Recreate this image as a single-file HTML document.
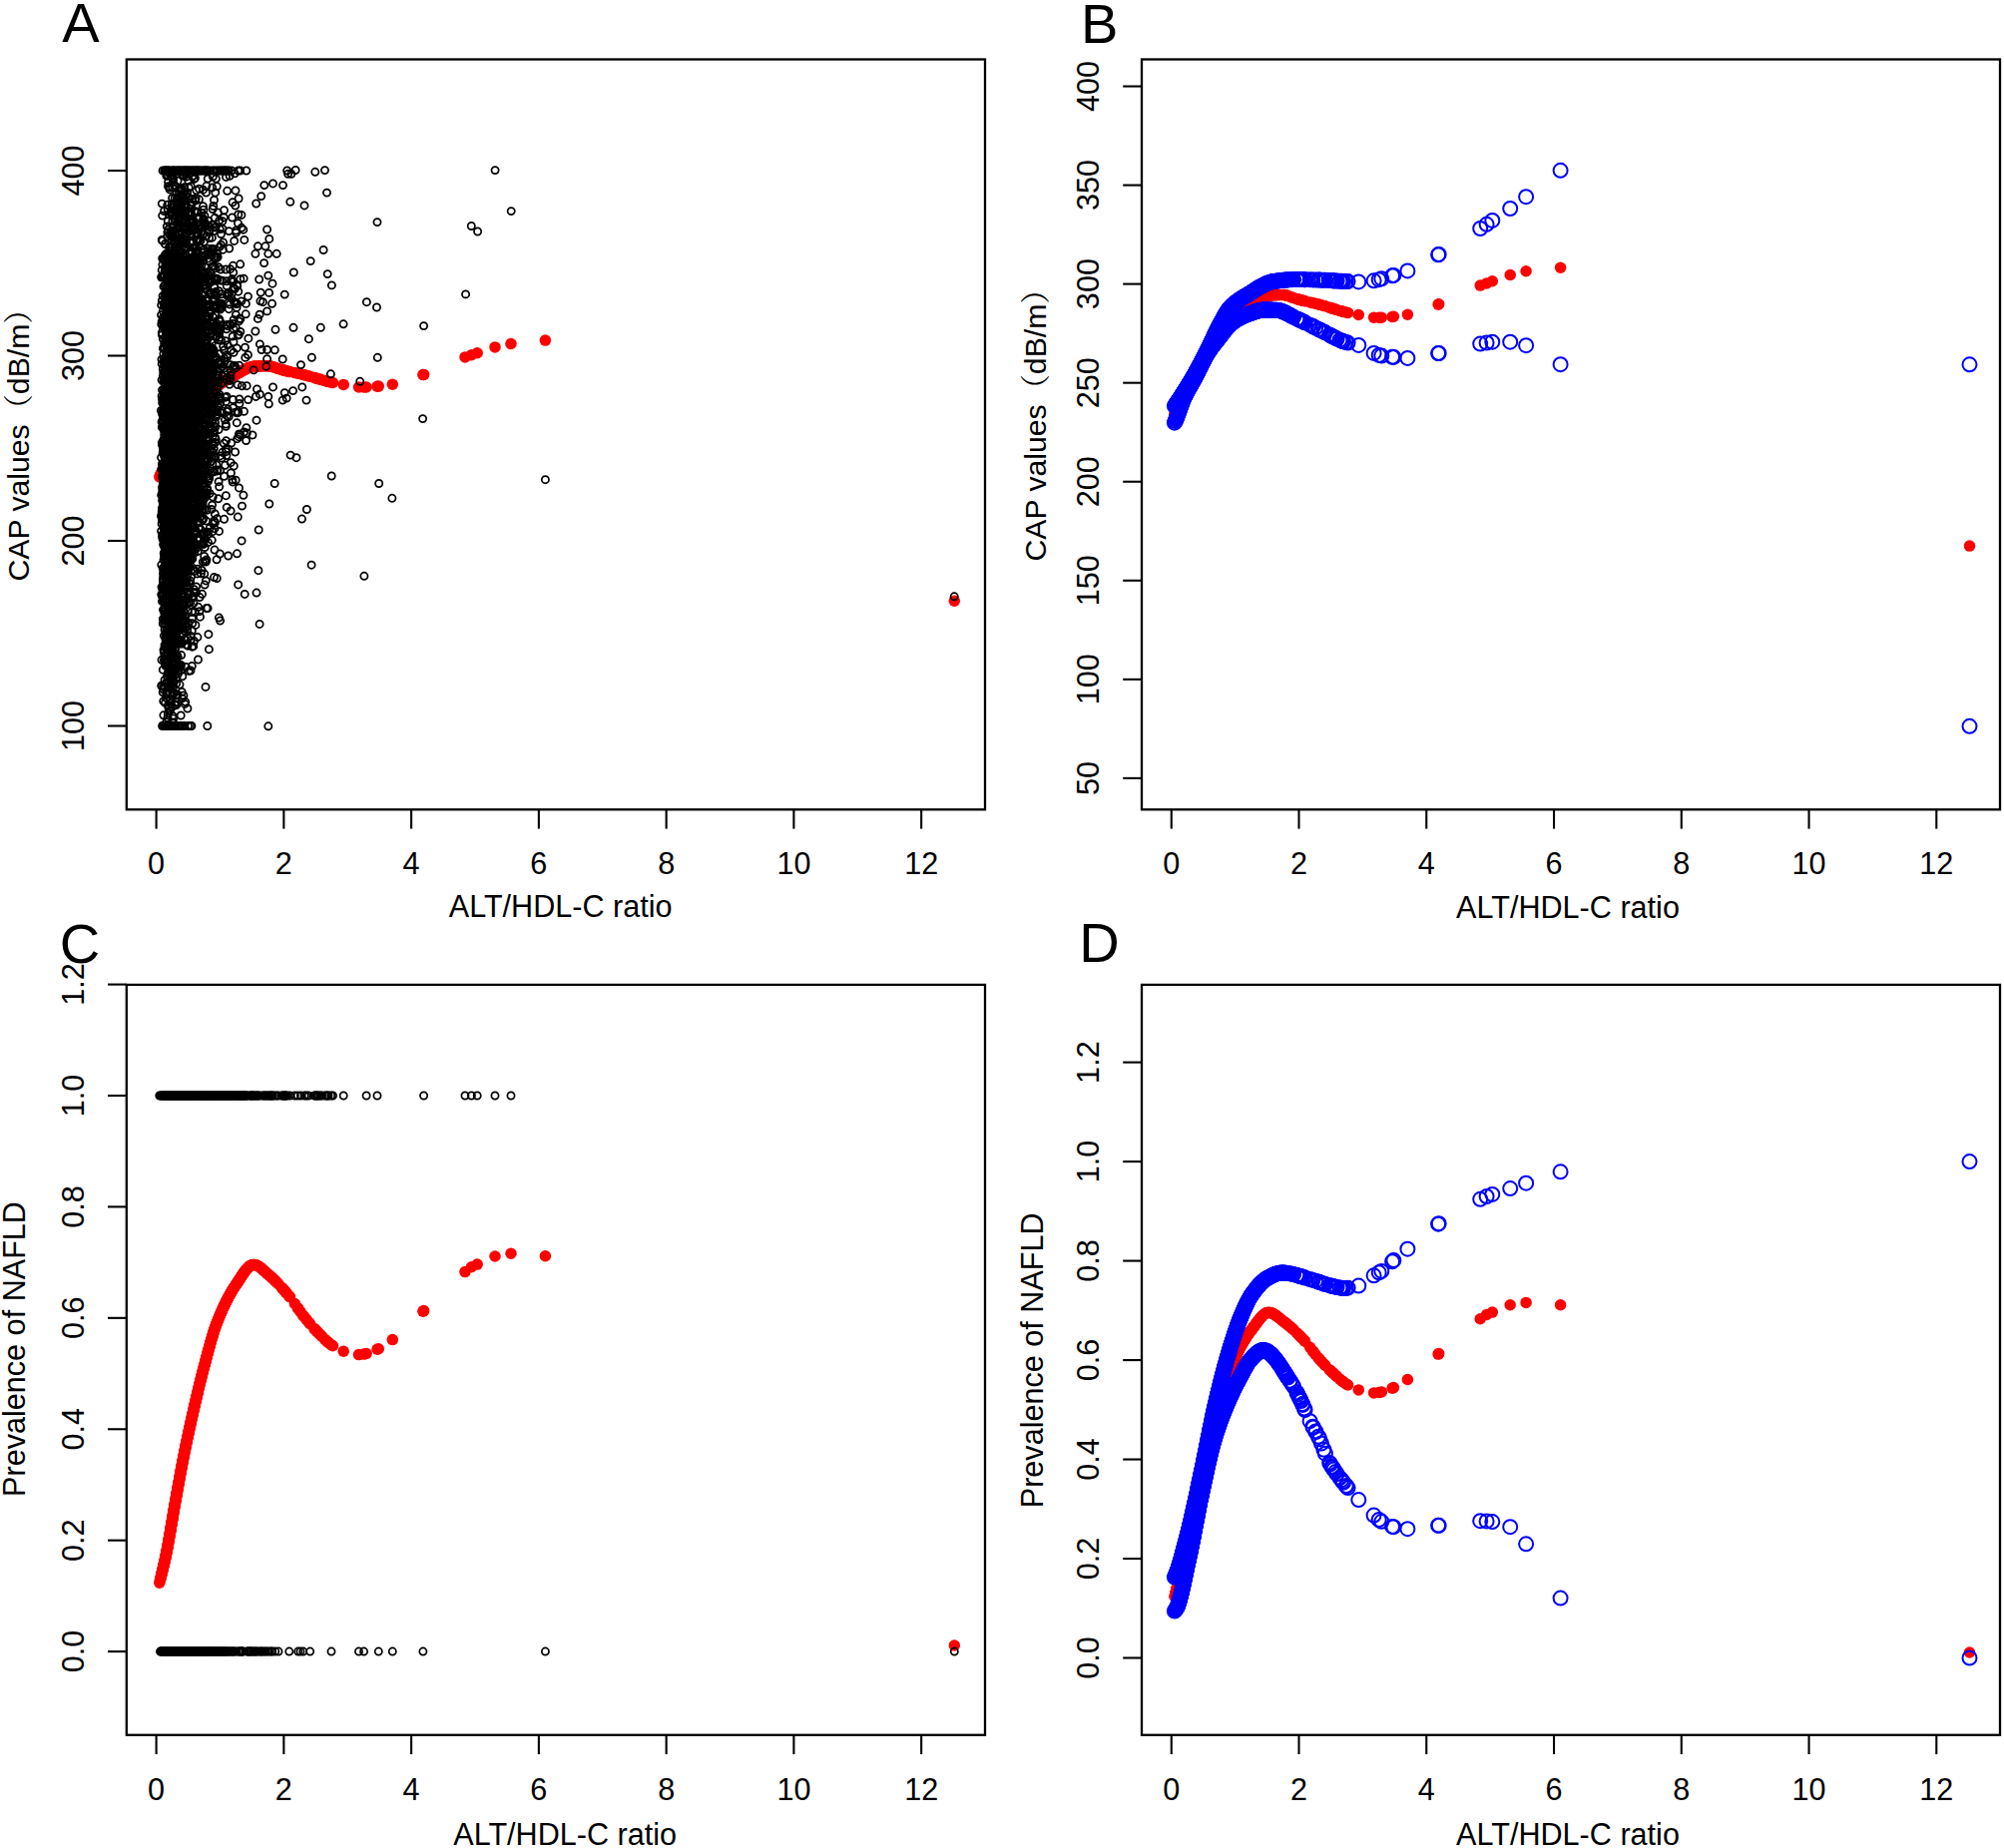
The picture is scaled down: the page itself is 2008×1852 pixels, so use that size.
<!DOCTYPE html>
<html><head><meta charset="utf-8"><title>Figure</title>
<style>
html,body{margin:0;padding:0;background:#fff;}
svg{display:block;}
.t{font-family:"Liberation Sans", Arial, sans-serif;font-size:30.6px;fill:#000;}
.cj{font-family:"Noto Serif CJK SC",serif;}
.L{font-family:"Liberation Sans", Arial, sans-serif;font-size:56px;fill:#000;}
</style></head><body>
<svg xmlns="http://www.w3.org/2000/svg" width="2008" height="1852" viewBox="0 0 2008 1852">
<defs>
<marker id="mb" markerUnits="userSpaceOnUse" markerWidth="12" markerHeight="12" refX="6" refY="6" overflow="visible"><circle cx="6" cy="6" r="3.6" fill="none" stroke="#000" stroke-width="1.75"/></marker>
<marker id="mr" markerUnits="userSpaceOnUse" markerWidth="12" markerHeight="12" refX="6" refY="6" overflow="visible"><circle cx="6" cy="6" r="5.75" fill="#f00"/></marker>
<marker id="mbl" markerUnits="userSpaceOnUse" markerWidth="16" markerHeight="16" refX="8" refY="8" overflow="visible"><circle cx="8" cy="8" r="7.0" fill="none" stroke="#00f" stroke-width="2.0"/></marker>
</defs>
<rect width="2008" height="1852" fill="#fff"/>
<polyline points="159.8,478.0 160.5,476.6 160.8,476.0 161.1,475.4 161.6,474.5 161.8,473.9 162.2,473.2 162.5,472.7 162.8,472.2 163.1,471.6 163.4,471.1 163.6,470.5 164.0,469.9 164.3,469.4 164.5,468.9 164.9,468.3 165.2,467.7 165.5,467.2 165.8,466.6 166.1,466.1 166.4,465.6 166.7,465.0 167.0,464.5 167.3,464.0 167.6,463.4 167.9,462.9 168.2,462.4 168.5,461.9 168.8,461.3 169.1,460.8 169.4,460.2 169.8,459.7 170.1,459.2 170.4,458.7 170.7,458.1 171.0,457.6 171.3,457.1 171.6,456.6 171.9,456.0 172.3,455.5 172.6,455.0 172.9,454.5 173.2,454.0 173.5,453.5 173.9,453.0 174.2,452.4 174.5,451.9 174.9,451.4 175.2,450.9 175.5,450.3 175.8,449.8 176.1,449.3 176.5,448.8 176.8,448.3 177.1,447.8 177.4,447.2 177.7,446.7 178.1,446.2 178.4,445.7 178.7,445.2 179.0,444.7 179.3,444.1 179.6,443.6 179.9,443.1 180.2,442.5 180.5,442.0 180.9,441.5 181.1,440.9 181.4,440.4 181.8,439.9 182.0,439.3 182.3,438.8 182.6,438.3 182.9,437.7 183.2,437.2 183.5,436.6 183.8,436.1 184.1,435.6 184.4,435.0 184.7,434.5 185.0,433.9 185.3,433.4 185.5,432.9 185.8,432.3 186.1,431.8 186.4,431.3 186.7,430.7 187.0,430.2 187.3,429.6 187.6,429.1 187.9,428.5 188.2,428.0 188.5,427.5 188.8,426.9 189.1,426.4 189.4,425.8 189.7,425.3 190.0,424.7 190.3,424.2 190.6,423.6 190.9,423.1 191.2,422.6 191.5,422.0 191.8,421.5 192.2,421.0 192.5,420.4 192.8,419.9 193.1,419.4 193.5,418.8 193.8,418.3 194.1,417.8 194.5,417.3 194.8,416.8 195.1,416.3 195.5,415.7 195.8,415.2 196.1,414.7 196.5,414.1 196.8,413.6 197.2,413.1 197.5,412.6 197.8,412.0 198.2,411.5 198.5,410.9 198.9,410.4 199.2,409.9 199.5,409.4 199.9,408.8 200.2,408.3 200.5,407.8 200.9,407.3 201.2,406.7 201.6,406.2 201.9,405.7 202.3,405.1 202.7,404.6 203.0,404.1 203.4,403.5 203.7,403.0 204.1,402.5 204.5,401.9 204.9,401.4 205.2,400.9 205.6,400.4 205.9,399.8 206.3,399.4 206.7,398.9 207.1,398.3 207.5,397.8 207.8,397.3 208.2,396.8 208.6,396.3 209.1,395.7 209.5,395.2 209.9,394.7 210.3,394.2 210.7,393.7 211.2,393.2 211.6,392.7 212.0,392.2 212.4,391.8 212.9,391.2 213.5,390.7 213.9,390.3 214.4,389.8 215.0,389.3 215.4,388.8 215.9,388.4 216.4,388.0 216.8,387.6 217.4,387.2 217.9,386.7 218.5,386.3 219.2,385.7 219.7,385.4 220.3,384.9 220.8,384.5 221.5,384.1 222.1,383.6 222.6,383.3 223.2,382.9 223.7,382.5 224.2,382.2 224.7,381.9 225.3,381.5 225.9,381.1 226.4,380.8 226.9,380.5 227.5,380.2 228.1,379.8 228.7,379.5 229.4,379.1 230.0,378.7 230.6,378.4 231.2,378.0 231.9,377.7 232.5,377.4 233.1,377.0 233.7,376.7 234.4,376.3 235.2,375.9 235.7,375.6 236.3,375.3 236.8,375.0 237.3,374.7 238.0,374.4 238.7,374.0 239.3,373.6 239.9,373.3 240.4,373.0 241.3,372.5 242.3,371.9 242.8,371.6 243.5,371.3 244.1,371.0 244.8,370.6 245.5,370.2 246.1,369.9 246.8,369.6 247.3,369.3 248.0,369.0 249.4,368.5 250.1,368.2 251.1,367.9 251.9,367.7 252.5,367.5 253.2,367.4 254.0,367.2 255.4,367.1 256.3,367.0 257.1,367.0 258.2,366.9 259.3,366.9 260.2,366.9 261.5,366.8 262.5,366.8 263.9,366.8 264.5,366.7 266.0,366.7 267.2,366.7 268.8,366.7 269.6,366.8 270.6,366.9 271.8,367.2 272.5,367.4 273.3,367.6 275.3,368.3 277.4,369.0 278.9,369.6 282.2,370.6 283.2,370.8 284.5,371.1 285.1,371.3 285.9,371.5 286.5,371.6 287.9,371.9 289.8,372.4 290.5,372.5 295.4,373.6 298.3,374.2 301.0,374.8 303.8,375.5 305.1,375.8 306.9,376.2 309.2,376.9 310.7,377.3 315.0,378.5 315.9,378.8 317.4,379.2 318.1,379.4 319.3,379.8 321.1,380.3 322.5,380.7 325.4,381.5 327.1,382.0 328.3,382.3 329.0,382.5 331.7,383.1 333.5,383.5 344.2,385.4 359.5,388.0 364.6,388.0 367.1,388.0 378.0,387.2 379.3,387.1 393.3,385.3 423.9,375.6 424.6,375.4 466.0,357.9 472.4,355.8 478.2,353.8 496.0,347.9 512.0,344.5 546.4,341.1 956.3,602.3" fill="none" stroke="none" marker-start="url(#mr)" marker-mid="url(#mr)" marker-end="url(#mr)"/>
<polyline points="175.6,539.6 161.7,496.2 178.7,487.4 215.7,307.5 183.7,571.0 191.2,438.3 172.6,499.2 195.0,265.3 175.3,403.3 176.3,474.8 180.8,341.0 189.3,486.2 194.5,259.8 197.1,352.6 173.4,237.9 197.3,302.3 190.1,345.2 163.4,417.5 164.2,554.4 182.6,352.5 172.3,424.1 181.4,356.3 172.3,433.1 198.3,509.8 163.7,545.3 168.3,353.4 172.3,286.7 166.9,464.4 174.1,380.9 184.4,276.4 166.3,525.8 181.8,470.2 190.8,557.8 208.2,299.3 226.3,402.4 193.3,483.7 172.6,618.0 211.7,452.0 196.4,319.6 212.9,464.9 175.2,479.4 164.3,359.6 166.6,570.2 181.4,425.7 190.3,364.3 173.9,519.1 188.1,524.7 169.1,403.6 171.7,442.6 192.5,457.9 180.5,408.1 181.1,406.4 194.5,535.4 191.1,506.2 172.2,380.9 187.2,305.3 167.0,279.1 175.5,526.4 190.7,308.3 166.2,346.0 207.9,434.5 230.8,376.3 191.0,337.9 209.9,230.3 195.2,549.4 179.3,363.5 194.6,446.6 183.1,454.1 167.9,302.1 172.2,339.0 170.6,544.7 194.0,462.6 181.3,405.2 184.2,589.2 176.7,333.8 167.8,439.1 227.6,412.4 195.3,228.0 177.0,426.5 195.8,470.6 172.2,235.6 175.0,486.8 166.3,489.3 178.4,585.9 188.1,309.4 175.6,400.0 173.7,377.7 166.8,411.8 170.8,445.6 192.8,518.3 172.9,517.8 205.5,382.0 171.0,416.5 185.0,247.6 172.1,515.4 174.6,484.8 183.8,544.5 165.1,275.9 182.2,568.2 194.9,343.8 185.6,269.2 179.5,445.9 179.3,349.0 177.3,668.3 178.2,473.4 167.6,615.7 181.9,410.9 194.3,429.1 180.1,516.1 183.7,324.3 183.5,390.3 172.4,488.6 172.7,487.4 163.5,594.5 176.4,450.7 215.8,192.9 172.8,509.5 171.4,382.9 188.9,491.3 185.2,340.0 183.0,380.7 184.3,456.0 178.8,629.3 176.6,487.4 173.8,295.6 210.3,457.1 182.7,359.5 170.4,483.6 173.8,638.6 203.6,382.1 167.6,394.0 196.2,494.5 176.2,471.2 227.1,397.4 185.0,496.1 179.3,391.1 198.6,452.5 182.2,693.4 174.9,445.9 179.3,496.5 171.5,523.3 196.8,384.7 166.6,484.3 179.2,369.3 164.6,307.4 188.4,413.6 162.5,602.7 168.1,511.4 187.5,327.5 174.5,458.5 172.1,519.8 169.9,439.6 175.7,373.2 165.8,400.5 186.9,357.2 185.5,521.7 188.5,460.1 177.7,457.6 199.6,431.8 175.3,663.8 192.3,455.8 177.7,579.4 186.0,273.8 175.5,255.2 162.9,241.3 194.1,338.7 176.1,483.6 239.4,321.9 164.3,451.6 196.8,360.8 168.5,530.1 176.8,494.8 171.7,377.1 194.4,230.8 178.7,431.9 213.3,177.0 193.0,171.0 178.9,572.4 200.8,432.0 181.0,535.5 177.1,444.5 195.1,488.7 177.6,436.4 190.4,321.0 178.9,323.8 173.2,399.8 190.2,415.6 169.1,414.6 194.3,364.6 215.6,428.2 168.6,372.5 183.5,575.2 181.3,340.0 196.7,233.2 168.9,408.2 174.1,586.8 188.0,277.5 201.3,465.5 191.9,727.5 182.3,453.0 177.3,360.8 238.1,385.6 183.1,289.7 181.2,359.1 181.1,414.6 175.9,649.7 182.6,553.2 173.8,408.4 180.7,352.7 203.6,543.5 202.2,497.0 188.2,375.9 174.5,642.2 170.7,646.4 193.8,454.2 174.6,400.2 178.7,482.1 168.7,685.3 173.0,425.8 174.6,577.2 182.3,355.2 173.1,439.7 179.7,398.8 183.1,356.6 174.9,335.8 182.8,289.1 192.5,384.0 211.3,279.5 178.8,498.6 179.6,325.8 180.1,398.2 205.0,538.9 193.0,437.1 169.3,487.7 176.6,490.2 174.1,418.6 178.9,309.4 165.6,463.9 180.3,414.3 165.6,592.7 173.6,416.3 223.4,299.0 202.8,337.5 172.0,375.1 168.8,487.3 168.7,537.5 164.9,438.8 167.6,578.2 172.4,566.5 171.5,322.7 184.4,531.1 186.7,227.0 170.1,588.4 220.8,380.1 182.3,559.6 181.1,408.7 202.9,544.8 202.8,423.7 171.9,445.8 181.3,478.9 176.3,370.9 169.3,259.2 210.1,494.5 219.0,329.2 168.4,418.8 186.0,431.7 168.6,182.5 181.1,671.6 176.1,504.6 170.7,631.2 198.0,463.4 178.6,454.0 185.2,171.0 196.6,389.5 182.5,227.1 204.2,282.8 177.6,477.7 195.8,374.6 200.9,241.2 192.7,408.9 170.4,404.9 227.3,371.9 172.4,596.9 203.9,519.4 174.1,390.6 178.2,367.2 173.4,531.3 195.9,464.6 174.4,442.1 184.2,445.3 167.3,350.6 174.6,416.5 183.2,409.8 173.1,587.1 164.0,546.6 188.4,392.4 167.2,607.3 225.6,398.3 174.9,502.7 217.6,519.7 193.8,356.0 182.0,504.6 171.8,525.0 175.5,504.5 186.0,422.3 166.5,171.0 180.6,666.7 168.7,431.1 175.6,456.0 162.2,322.1 183.6,470.6 176.7,706.5 190.6,280.2 178.3,551.6 175.1,436.0 175.5,583.0 190.2,552.3 173.2,485.1 192.0,333.1 196.7,334.7 174.6,496.7 185.1,373.1 180.4,471.4 244.5,412.3 176.6,360.0 205.4,498.9 195.8,444.6 164.4,405.3 183.1,419.7 189.6,519.5 206.8,236.4 169.6,481.8 186.8,344.9 168.9,407.1 171.9,292.7 170.1,675.6 192.9,199.5 207.8,454.1 178.0,568.6 198.0,415.7 172.3,176.4 169.7,373.4 170.7,568.7 208.5,482.3 169.6,280.1 164.7,588.1 177.7,450.6 196.9,463.4 168.5,186.7 175.4,463.2 169.4,282.7 198.6,506.5 184.3,520.7 188.4,317.5 181.3,360.4 171.2,624.7 184.1,358.5 174.3,358.2 169.4,499.5 169.4,405.7 180.6,400.2 170.3,485.1 188.5,496.3 163.4,506.0 185.7,461.1 179.4,580.0 199.9,435.4 171.7,598.6 166.8,422.2 170.2,440.1 189.4,547.0 178.8,334.9 181.1,213.1 176.8,281.8 173.5,584.2 181.4,287.6 166.6,406.2 172.8,436.7 190.7,497.6 206.1,431.5 183.4,274.8 175.3,369.6 199.3,477.3 174.8,506.0 167.9,477.5 180.0,364.9 204.4,221.2 196.9,549.6 174.0,431.1 184.5,474.1 173.2,515.4 202.5,386.2 185.5,369.0 176.2,590.0 167.9,547.1 179.7,296.8 176.6,395.3 188.8,487.1 177.5,473.5 178.5,379.4 173.6,486.6 175.1,555.4 182.4,430.8 169.1,329.3 176.4,546.4 185.7,312.3 165.6,527.6 177.6,430.0 167.8,435.6 187.5,359.8 210.4,356.2 183.6,576.9 171.4,581.9 176.4,315.5 173.5,418.2 186.2,384.1 173.2,393.4 178.0,259.2 161.8,566.1 173.3,308.8 169.6,522.6 175.5,349.3 215.3,280.6 165.5,585.7 168.2,385.7 186.1,461.9 169.3,463.4 177.4,426.1 176.8,548.6 175.5,538.7 173.0,357.2 201.1,336.2 200.8,494.4 167.1,593.7 184.6,171.7 204.1,307.8 178.1,390.6 167.8,546.1 172.8,496.0 193.9,403.7 168.0,538.2 191.3,251.6 185.1,415.6 173.5,386.9 181.2,545.9 183.2,532.3 188.9,518.9 196.3,400.0 166.3,460.5 190.9,463.1 189.6,395.6 196.8,405.7 174.1,265.2 191.8,452.8 179.0,543.9 168.6,432.1 218.8,267.6 170.2,492.6 169.7,425.4 182.6,470.7 174.0,385.7 185.5,402.2 173.7,521.2 181.8,456.2 199.3,325.9 183.5,308.8 200.5,328.0 199.4,334.7 170.3,467.9 189.7,471.3 194.6,327.3 175.9,561.3 197.4,437.2 191.1,637.4 188.0,473.0 165.9,509.3 179.0,564.8 179.9,366.3 173.8,512.5 181.9,471.6 174.7,459.4 202.0,512.6 190.7,272.5 177.5,485.6 182.8,575.9 195.0,483.3 186.4,466.7 177.6,464.8 178.4,495.6 163.8,414.7 168.9,257.4 195.2,445.4 211.2,474.0 170.7,251.3 186.4,368.7 169.9,509.5 183.8,447.6 177.4,407.2 176.9,417.3 173.4,525.7 176.0,517.2 194.8,373.3 172.0,395.9 175.9,664.6 172.3,420.3 195.2,289.4 180.3,502.2 172.1,403.9 175.0,592.0 173.9,338.1 168.7,554.3 188.4,569.4 164.8,465.7 204.3,171.0 185.8,498.3 170.0,570.6 201.9,379.2 195.6,405.0 170.4,246.5 179.7,571.2 177.6,607.3 171.1,465.4 190.1,388.4 193.3,390.8 174.7,310.1 163.1,596.2 180.5,522.0 171.5,445.0 166.5,337.3 176.6,377.6 162.6,477.2 172.4,543.7 219.5,332.5 161.8,325.0 201.4,171.0 170.0,450.1 180.0,250.2 168.1,564.6 185.2,490.7 176.5,505.5 170.4,481.8 166.5,527.5 173.0,490.6 198.4,436.4 167.7,480.3 189.0,357.2 183.4,439.6 164.3,430.5 213.3,266.9 180.1,395.4 235.9,413.2 214.6,432.5 176.7,423.4 168.3,519.2 169.0,303.4 204.7,256.1 180.6,302.4 172.1,606.9 186.6,478.7 195.8,413.3 182.9,338.5 179.3,463.9 163.4,504.6 170.5,312.2 191.7,330.0 175.6,577.7 203.9,399.4 197.3,492.1 208.5,535.4 167.6,635.4 179.3,604.0 178.1,384.3 192.0,473.3 183.1,400.0 185.7,548.1 180.2,460.4 169.8,601.5 171.3,614.6 175.7,381.5 169.9,413.9 190.3,533.7 182.8,441.5 204.5,356.8 173.5,227.3 163.7,528.7 174.2,361.9 186.2,195.5 192.2,423.0 212.2,267.6 181.2,717.0 230.6,269.7 190.5,431.4 173.5,343.8 197.7,313.9 177.5,296.3 174.1,297.3 187.8,433.6 178.8,513.2 189.5,481.4 171.9,434.1 204.0,385.3 181.8,483.7 177.6,424.9 173.8,333.0 169.9,394.2 170.7,175.8 236.0,190.9 165.6,557.7 185.2,493.3 172.4,575.6 170.3,559.5 174.6,540.5 186.2,546.5 186.0,460.3 182.9,341.4 166.9,469.7 164.9,470.0 236.3,328.3 170.7,377.9 166.8,379.6 208.6,325.0 165.4,542.7 192.4,406.4 189.5,500.7 188.3,316.2 202.7,339.6 165.9,546.4 170.4,281.6 173.2,560.2 184.6,300.2 179.2,407.5 181.2,527.2 169.3,554.7 163.5,464.2 184.9,433.0 174.3,509.3 196.7,367.7 205.1,586.1 180.4,431.1 187.9,430.2 167.1,638.6 196.6,395.9 177.8,570.9 172.7,708.4 189.3,498.7 168.5,455.8 193.7,329.7 183.1,484.5 233.5,266.3 166.4,270.1 182.8,308.6 175.9,391.3 172.9,492.4 227.6,358.1 182.0,403.8 171.4,457.7 169.3,605.2 177.1,355.0 171.7,391.2 168.5,575.5 182.1,419.3 183.1,349.8 185.5,442.6 183.2,343.0 169.6,346.2 181.2,595.2 181.1,464.0 174.5,376.3 179.5,328.1 191.9,273.0 173.0,644.5 177.5,437.8 196.8,350.5 209.7,293.7 181.7,242.0 175.4,534.8 168.4,472.0 173.7,548.1 191.3,339.1 183.7,578.3 187.5,298.2 182.1,325.8 173.2,376.0 173.3,673.0 167.9,506.1 184.6,346.7 174.1,588.8 170.0,457.2 183.2,442.1 180.1,331.0 190.0,398.9 183.6,479.7 210.0,429.9 181.0,445.5 197.4,349.1 172.2,450.5 178.8,315.0 163.3,620.3 182.3,296.3 168.6,449.5 186.3,304.4 164.0,421.2 172.7,335.0 187.6,263.5 181.7,492.5 165.9,421.6 174.2,449.6 181.0,611.6 180.6,449.7 161.6,458.5 168.8,518.5 185.5,452.4 175.5,603.1 194.7,274.3 198.8,380.7 189.9,220.0 186.3,528.4 164.0,561.1 170.9,617.2 173.1,405.4 199.8,509.3 186.0,468.1 197.3,402.4 193.7,222.6 194.7,360.2 166.7,575.3 180.3,321.3 172.2,580.6 176.2,421.2 169.2,570.3 166.8,523.5 193.4,284.0 179.8,493.2 193.1,503.0 176.2,493.9 171.5,466.0 168.8,269.9 175.5,562.9 171.9,569.4 235.3,366.4 206.9,609.5 205.3,472.1 172.8,304.8 167.2,431.2 169.1,510.8 195.7,533.9 178.1,497.6 184.5,292.6 212.3,323.7 169.0,495.0 181.9,513.6 168.6,354.1 171.1,634.9 171.3,481.1 181.7,468.4 176.3,556.3 190.8,543.5 191.8,393.5 168.9,617.3 166.3,534.7 169.7,505.1 174.7,423.6 172.1,586.1 174.1,311.5 194.4,467.5 191.9,462.2 174.8,473.7 171.9,508.6 173.2,543.0 183.4,305.3 179.6,410.9 165.8,446.0 177.5,322.7 164.1,513.4 182.3,363.7 189.2,431.6 167.6,533.5 184.9,349.5 169.1,601.2 173.6,361.8 208.1,533.2 194.7,280.6 181.4,502.0 176.7,438.1 183.2,476.0 168.1,565.9 174.1,558.6 174.8,430.4 167.7,375.5 192.3,632.1 190.9,443.6 172.3,379.2 166.8,423.6 169.4,547.6 173.1,320.7 169.7,571.5 167.2,364.0 174.4,258.0 172.3,663.5 186.0,407.8 164.5,401.6 168.2,522.1 168.7,471.4 171.2,592.2 172.3,422.2 193.0,377.2 184.9,511.0 172.6,540.0 171.1,489.7 215.5,438.1 219.1,430.5 183.5,448.8 185.2,583.0 183.3,727.5 175.1,368.9 240.9,279.6 172.4,595.0 191.2,511.6 174.3,404.3 184.0,331.8 175.9,365.7 184.9,295.8 194.9,443.8 171.1,391.8 176.9,392.2 184.0,485.8 177.4,304.5 236.0,368.7 167.9,329.3 236.2,481.2 174.7,323.6 186.4,554.9 215.8,394.3 174.4,727.5 165.6,550.0 177.5,356.4 177.8,488.1 188.0,418.9 182.9,617.9 214.2,266.6 214.0,372.1 169.8,441.1 198.6,392.1 165.5,401.9 187.7,281.4 163.6,601.3 191.4,466.6 183.9,296.1 199.9,375.2 165.5,484.9 168.9,370.7 178.1,425.4 173.5,370.8 173.7,613.9 170.2,537.7 177.2,364.5 168.1,462.9 205.4,399.3 182.0,221.5 167.7,472.8 190.6,411.5 182.5,499.9 178.8,507.4 181.4,446.5 170.5,599.0 170.7,671.1 164.0,287.2 165.9,449.7 169.6,314.0 183.2,424.7 201.6,421.8 179.4,364.1 178.2,358.8 187.8,571.3 178.7,304.7 182.5,545.6 185.9,415.8 170.7,171.0 183.5,429.3 190.2,253.9 167.9,476.6 170.3,370.3 167.7,432.5 208.8,392.0 213.0,532.7 183.5,539.7 213.8,401.1 165.2,610.9 195.9,531.4 234.3,367.2 203.0,506.2 168.2,536.3 187.9,560.6 178.0,421.9 193.6,478.3 172.6,421.6 178.2,458.9 177.9,233.6 183.0,486.3 171.3,654.4 198.8,425.3 191.7,437.8 185.5,420.8 172.7,615.4 179.3,313.1 178.8,441.5 190.0,442.8 174.2,612.8 185.2,385.8 178.1,445.3 183.5,289.0 171.0,483.9 163.5,574.4 187.9,423.9 181.6,538.8 170.4,392.3 204.7,557.4 168.1,452.3 193.3,463.1 182.0,441.8 180.5,494.7 191.2,527.4 193.1,444.6 176.9,501.9 169.3,421.3 167.5,468.0 172.7,685.2 209.1,444.9 204.8,285.3 179.7,404.7 186.6,372.2 192.3,388.0 207.7,489.6 168.5,584.6 195.8,349.2 188.2,322.3 172.5,375.9 170.1,391.5 205.7,394.7 177.4,408.0 180.2,436.7 176.2,541.5 202.9,507.0 177.8,375.8 170.3,475.1 170.3,702.6 170.1,424.3 169.1,687.9 222.9,229.1 224.8,359.3 192.8,364.5 178.5,510.4 168.0,560.9 169.0,461.0 184.1,435.6 177.7,521.7 173.2,420.5 176.0,362.8 217.5,372.3 187.2,550.8 172.0,673.1 181.9,437.2 195.3,509.2 186.3,388.9 190.7,259.0 167.7,259.1 165.7,406.2 165.3,316.8 163.9,258.7 184.8,407.6 172.1,344.6 184.9,440.9 182.4,491.1 175.3,518.2 166.5,436.1 199.4,504.1 214.0,350.3 172.0,472.8 184.9,305.4 168.5,570.6 177.7,319.4 164.3,479.9 179.4,287.9 166.4,380.6 198.0,441.0 186.9,363.3 166.2,496.2 189.4,400.3 165.6,394.2 180.3,451.6 188.0,393.8 175.9,543.5 169.5,375.3 173.5,566.1 179.0,368.1 181.8,384.3 216.7,358.7 206.5,495.2 171.8,459.3 171.7,418.4 176.3,515.9 193.8,280.4 163.4,485.1 175.1,327.3 204.3,535.9 168.3,400.7 170.7,473.9 173.9,333.7 184.3,465.1 176.8,385.0 164.9,561.8 182.4,536.4 182.2,350.8 168.1,634.4 182.5,351.6 188.6,476.2 165.4,531.3 166.3,406.7 170.4,365.0 174.7,346.7 205.6,351.7 175.1,437.8 190.0,514.8 175.6,495.9 213.2,359.2 218.2,370.1 174.4,399.3 173.7,282.7 182.9,463.7 167.4,472.2 173.8,472.6 167.3,226.9 172.7,651.3 218.5,383.3 184.4,424.3 178.0,181.2 182.5,305.6 168.6,348.3 178.3,377.3 183.1,470.1 194.8,425.6 164.1,408.8 181.2,481.5 195.2,362.5 170.6,256.0 240.2,319.3 172.2,406.6 208.9,635.7 199.9,313.7 204.9,314.6 181.9,450.0 192.3,480.2 170.4,359.0 169.3,515.3 164.7,344.2 181.2,544.0 169.8,526.9 191.0,427.1 180.0,583.8 167.3,428.5 193.7,372.0 176.9,568.6 186.3,329.9 182.8,488.2 181.0,370.0 180.2,405.6 193.5,476.8 168.6,483.9 165.8,609.6 169.9,502.2 190.6,510.1 180.8,253.5 240.8,319.9 173.6,342.9 181.1,468.3 209.5,378.8 179.7,343.8 168.4,488.2 190.7,456.9 212.4,410.1 161.6,532.2 189.0,408.1 182.9,436.2 171.7,516.8 184.7,395.2 183.2,334.7 167.1,518.2 187.0,348.1 172.6,409.4 182.9,364.7 175.9,304.1 178.0,523.1 190.0,442.2 179.7,490.7 183.9,520.0 169.5,215.1 191.5,327.9 175.6,614.4 173.6,382.2 175.3,486.1 161.7,305.7 180.6,418.4 174.1,445.7 163.0,412.1 188.9,386.6 175.9,441.8 189.2,373.1 175.8,427.4 185.7,439.8 189.1,478.5 163.4,349.2 174.7,563.6 167.4,517.2 209.3,369.5 191.5,476.6 169.3,421.9 169.3,386.4 182.0,595.9 173.6,379.3 173.2,506.2 163.9,454.0 177.1,439.0 207.1,341.6 176.1,349.0 184.5,240.4 218.9,408.3 189.9,477.4 201.1,480.2 193.0,358.0 218.2,257.6 165.8,391.0 165.8,398.0 239.8,400.0 181.7,423.6 175.1,505.5 166.8,695.2 161.6,315.7 239.9,404.5 171.2,660.4 180.0,426.5 164.7,622.2 186.4,216.7 185.4,406.9 174.0,554.2 193.7,342.7 169.2,509.7 186.5,367.7 193.9,424.7 180.9,551.7 188.1,356.7 173.4,568.5 172.0,285.3 187.6,420.6 171.9,535.7 166.8,618.6 203.7,256.2 167.3,273.6 204.3,253.0 196.2,409.3 174.2,450.4 179.6,436.2 185.5,455.4 183.9,275.8 171.6,411.1 176.6,621.7 191.5,205.8 184.4,333.8 189.6,542.0 181.6,464.7 171.7,522.6 181.5,422.1 229.9,385.3 172.2,401.8 174.2,490.2 169.4,511.6 188.6,337.5 167.6,437.6 199.5,189.2 185.7,512.3 170.7,421.8 165.6,507.3 185.5,283.0 168.9,413.9 170.4,521.4 173.5,460.7 174.3,319.5 184.3,556.4 231.5,281.3 163.9,354.6 170.4,456.4 189.4,283.6 172.1,242.1 174.9,363.7 182.7,408.9 229.4,231.6 215.9,268.8 173.0,525.1 180.0,448.9 175.7,470.5 166.2,585.5 165.8,331.5 175.2,418.1 196.3,416.5 202.0,277.7 164.1,486.9 176.7,433.0 173.1,397.9 181.0,472.9 168.6,438.8 200.5,345.7 176.7,427.9 196.5,285.7 188.0,506.7 172.2,578.5 207.6,439.5 210.0,282.3 189.4,347.9 175.1,372.9 192.9,230.9 211.2,273.5 210.8,350.6 199.7,500.4 166.6,580.8 192.2,430.2 175.7,457.9 179.4,603.1 191.6,268.2 191.5,548.5 171.1,498.6 197.2,366.3 177.0,600.5 183.0,328.8 169.6,327.0 178.5,542.0 188.3,477.5 172.4,624.5 180.9,278.8 184.9,421.2 181.9,505.6 184.1,523.9 231.2,365.7 176.4,266.4 206.3,563.1 182.8,615.0 172.3,354.7 228.4,410.3 174.9,185.4 196.3,440.1 168.8,473.6 167.5,502.9 198.5,335.7 182.4,601.3 173.6,346.7 248.6,400.6 174.0,481.1 200.0,523.7 171.3,314.0 178.5,474.8 196.6,240.2 163.0,493.5 180.4,454.0 170.2,557.8 169.6,442.8 181.6,435.7 175.2,471.9 172.2,506.3 181.9,596.9 177.1,571.4 179.7,531.9 211.2,358.1 176.4,481.7 186.6,518.5 176.4,356.5 192.0,366.5 182.6,508.1 171.7,494.4 167.1,355.9 168.2,387.7 168.5,516.9 188.9,401.1 179.4,307.1 181.4,520.4 197.0,331.9 210.7,380.4 170.4,535.7 194.1,313.4 196.7,329.0 167.6,569.2 190.4,213.3 168.1,550.6 183.4,461.8 166.1,343.8 171.7,364.1 170.8,437.2 186.7,279.4 172.5,383.2 192.5,276.1 175.6,171.0 174.1,406.1 175.4,705.7 181.3,476.0 176.7,543.6 179.1,417.0 192.8,560.1 171.7,552.1 171.1,455.6 168.9,448.3 187.9,710.0 172.3,321.2 167.5,423.6 182.8,428.1 199.8,394.7 166.5,538.5 177.5,432.5 168.1,313.8 218.9,376.6 180.1,457.5 173.6,516.8 186.2,282.7 185.8,369.6 176.4,473.3 165.3,664.8 167.0,522.4 197.9,638.6 174.2,290.2 202.4,406.3 170.1,508.9 200.2,457.4 208.6,171.0 181.2,293.1 204.8,575.1 172.5,562.8 167.4,617.3 171.7,407.8 182.8,171.0 173.0,254.4 175.6,422.2 206.1,468.6 165.4,404.7 169.4,312.4 167.3,588.9 169.3,634.3 215.3,218.3 192.3,395.9 196.6,248.6 167.7,495.0 169.4,371.6 185.7,254.3 187.2,313.3 174.9,478.3 172.7,327.3 166.6,501.1 173.1,368.6 178.1,270.7 170.5,332.1 191.6,567.6 191.0,329.8 231.6,351.0 172.3,478.4 171.3,705.2 179.9,313.3 183.4,327.7 178.0,371.3 171.6,621.0 163.0,594.0 195.8,336.9 164.7,371.5 174.5,454.7 190.3,382.8 196.7,487.8 177.0,462.1 180.9,524.4 220.4,398.0 198.6,474.0 177.1,320.0 174.7,346.0 189.6,518.4 192.2,220.3 170.5,553.3 178.1,376.3 189.7,305.0 181.7,282.7 180.1,314.2 168.0,289.5 240.7,264.8 182.8,677.8 200.8,503.3 178.8,477.3 197.2,275.7 187.2,503.6 165.9,288.3 167.0,591.2 174.6,539.0 171.1,480.0 216.2,416.1 193.8,314.7 178.1,447.6 217.2,324.2 172.7,605.0 166.8,727.5 175.8,465.1 176.6,375.1 178.3,467.9 185.3,541.2 179.4,379.2 186.8,208.3 195.3,438.7 179.5,509.1 188.1,522.7 191.1,204.5 169.8,357.7 166.9,288.9 210.7,305.1 180.1,531.3 176.9,318.8 171.3,331.5 187.0,371.6 181.6,312.7 180.7,490.5 170.6,435.4 168.0,486.4 221.5,341.2 168.7,500.9 180.6,382.5 192.8,550.8 164.7,440.8 187.4,467.9 179.6,439.9 178.0,412.0 181.9,447.8 162.0,661.3 241.8,301.9 173.9,497.5 191.7,454.7 191.0,520.6 188.7,313.9 180.7,529.3 193.9,369.9 228.5,293.7 197.4,240.8 216.2,292.5 178.0,356.9 171.1,562.4 186.5,280.9 192.1,292.5 192.7,332.0 238.3,336.0 193.2,418.0 177.9,484.8 246.4,304.4 191.2,282.6 192.3,323.1 176.3,398.5 170.6,326.1 182.3,395.1 179.6,300.6 172.9,310.2 185.1,325.8 172.4,581.3 175.2,332.8 165.2,420.0 173.4,552.5 228.2,345.8 183.8,579.6 207.0,324.5 186.6,234.5 192.9,481.8 174.6,321.6 175.6,374.3 191.1,351.8 165.2,577.0 184.2,409.8 225.9,341.6 192.1,301.5 175.3,348.1 162.2,270.7 170.5,403.8 210.3,312.7 188.4,398.6 184.0,365.5 233.2,483.1 192.5,337.1 170.0,286.5 182.0,334.9 218.1,375.8 187.5,384.2 208.4,276.1 170.1,477.8 173.6,622.5 164.3,400.6 177.9,495.2 164.5,211.5 174.9,427.9 215.6,423.8 181.8,493.4 181.2,395.4 178.9,486.1 215.4,523.7 187.2,430.1 190.3,513.4 178.6,276.3 171.3,552.9 174.9,499.7 169.0,576.6 212.4,238.2 177.4,656.7 183.9,261.4 170.0,579.9 179.3,171.6 174.3,659.4 181.1,575.4 162.7,403.8 179.1,483.6 169.4,426.6 173.6,530.1 174.5,409.4 198.9,257.2 173.6,407.6 206.2,289.5 192.9,202.5 169.8,488.2 187.8,389.6 180.5,485.4 172.1,614.9 181.2,643.7 167.4,504.0 181.7,288.3 172.6,441.5 207.1,349.7 175.4,340.9 172.4,428.9 175.7,215.4 192.7,460.1 224.6,477.3 188.9,603.2 189.6,375.0 189.4,452.2 182.0,211.4 173.0,460.1 169.9,333.0 219.5,319.6 181.1,240.4 169.1,568.2 176.8,249.6 182.1,421.5 173.2,434.6 178.4,457.4 179.8,466.7 200.7,461.1 165.0,681.4 186.3,366.5 172.3,416.1 171.9,528.3 211.7,430.1 206.4,171.0 176.2,380.9 184.3,465.9 186.8,233.8 191.8,511.1 173.6,440.0 176.2,449.2 182.8,342.2 179.8,358.9 171.0,503.9 180.3,437.4 196.7,413.7 171.9,468.3 175.0,427.2 180.9,502.8 170.1,504.4 193.9,418.3 183.7,537.2 163.3,377.1 172.1,444.7 167.6,525.0 188.2,490.9 191.2,476.1 168.2,441.0 172.5,410.8 177.7,446.4 172.7,519.1 201.9,265.7 204.2,323.8 189.0,411.3 208.0,318.7 197.8,387.5 177.6,452.0 174.9,414.1 177.4,171.0 200.7,314.4 203.1,309.0 193.3,466.9 177.7,357.6 182.5,175.3 185.3,376.7 214.6,305.7 191.8,285.4 185.8,352.9 174.6,250.5 187.2,398.3 190.6,369.1 169.0,492.6 171.0,390.3 195.8,411.5 182.3,271.2 171.4,424.3 171.4,509.5 190.5,421.3 175.8,466.4 186.5,489.4 180.3,456.1 208.7,480.0 181.0,321.1 188.9,350.2 165.7,554.2 164.9,367.2 175.9,563.8 195.0,403.6 182.4,418.7 170.6,514.7 187.5,500.0 183.3,199.3 165.8,453.0 188.6,446.6 187.7,319.0 187.2,378.1 207.5,308.3 192.1,558.1 181.5,543.0 186.6,171.0 163.7,428.5 182.1,455.6 178.3,406.4 215.7,315.7 191.6,553.9 188.1,393.0 205.0,427.1 181.3,350.5 173.2,518.6 172.8,689.8 207.2,317.1 189.3,468.0 178.6,357.3 178.9,447.0 202.8,347.8 225.5,420.8 196.8,479.5 184.8,276.8 170.4,453.0 174.0,569.9 177.7,459.8 185.5,365.3 168.4,545.3 220.3,338.4 173.8,340.7 206.5,193.1 179.4,493.9 170.3,352.1 173.9,605.8 178.0,469.6 177.6,412.7 195.5,379.7 174.1,430.1 247.3,434.0 193.7,490.7 169.5,472.5 162.5,390.8 208.4,363.3 186.2,354.5 185.1,315.9 172.2,294.9 164.8,619.9 164.3,480.8 246.6,441.6 203.9,494.0 176.3,310.4 234.0,342.8 164.7,435.7 191.1,410.9 199.9,286.9 170.1,461.8 173.5,458.2 171.1,325.7 182.0,373.1 221.1,270.0 199.4,384.0 189.7,342.8 194.1,483.2 164.2,526.0 226.3,425.1 170.5,711.9 168.2,379.8 178.1,318.8 179.7,448.0 189.7,306.2 162.8,428.7 213.5,317.8 170.7,345.6 220.6,322.3 207.7,370.5 198.8,396.8 216.8,394.1 167.2,416.7 198.9,306.6 166.9,598.7 235.6,453.0 171.1,352.8 166.9,515.4 198.1,435.4 184.5,499.2 181.6,376.3 185.3,330.5 198.9,266.7 223.8,369.6 173.9,396.8 174.6,362.4 184.2,271.3 172.1,656.0 168.3,383.8 175.5,621.7 168.9,346.6 177.2,375.9 178.1,370.0 213.5,382.3 205.0,493.9 201.4,386.0 229.2,294.2 175.6,436.5 206.9,421.0 174.3,555.1 188.4,298.6 180.7,478.5 166.4,504.3 174.5,517.1 183.2,451.2 182.7,286.1 172.4,338.3 170.8,270.0 185.9,263.3 167.0,520.8 184.0,262.0 193.6,175.9 168.2,576.9 163.7,577.9 185.7,373.4 190.1,460.3 171.9,531.4 176.2,382.9 162.4,509.2 179.6,669.2 174.6,355.4 181.1,322.7 177.7,404.5 164.7,449.8 243.9,496.3 164.3,602.3 178.9,471.7 173.2,316.6 178.8,354.0 233.1,202.8 171.9,617.2 191.6,335.1 179.1,550.7 168.2,598.8 165.8,408.1 171.6,545.6 188.6,461.3 177.2,508.5 198.3,552.4 175.4,566.9 182.6,409.6 180.3,465.0 164.6,497.3 175.2,706.6 171.7,236.0 172.3,526.9 237.7,439.7 166.4,547.9 182.6,384.1 176.5,588.1 175.7,326.0 208.5,543.6 163.5,495.3 169.0,450.7 239.1,199.0 179.4,584.5 172.0,393.9 169.1,496.2 177.4,391.8 187.3,410.3 169.8,397.2 183.9,395.4 171.2,489.1 206.3,449.0 175.9,604.7 198.9,464.1 178.1,508.8 222.9,453.3 189.4,346.3 185.1,384.6 170.3,375.0 177.8,306.7 174.3,683.5 175.0,379.5 246.9,428.6 178.7,436.6 168.7,567.2 200.8,366.7 176.6,302.1 191.0,315.1 177.8,435.5 217.1,326.6 189.0,229.4 210.5,293.8 175.8,411.0 166.9,416.1 168.2,408.3 174.2,401.8 175.4,480.0 182.8,501.1 166.8,513.0 184.1,388.1 167.2,488.4 171.5,452.9 209.4,650.7 211.6,340.7 216.3,440.3 212.2,376.6 200.1,502.1 183.5,210.1 200.8,229.0 167.0,493.6 181.4,515.0 176.6,313.3 182.4,462.8 204.0,545.4 172.1,284.5 217.6,327.6 172.3,298.9 183.2,405.6 221.3,171.0 175.9,241.5 170.5,486.6 173.6,455.8 169.8,521.5 182.4,412.4 171.9,421.7 178.7,347.3 184.6,417.5 170.6,585.7 192.5,514.4 175.6,274.1 173.9,302.1 224.3,444.3 207.4,441.6 179.4,445.1 192.7,424.5 176.3,608.2 176.1,330.3 184.2,411.1 182.6,699.9 203.0,282.4 172.9,668.4 175.7,262.9 175.8,375.9 165.4,598.2 176.1,301.4 193.6,398.8 167.0,362.9 174.1,456.3 162.2,513.1 179.9,530.1 182.2,329.6 173.6,607.5 167.3,527.0 172.9,285.4 182.2,616.2 177.1,550.1 176.9,355.6 211.3,402.2 181.7,189.9 215.1,227.9 183.4,360.2 182.9,624.4 177.8,462.5 176.2,575.8 176.6,527.7 171.2,312.0 162.1,380.9 176.7,462.9 175.5,456.8 204.1,395.5 181.9,502.5 196.9,455.5 195.3,613.3 180.5,354.5 172.8,323.0 195.1,387.8 174.1,375.3 177.5,387.5 235.8,206.1 188.7,405.0 187.5,570.2 165.9,540.5 209.7,311.6 168.8,343.6 186.0,336.1 162.0,588.3 203.0,503.9 168.1,623.2 176.2,469.1 197.7,574.9 165.0,416.8 185.0,445.7 169.4,638.5 183.0,347.9 191.4,578.2 169.0,411.7 188.3,349.6 185.5,459.0 176.7,407.1 179.8,311.1 198.3,407.5 180.2,372.2 170.2,342.7 182.5,400.7 184.4,476.7 175.9,513.8 202.8,468.6 163.9,490.4 177.6,409.7 168.4,437.5 165.2,428.5 194.7,409.6 198.6,257.9 181.0,297.3 176.4,491.2 183.5,382.5 173.5,464.3 198.7,439.1 187.1,455.1 175.5,496.6 164.3,576.9 183.9,696.9 174.5,406.8 171.4,299.8 194.1,527.5 189.6,373.6 163.7,470.9 172.4,516.8 167.5,454.1 177.0,441.0 206.0,688.4 178.2,444.0 177.5,699.8 199.2,358.2 201.2,389.8 175.7,474.7 180.0,546.8 187.2,478.0 170.1,476.1 188.9,227.9 180.0,482.8 173.2,474.8 192.6,394.3 201.6,367.8 171.4,505.4 180.3,218.1 171.0,599.9 178.5,623.2 182.6,520.4 200.0,405.8 173.5,369.9 174.6,467.3 190.1,406.0 180.1,364.0 169.9,430.2 206.3,367.1 197.2,436.4 169.7,553.3 209.5,419.9 173.8,572.5 191.8,324.4 207.6,378.8 171.3,539.8 166.4,292.8 174.2,666.2 208.0,249.2 179.5,601.2 187.5,587.3 169.3,437.8 174.1,695.0 178.1,609.3 175.8,489.7 218.2,415.2 187.8,388.7 209.8,383.5 204.3,303.6 179.7,353.3 237.3,348.9 190.2,538.6 178.9,447.7 187.6,171.0 173.5,179.7 180.6,338.7 187.2,321.0 202.1,213.4 176.9,472.0 165.9,439.5 180.2,189.1 166.6,661.1 168.3,390.2 171.1,621.5 189.3,502.9 168.6,440.6 163.7,469.5 178.0,411.1 177.5,562.3 173.5,473.5 183.5,584.7 216.1,357.4 173.0,574.5 208.2,353.2 169.6,298.9 168.4,641.6 185.2,374.7 165.1,727.5 183.9,400.6 179.1,475.1 169.7,586.6 171.3,421.6 167.8,464.8 181.5,206.3 182.7,479.4 185.8,213.2 188.5,275.7 196.6,498.7 173.1,521.7 191.8,445.6 188.0,412.5 183.5,458.9 175.4,565.9 217.3,472.1 174.9,537.9 170.6,602.0 186.4,463.3 243.8,230.2 229.7,249.0 179.6,437.3 194.0,415.1 190.1,372.8 187.0,277.7 191.7,394.6 185.7,484.0 179.5,474.3 235.8,303.0 198.5,661.0 248.9,339.2 182.8,439.0 177.7,414.7 167.3,291.2 179.0,422.7 217.3,579.6 164.0,651.3 184.7,560.7 190.9,397.6 177.3,470.0 177.0,596.0 165.9,471.2 168.4,363.2 214.6,278.8 181.3,450.9 168.1,209.6 176.7,389.3 180.7,361.2 177.0,266.1 180.7,316.2 199.6,353.6 171.9,343.5 174.0,526.9 182.6,498.7 194.4,419.5 211.2,427.9 182.5,427.0 170.6,613.2 196.1,335.6 169.8,363.6 195.2,529.1 165.0,373.7 209.9,385.3 173.9,421.7 166.4,637.5 170.7,566.0 172.6,247.6 166.0,526.8 172.6,469.0 182.4,485.5 208.9,391.2 168.1,664.1 168.7,727.5 177.7,355.1 234.1,320.5 197.8,320.3 173.1,666.7 203.2,448.9 173.9,304.7 166.6,505.5 187.4,465.4 186.4,322.2 179.7,460.2 185.6,565.2 173.3,507.5 173.2,579.8 187.9,367.3 179.0,624.8 205.6,316.7 174.1,615.9 161.7,595.8 198.3,465.7 167.2,314.4 183.6,303.1 175.2,440.0 166.1,417.8 215.8,403.7 175.0,360.3 181.6,305.6 193.2,393.2 201.1,300.6 179.6,375.9 205.8,353.3 168.8,512.6 186.8,477.0 169.5,576.1 188.0,463.4 171.8,449.9 176.9,335.4 194.1,572.4 172.7,171.0 168.2,443.8 196.7,287.6 179.8,312.4 168.3,715.1 176.5,459.7 165.5,704.3 178.8,343.0 177.3,533.6 169.1,482.8 176.5,641.2 170.6,407.9 167.3,514.8 180.2,350.7 198.0,171.0 165.7,367.5 231.1,512.0 173.5,400.9 214.4,258.3 183.4,455.9 173.7,616.8 194.6,369.0 162.6,400.2 173.3,556.7 191.6,559.2 185.2,457.1 175.5,419.3 172.4,567.8 171.3,551.2 182.8,313.9 171.9,513.0 170.8,438.3 176.0,317.0 170.0,592.6 170.5,476.8 197.8,469.9 175.2,568.9 174.2,475.5 177.8,554.0 179.9,392.8 166.0,426.2 172.2,591.5 192.7,624.8 206.8,357.6 173.3,375.3 166.3,438.9 198.8,487.5 168.1,515.4 170.3,469.5 174.7,480.6 174.4,506.9 199.1,171.0 183.5,351.7 174.9,453.4 179.3,410.2 186.2,477.5 169.0,433.5 180.4,315.1 169.9,337.2 192.9,396.5 198.0,280.4 188.3,542.9 182.9,629.8 185.3,510.5 197.9,386.3 172.4,309.3 226.4,496.7 179.0,522.9 193.2,344.0 169.7,297.9 193.1,485.7 203.3,393.2 167.6,275.4 173.9,395.1 173.7,437.7 167.7,667.4 222.6,281.1 245.8,358.4 169.2,417.3 192.7,484.3 172.1,573.0 203.6,442.8 162.3,443.6 189.5,569.0 174.7,268.0 200.5,427.6 176.9,296.9 190.2,541.6 190.0,392.2 178.2,293.1 196.2,469.0 181.2,370.8 168.9,590.2 245.2,595.4 166.2,404.8 173.2,539.3 191.4,354.3 167.1,564.9 172.3,639.8 168.3,262.2 192.0,539.2 170.5,307.7 204.6,380.9 182.9,622.2 176.7,629.8 166.6,452.9 189.7,349.4 177.8,263.0 169.0,460.1 190.8,461.8 169.8,380.2 195.1,258.0 166.0,360.3 208.2,459.2 185.9,469.2 192.3,338.9 165.7,520.8 186.3,355.8 171.3,434.0 208.9,461.0 163.7,446.3 193.2,374.9 164.1,473.1 166.8,344.4 197.5,263.2 174.6,287.7 169.6,454.0 168.8,498.2 173.7,171.0 176.1,368.0 163.0,277.1 168.8,585.3 192.0,524.4 172.3,475.6 174.0,543.5 168.5,574.5 170.3,489.3 182.6,284.5 167.8,348.8 165.2,427.5 175.2,618.8 166.3,351.8 186.1,553.2 165.5,407.2 186.7,452.4 172.3,489.3 189.1,542.5 170.9,507.1 172.1,537.3 176.2,378.3 203.5,389.2 164.1,394.0 188.1,451.2 177.4,476.7 178.5,199.3 170.0,641.2 202.8,295.0 212.3,422.6 163.8,455.2 169.4,564.6 171.5,587.4 173.0,443.0 184.9,617.8 189.0,304.2 162.6,727.5 183.1,606.1 172.1,399.5 179.2,406.3 191.3,417.7 184.9,382.5 179.9,345.8 185.9,332.2 202.9,227.6 186.9,427.1 240.8,332.4 170.1,445.0 201.3,272.4 192.4,171.0 175.0,442.7 187.2,426.6 178.0,407.4 176.8,306.6 184.7,727.5 164.0,275.2 202.0,486.0 178.8,493.0 172.6,269.5 173.3,584.8 187.0,579.7 170.3,423.2 200.8,327.0 172.3,259.8 181.1,449.0 184.9,482.7 183.2,246.0 184.1,481.4 175.5,264.7 197.0,403.1 173.2,402.8 177.6,396.0 175.5,482.1 168.6,506.4 188.7,444.9 174.2,503.2 188.2,395.2 165.9,419.9 166.5,459.2 174.3,452.2 182.8,232.8 185.6,430.6 191.0,496.8 201.4,463.0 194.4,354.6 170.5,452.3 184.6,446.6 171.8,458.6 186.3,411.0 169.1,385.4 206.4,379.4 171.6,550.4 163.9,726.9 185.5,339.0 187.6,282.6 171.2,413.4 175.3,299.7 186.4,433.9 165.1,604.0 180.1,496.6 178.0,242.1 219.1,482.7 170.7,387.6 184.0,398.5 170.8,517.2 162.2,514.9 181.9,592.2 174.5,465.5 168.8,445.8 207.9,450.3 174.3,448.8 168.1,535.2 203.4,329.5 172.4,618.8 174.7,422.9 167.3,386.0 175.3,610.2 180.1,357.9 171.2,341.7 184.4,343.2 170.6,430.2 163.3,318.5 191.9,387.6 167.0,411.1 189.1,367.6 176.0,407.2 169.4,408.7 166.7,446.7 176.1,443.5 175.3,535.6 163.3,591.5 203.4,303.1 166.2,501.9 205.5,405.0 175.5,599.3 176.3,412.2 173.6,544.9 198.3,538.9 199.0,302.0 166.0,667.4 178.6,401.4 200.5,331.2 165.8,567.9 162.7,489.5 166.4,542.5 172.5,469.7 188.0,482.1 180.1,586.6 173.6,178.5 174.8,481.4 177.0,514.2 166.4,334.1 183.2,438.4 217.6,280.2 196.6,460.3 172.8,390.7 173.8,419.8 169.5,411.5 172.2,453.7 199.8,241.8 176.2,506.7 168.3,491.7 187.8,468.9 195.8,366.2 172.7,385.2 178.2,325.2 165.4,401.1 178.8,450.1 185.8,462.4 222.3,411.9 176.7,414.0 178.7,590.6 189.1,440.9 172.9,256.4 191.2,363.7 194.2,521.3 172.7,533.5 188.4,474.8 177.9,338.7 186.7,318.3 190.3,444.6 168.7,382.0 169.1,532.5 166.4,606.2 198.9,285.2 166.2,635.0 213.3,369.5 173.7,601.0 172.8,479.4 169.0,675.0 188.9,442.3 188.7,434.3 167.4,530.6 239.2,437.7 192.3,319.0 166.3,510.5 176.9,401.3 184.4,558.7 182.6,387.3 196.1,358.5 200.3,328.7 230.1,381.6 198.1,272.5 169.3,541.0 220.7,310.1 170.0,490.7 188.6,499.0 195.2,307.5 174.2,281.7 185.1,399.3 194.5,642.4 199.7,325.0 172.3,406.1 169.8,539.4 174.3,579.6 170.8,526.3 182.9,273.6 189.6,440.5 198.6,374.3 171.6,427.8 167.6,346.2 165.0,392.1 176.3,331.1 174.8,561.6 176.5,421.8 177.3,468.2 227.5,416.8 168.6,433.0 173.6,499.2 172.5,467.3 197.8,489.7 207.6,362.2 170.0,320.1 215.5,458.1 237.9,413.8 168.6,521.0 181.5,305.0 183.9,458.2 180.1,608.4 173.3,392.6 180.9,203.9 193.6,385.6 166.6,551.0 196.5,293.7 189.0,331.0 200.8,276.1 201.1,376.9 196.1,263.3 164.3,500.5 184.7,355.6 199.6,306.9 194.8,554.2 175.2,378.7 190.5,412.8 168.8,359.2 171.2,511.0 170.0,388.9 169.0,301.6 183.5,457.5 169.7,550.5 169.1,335.8 174.4,210.5 182.1,577.0 169.2,341.7 208.3,326.1 164.9,487.5 181.0,466.7 182.7,540.9 193.6,512.0 172.7,353.5 166.9,412.5 201.4,331.0 178.3,402.7 170.9,554.2 178.9,265.1 188.8,294.5 176.7,503.5 220.3,229.6 163.7,373.3 193.7,410.4 178.7,213.4 170.4,700.4 180.9,346.4 177.8,529.1 168.5,258.3 180.3,370.8 173.5,565.3 181.0,497.3 183.4,331.1 185.6,227.4 182.0,645.2 169.3,396.6 225.6,466.3 169.0,442.4 181.3,600.9 221.5,245.4 214.4,367.2 182.8,357.6 186.6,384.6 183.4,316.4 170.4,552.3 207.5,463.3 234.0,329.4 177.4,290.1 167.0,253.9 170.1,393.1 163.9,497.3 193.6,357.0 225.0,361.7 163.6,413.9 205.2,272.6 168.1,309.6 190.5,171.0 180.6,301.3 170.8,502.0 218.5,387.0 210.4,414.4 185.9,485.2 179.7,393.7 176.5,394.7 193.7,428.6 175.1,476.1 220.7,330.8 188.2,598.7 175.2,331.2 191.9,421.2 215.7,391.9 176.7,684.9 173.6,236.5 171.2,613.6 184.4,351.0 177.6,489.3 201.2,470.5 174.1,398.7 167.6,347.0 183.7,453.9 180.9,397.9 188.8,373.6 170.9,496.7 180.3,505.2 174.8,204.9 192.0,516.3 237.5,285.5 170.7,414.2 162.7,258.9 175.6,364.6 184.6,385.3 189.7,387.5 242.5,507.1 174.5,466.2 191.6,337.5 164.9,432.0 172.3,463.1 167.1,432.8 197.4,274.3 198.1,377.0 214.5,328.4 182.5,506.6 196.4,310.1 174.0,580.8 164.2,411.9 208.5,477.4 194.1,411.8 180.6,541.3 180.2,397.0 170.8,556.9 168.1,563.6 168.3,266.6 218.7,499.8 181.6,656.6 181.7,507.6 187.2,318.8 206.5,382.8 173.9,230.7 180.0,355.3 196.1,251.6 165.2,403.7 186.2,641.6 231.2,463.7 168.7,565.1 211.6,335.3 169.1,503.9 206.5,533.2 194.8,211.8 186.0,406.4 225.5,171.0 179.6,397.8 200.3,518.9 234.1,353.3 200.4,311.3 177.0,324.7 171.5,397.6 178.2,658.6 203.9,210.2 173.3,413.7 193.4,473.0 176.3,346.6 233.5,367.2 186.3,553.8 244.8,240.4 172.4,448.7 166.8,265.3 204.7,250.4 172.1,281.4 216.1,360.3 178.9,521.1 202.7,316.8 171.7,213.7 176.7,330.4 193.3,242.5 187.9,508.1 192.5,316.6 168.8,588.1 183.4,603.3 175.6,501.9 191.2,370.5 201.3,446.5 177.9,428.5 204.3,433.8 170.9,411.3 189.1,355.7 170.8,365.6 184.1,427.3 172.0,392.1 179.7,471.7 197.9,331.8 167.6,237.0 178.9,423.7 191.6,390.3 180.7,506.3 170.7,459.7 177.7,418.9 189.5,490.8 169.1,551.3 188.4,416.5 205.9,403.7 175.2,359.3 182.4,281.0 189.2,456.0 178.0,645.0 185.8,437.0 172.7,628.3 165.3,565.4 186.2,305.2 162.9,492.3 210.1,430.9 200.5,618.2 191.3,366.8 184.6,213.9 188.1,540.0 200.2,307.9 171.5,497.4 217.1,306.0 186.1,530.9 195.0,338.1 177.5,513.6 172.7,437.6 174.7,375.2 223.6,243.0 185.7,328.2 173.0,717.5 183.7,465.8 175.9,645.1 176.4,571.3 171.3,553.6 171.2,404.4 172.6,453.1 178.8,242.2 173.0,360.6 192.2,223.4 180.6,477.1 219.5,532.4 180.6,391.4 192.6,303.8 189.9,266.2 178.8,424.6 186.9,500.6 199.9,506.8 199.9,267.1 162.3,687.8 177.4,602.0 167.5,382.9 171.8,562.3 171.9,331.9 177.0,331.8 191.3,401.0 181.6,326.9 174.1,414.3 209.6,356.3 190.0,213.9 165.3,295.8 168.8,494.2 182.1,510.5 185.7,446.7 182.5,445.6 184.6,411.6 182.0,345.9 169.0,415.3 171.0,418.7 172.9,349.9 172.4,554.6 183.8,240.7 172.6,380.1 204.2,368.4 176.9,350.1 228.2,296.8 204.8,335.8 169.0,392.2 193.5,439.5 165.2,604.8 211.6,394.7 164.9,171.0 170.0,629.0 167.7,412.4 212.3,281.5 169.8,309.9 181.7,278.3 179.8,561.9 176.0,527.2 175.7,451.9 205.2,224.7 169.2,368.3 169.1,404.5 174.8,494.3 188.2,422.1 197.2,472.5 165.3,388.8 168.6,578.0 167.3,586.5 206.5,365.7 184.0,526.6 165.6,536.2 191.3,186.7 166.3,594.2 205.0,223.6 186.7,510.5 169.2,447.0 206.3,460.4 204.4,311.4 165.8,324.9 228.6,449.9 202.6,520.0 173.4,182.6 192.3,258.3 167.7,401.1 183.4,383.9 170.3,414.6 180.7,505.7 199.6,269.1 189.1,212.9 198.9,427.3 195.5,355.8 193.2,257.8 197.2,450.7 183.5,299.1 165.6,359.5 178.4,440.3 178.7,251.5 194.6,390.0 169.7,618.2 178.1,423.4 185.6,203.9 186.9,418.6 167.1,367.3 166.3,388.9 187.6,576.0 168.1,403.1 173.3,453.7 171.4,257.7 214.6,171.0 170.5,543.1 192.5,525.9 170.1,511.9 180.2,490.9 186.6,494.7 196.2,410.4 170.2,293.3 171.4,563.8 173.0,590.6 163.3,625.0 199.2,291.5 193.2,266.3 165.1,601.1 182.6,401.7 192.7,292.8 207.3,301.6 174.3,394.5 195.1,339.2 231.0,379.4 181.1,200.4 175.8,416.5 173.9,469.3 194.7,590.8 181.4,292.2 189.6,559.5 195.9,288.7 194.5,179.4 176.9,373.5 174.0,547.3 176.3,512.9 187.9,454.2 185.7,557.8 164.5,445.7 191.5,436.7 175.0,552.1 197.4,296.1 181.7,315.4 184.9,490.0 175.4,219.3 180.5,455.1 224.5,210.7 210.8,295.0 179.4,467.7 181.7,204.4 182.2,302.8 179.2,433.8 203.9,393.1 189.8,393.7 208.0,438.9 167.0,490.9 164.9,524.6 170.6,333.9 226.9,329.8 182.3,275.0 182.0,345.0 173.5,336.1 181.1,436.6 180.9,351.7 165.0,518.3 173.1,444.1 189.0,422.1 180.3,365.7 183.1,536.0 172.8,261.2 178.3,481.6 197.5,371.4 166.1,418.8 173.9,459.6 173.1,529.6 169.2,631.4 181.9,451.0 187.3,551.6 187.6,355.6 212.1,252.8 181.1,668.6 170.0,562.5 185.1,381.2 179.5,276.2 192.0,381.6 176.7,379.5 224.6,351.0 184.2,229.7 175.9,557.1 174.7,392.5 175.0,495.9 174.0,337.5 182.3,460.5 169.1,497.6 165.9,386.9 169.5,247.6 164.7,660.6 231.4,373.2 165.7,513.2 166.0,570.3 171.1,538.9 218.3,212.9 184.4,486.9 190.6,284.5 163.5,611.1 201.4,475.2 196.1,482.1 199.3,452.9 184.2,250.2 195.9,626.4 203.0,363.0 167.3,558.5 170.5,488.4 168.9,566.3 220.2,398.8 162.7,487.6 165.8,326.9 176.1,387.0 176.4,410.1 190.1,555.4 165.7,294.5 174.6,391.0 206.2,326.8 182.6,572.0 172.5,316.8 184.4,176.6 190.7,582.1 175.1,412.6 194.3,391.9 170.4,443.5 180.0,360.3 186.6,469.9 187.6,390.7 201.6,495.5 190.2,303.4 187.1,472.9 171.1,518.2 186.5,459.5 183.3,444.0 171.6,274.8 174.6,278.0 170.0,584.4 202.0,435.2 172.5,312.9 174.8,337.8 182.1,532.5 186.7,317.0 165.5,561.3 174.0,476.8 180.3,171.0 182.3,240.2 200.8,321.3 201.4,574.8 209.7,411.3 181.0,428.9 168.8,264.6 207.3,381.1 208.3,403.0 169.5,503.4 169.3,562.5 172.4,414.4 174.5,408.5 186.3,668.4 178.1,581.3 187.3,528.6 164.2,327.5 183.6,309.5 181.1,349.7 192.7,390.3 169.0,669.4 171.4,476.6 169.3,283.7 167.8,263.7 232.0,171.0 197.8,336.7 174.0,324.5 190.1,536.0 178.3,408.9 174.0,559.5 168.5,315.2 170.8,554.8 180.5,442.6 178.9,512.1 172.6,471.8 201.3,365.7 201.2,482.8 172.3,392.9 180.3,533.2 182.3,492.1 172.7,302.2 187.5,173.1 172.6,697.8 173.8,532.1 196.2,442.0 175.0,284.1 186.9,374.9 186.8,353.9 173.3,557.8 173.9,322.4 175.7,727.5 173.5,635.8 213.1,209.5 207.2,398.8 178.1,171.0 178.5,297.8 176.4,288.9 164.3,467.3 223.7,347.2 189.3,360.4 208.1,609.6 175.8,350.5 187.9,440.1 191.7,270.7 185.3,268.4 191.2,493.0 185.9,343.4 163.4,466.4 172.3,432.1 174.1,348.5 220.8,370.2 197.8,284.8 183.9,521.4 171.8,622.7 227.4,325.4 176.5,457.6 167.1,459.3 187.8,452.6 187.0,600.9 179.8,464.4 173.6,720.1 192.8,465.8 199.5,522.8 203.5,206.7 222.4,367.6 233.4,400.5 169.0,334.9 189.7,507.0 183.0,446.0 199.7,411.0 171.3,647.3 171.0,426.8 173.3,303.4 178.3,450.9 205.2,562.6 172.2,542.4 178.3,668.7 237.7,286.7 173.7,553.2 200.5,376.6 186.4,381.4 213.6,414.2 170.3,430.8 172.3,477.5 165.8,414.1 179.0,414.0 188.2,538.7 172.8,570.8 216.7,258.9 185.5,248.7 229.3,309.7 197.2,291.3 182.5,405.2 194.3,374.3 180.5,453.4 196.1,198.7 180.1,560.2 185.8,419.9 175.3,489.3 237.1,308.2 177.6,208.3 180.3,456.8 172.4,727.5 171.0,348.5 170.2,348.4 179.6,617.4 188.8,448.8 181.8,428.3 163.9,691.0 179.4,341.6 191.4,392.6 191.0,544.8 182.5,504.0 190.7,494.9 221.9,364.7 162.7,536.0 212.4,249.3 176.5,376.5 175.6,676.2 193.0,223.5 170.6,402.4 187.1,409.0 171.6,635.3 169.0,709.7 212.3,541.3 182.6,262.2 171.4,461.4 182.3,534.9 168.2,427.3 171.1,396.5 190.0,548.0 216.1,328.3 176.4,670.3 214.1,249.6 173.3,495.6 176.3,336.1 180.2,334.0 184.7,430.6 188.0,647.2 173.7,693.7 172.6,693.3 186.6,449.1 169.3,438.7 175.7,395.9 226.4,450.2 166.6,540.3 169.8,599.7 165.0,646.4 216.9,279.1 180.9,315.6 166.2,582.4 168.1,455.1 203.6,370.7 203.5,234.6 187.8,493.9 179.9,402.2 205.5,286.3 186.9,628.1 184.8,509.6 166.4,427.7 164.0,508.2 170.3,173.5 188.5,320.6 167.3,399.9 184.5,320.8 172.6,348.5 167.4,484.2 191.6,474.7 178.4,596.2 191.3,432.5 202.6,321.1 220.6,305.2 180.8,326.1 164.9,493.1 201.3,370.3 184.1,517.5 214.0,364.5 206.5,325.6 207.8,340.1 187.8,411.0 178.8,484.7 187.3,223.6 170.6,406.5 179.9,383.8 163.2,569.4 162.1,396.9 177.4,310.9 215.1,300.1 179.0,171.0 167.8,449.8 179.9,522.6 199.9,369.9 210.3,434.5 170.1,407.4 174.3,495.2 176.5,358.7 208.5,416.0 176.9,678.9 178.5,452.1 192.6,385.0 179.5,285.5 174.8,492.3 175.6,518.8 177.5,289.0 174.3,496.2 184.9,368.7 216.7,337.6 192.6,423.5 164.3,305.5 166.2,475.6 172.4,485.8 182.0,188.4 169.2,321.1 171.8,549.2 174.7,512.7 171.3,650.1 174.1,330.3 172.5,333.4 178.5,396.0 169.9,399.7 164.7,349.6 184.0,463.7 165.4,490.4 199.5,342.9 173.7,394.0 170.0,497.2 200.1,217.4 164.0,498.8 199.3,278.5 165.6,432.4 173.9,476.2 179.3,562.9 175.8,453.8 184.4,346.1 174.5,580.3 174.8,242.1 192.5,454.0 188.0,548.7 173.7,410.2 170.0,499.4 180.1,435.9 187.3,484.0 178.2,625.8 212.1,364.2 182.0,486.6 172.0,362.8 190.2,353.3 220.8,404.3 179.5,273.8 169.6,464.0 192.8,541.9 178.8,385.3 192.7,468.9 170.2,400.6 176.8,278.6 190.6,343.7 188.8,412.5 193.9,297.7 164.6,505.3 181.1,474.5 187.5,338.5 169.7,187.9 176.8,451.3 166.0,645.9 212.6,348.9 180.2,279.0 175.9,445.3 184.0,243.8 198.5,217.9 183.1,482.3 167.7,572.5 201.5,362.7 175.9,342.2 194.2,355.5 176.1,570.4 189.1,515.5 172.8,593.5 164.8,614.7 166.5,583.7 171.2,611.1 200.5,447.7 175.7,377.0 182.3,353.5 199.2,428.9 185.4,360.1 172.0,461.2 181.9,420.5 190.6,487.9 175.3,422.7 228.7,557.0 170.9,609.0 172.9,373.0 167.3,585.7 203.3,250.7 166.7,479.3 173.0,558.4 178.1,433.7 168.4,379.0 174.3,171.0 187.3,586.2 198.0,324.6 204.3,363.7 196.0,377.7 185.0,449.9 186.3,428.0 168.8,409.2 214.7,287.4 169.4,597.9 169.5,484.2 171.1,572.1 169.1,539.2 179.8,519.9 197.3,299.2 226.5,177.4 183.3,269.3 176.0,418.3 166.7,559.1 244.2,279.1 172.8,358.6 176.7,325.7 186.4,444.1 173.5,656.1 177.8,657.6 170.3,360.2 215.9,279.2 171.3,467.5 182.6,397.3 166.0,303.4 176.4,435.2 192.8,301.2 163.7,382.6 181.7,574.9 162.4,427.9 169.7,626.9 167.6,660.3 172.0,454.6 176.8,477.6 197.9,361.0 173.9,259.5 172.6,431.0 203.7,219.2 182.1,495.4 176.8,574.3 172.8,463.8 173.3,451.3 197.1,358.6 186.6,646.1 221.1,413.6 167.9,521.4 176.6,413.4 180.5,381.4 168.2,470.3 206.9,561.0 212.5,363.3 174.5,505.2 175.4,375.5 173.3,592.6 170.7,268.2 199.0,292.7 203.7,479.1 196.5,363.7 198.9,443.7 218.1,279.6 184.4,349.0 180.6,347.9 236.6,233.2 168.6,508.0 172.7,275.9 192.0,598.7 165.1,450.7 236.4,231.1 176.9,484.1 192.4,648.2 187.6,368.0 191.4,542.4 172.5,263.6 201.6,233.7 179.8,428.0 171.4,405.9 169.8,343.4 185.9,443.5 165.2,534.4 172.9,221.4 170.8,509.1 165.2,502.7 175.5,432.4 171.9,570.9 183.4,442.7 189.2,483.7 189.1,283.0 189.8,376.7 168.3,582.2 169.2,476.8 193.1,340.4 182.6,502.5 229.2,417.5 176.2,430.3 173.6,443.4 168.7,526.6 206.4,385.3 204.5,534.6 194.1,225.9 181.4,335.6 167.1,436.8 191.8,416.7 182.9,433.1 192.8,511.1 170.7,533.9 175.8,508.1 182.1,295.8 164.8,499.8 231.4,474.0 163.6,479.1 181.8,197.3 187.6,363.4 174.3,413.2 178.4,462.1 184.4,368.4 174.6,574.3 184.0,330.5 178.0,401.4 179.2,542.6 204.4,242.3 177.8,292.3 170.5,595.6 181.5,458.4 176.9,354.4 193.8,647.7 168.2,424.6 209.7,441.6 199.0,311.3 194.9,431.7 177.7,547.0 182.6,517.0 192.1,422.1 170.4,394.7 177.6,602.6 246.8,171.0 220.5,281.0 171.0,343.9 176.9,576.7 173.4,676.7 178.2,526.9 163.2,453.9 213.4,171.0 219.7,487.8 197.9,287.2 183.3,285.4 188.5,425.2 187.3,286.2 174.6,388.8 175.6,502.8 178.0,562.9 171.0,441.2 197.8,311.6 186.4,583.8 184.1,613.4 205.4,363.4 181.4,727.5 204.9,216.1 198.0,477.9 183.6,342.2 197.2,211.9 190.5,594.9 205.2,548.5 183.5,171.0 166.6,459.9 226.6,441.8 201.6,400.7 236.8,304.7 206.2,273.6 183.2,414.3 210.6,391.9 208.6,275.5 172.5,216.4 171.4,526.3 174.4,365.4 182.6,223.8 161.8,278.0 199.0,529.1 184.9,391.1 169.4,455.8 177.7,595.4 169.7,512.4 176.3,367.1 187.5,330.4 173.5,588.9 179.0,469.1 167.2,620.6 186.5,492.2 193.3,419.6 173.2,466.9 173.9,567.0 166.3,642.0 173.6,431.9 176.6,459.0 180.8,616.3 189.1,376.6 181.2,271.8 164.3,653.5 179.4,350.9 178.3,256.2 173.8,427.4 194.4,393.8 166.6,507.2 180.9,393.5 215.8,296.0 171.2,448.1 178.3,381.8 178.5,331.7 175.4,616.3 205.2,420.0 191.0,369.5 176.3,307.0 191.1,277.5 170.0,541.6 196.5,474.2 172.0,541.5 177.8,420.1 169.8,415.8 167.6,567.2 173.9,435.8 164.8,477.5 182.0,356.9 211.8,458.1 165.9,292.3 219.3,400.1 171.6,641.9 192.2,446.9 167.1,592.4 246.2,314.8 172.0,260.9 178.4,430.0 216.4,375.6 161.7,687.2 171.0,456.4 167.2,602.1 167.2,390.6 214.2,352.4 220.1,247.4 168.6,333.1 168.8,547.8 233.8,273.1 183.6,322.4 175.8,500.6 186.2,317.8 179.8,218.4 185.5,313.0 171.5,345.1 164.6,532.3 212.4,343.7 179.3,604.8 180.7,361.9 185.3,607.0 162.3,204.1 186.1,487.4 180.1,390.1 209.6,306.4 162.7,216.1 197.6,344.9 166.5,408.0 163.8,453.0 183.6,354.8 198.1,406.6 199.0,442.7 167.8,354.8 209.7,479.4 174.1,384.5 201.4,441.2 172.8,544.2 202.9,510.5 170.0,458.2 200.5,454.8 179.1,294.8 206.7,344.9 169.1,171.0 217.8,254.4 203.4,355.8 189.4,314.3 192.7,410.2 178.2,506.6 178.6,478.1 177.7,240.6 191.4,243.2 170.3,494.1 175.5,289.0 167.7,442.2 186.7,299.0 171.0,460.5 176.7,312.6 204.6,436.4 177.6,456.8 178.8,426.0 172.0,490.8 185.1,582.1 200.1,226.5 178.3,468.9 171.2,634.2 171.7,686.7 173.4,727.5 173.6,494.3 162.9,265.2 199.9,612.7 171.3,636.5 222.0,294.7 168.1,380.4 207.3,385.3 189.3,265.8 209.9,231.5 178.9,303.0 178.7,490.0 180.1,576.7 188.5,544.1 177.3,626.5 198.1,212.6 218.2,407.6 184.6,187.6 173.8,488.0 170.2,284.9 172.4,387.1 166.1,440.1 173.8,645.7 178.7,509.0 167.2,475.8 207.6,291.4 165.7,500.4 166.5,403.1 206.6,389.8 184.6,419.2 166.9,343.0 202.1,451.8 227.1,281.8 192.9,504.8 162.7,589.8 180.8,426.9 173.3,284.6 174.5,482.2 165.3,495.3 211.5,462.5 172.5,402.9 182.3,442.6 194.9,386.0 178.5,622.3 195.1,247.6 178.2,522.4 163.3,369.7 211.8,250.7 169.7,559.2 178.6,228.9 164.5,661.8 169.4,334.4 164.6,457.3 180.4,540.2 198.5,447.2 172.7,648.4 169.6,354.1 201.5,447.3 167.5,257.4 164.6,418.1 178.6,499.2 196.6,532.9 174.8,429.3 175.4,298.1 168.6,543.1 176.0,314.6 183.1,415.2 171.7,425.1 216.4,179.1 191.9,399.0 175.5,629.1 174.0,457.2 177.9,353.7 179.5,291.1 198.0,570.3 173.0,324.8 209.7,330.9 195.4,436.6 212.8,422.1 162.1,524.9 173.3,639.2 187.0,240.5 201.6,307.1 173.5,468.8 205.7,359.8 186.2,196.8 168.2,494.0 180.1,572.6 171.3,659.2 172.4,456.7 178.5,605.0 171.0,442.5 170.5,374.5 167.9,445.6 219.8,395.2 197.1,311.4 175.5,574.3 178.0,529.7 163.1,171.0 193.3,440.7 167.5,543.8 167.3,489.2 176.7,424.7 209.8,424.0 201.3,359.6 164.8,624.3 168.5,596.6 203.0,280.6 163.3,586.6 171.4,359.8 173.5,540.2 189.2,392.1 201.3,279.2 230.1,176.3 193.1,387.3 181.4,330.2 168.0,719.3 197.4,388.5 215.2,367.7 195.9,510.0 166.8,326.3 185.8,463.8 167.6,406.1 175.2,247.9 189.8,530.5 168.7,514.5 186.1,307.8 182.2,396.5 185.3,387.5 173.1,366.3 212.5,378.6 174.6,436.5 184.9,543.2 164.8,494.1 183.2,376.7 161.7,470.5 177.0,396.5 200.5,459.2 214.4,522.0 182.7,598.4 188.3,484.6 196.0,517.5 191.1,323.9 185.7,470.1 169.0,435.3 205.9,364.9 194.4,325.5 168.4,614.6 197.0,533.6 166.7,266.1 170.1,435.9 208.2,225.7 183.6,375.1 203.4,453.2 185.3,277.2 163.3,327.8 207.3,306.5 173.2,461.9 197.3,464.5 175.4,612.0 187.3,380.5 189.1,328.5 185.6,423.5 189.1,479.6 216.6,418.1 179.8,384.7 180.0,215.2 203.2,521.1 177.2,380.5 171.1,449.5 169.3,540.4 168.6,341.3 165.5,255.5 213.3,498.0 179.6,368.3 171.1,362.8 196.3,306.7 207.5,394.5 165.6,371.7 177.5,556.3 170.9,417.3 176.7,625.1 165.2,648.8 170.3,517.1 172.4,599.2 188.6,364.6 184.4,308.8 174.6,438.6 163.4,449.5 226.4,452.7 175.1,407.3 177.1,382.6 180.6,475.7 183.0,512.8 181.3,482.4 174.2,331.2 165.1,470.9 182.9,257.0 170.6,450.5 174.6,559.3 179.2,502.2 209.0,368.4 179.4,367.1 203.5,190.2 195.3,414.8 165.9,390.0 184.8,488.0 190.6,234.1 175.7,325.3 183.6,376.0 176.6,609.6 190.7,381.7 195.2,476.2 180.8,378.3 183.2,319.1 227.2,508.4 169.4,398.4 179.1,323.1 175.7,404.6 189.0,460.6 189.4,543.7 166.5,499.3 189.8,567.7 169.8,310.8 169.3,561.5 198.6,423.8 172.0,570.0 174.4,286.0 186.8,290.2 173.8,590.9 177.4,504.9 193.6,399.9 172.8,520.6 166.7,481.7 195.6,399.5 188.0,449.8 188.0,612.1 182.2,259.5 165.7,620.9 244.4,433.0 189.7,385.0 193.3,376.6 174.0,280.3 164.4,431.5 187.4,407.1 182.2,480.0 173.5,277.9 174.6,504.5 207.9,455.1 175.6,447.9 177.9,405.5 176.4,447.3 166.3,381.6 167.9,369.6 187.7,269.0 162.7,519.6 171.5,237.3 180.5,474.9 164.0,348.8 193.5,457.6 186.3,242.0 167.7,513.2 166.5,304.2 210.8,415.7 178.5,209.5 198.4,234.3 173.0,344.3 185.8,395.8 168.5,338.2 165.4,572.9 169.5,405.0 172.9,407.7 171.3,477.5 177.8,589.1 175.9,322.7 206.8,279.2 190.4,408.1 223.4,250.2 223.2,377.3 163.2,540.6 202.5,535.8 165.8,328.4 232.6,218.0 174.9,546.8 184.3,420.3 168.5,512.0 192.4,456.6 192.0,389.9 173.1,429.3 212.7,187.9 195.5,442.5 178.4,299.9 193.2,447.5 200.8,318.0 189.9,540.9 184.7,340.6 174.4,309.0 186.8,350.3 184.7,444.8 176.9,617.5 170.5,439.4 184.2,392.3 233.4,408.8 196.8,468.4 178.8,518.8 167.4,429.9 168.2,409.7 199.4,289.1 177.4,423.8 180.9,480.9 165.9,436.8 165.8,479.0 179.7,451.1 170.1,672.2 165.2,603.3 168.6,558.7 195.3,372.7 174.1,433.6 232.1,294.7 186.5,296.9 194.3,504.9 166.5,584.6 174.7,551.1 166.3,448.3 199.4,379.6 172.1,446.4 176.0,663.9 176.0,434.4 189.9,171.0 165.2,271.4 171.0,547.1 242.4,386.8 184.1,555.5 192.0,402.4 169.9,384.1 190.7,469.9 204.6,397.2 188.7,462.0 239.5,488.9 169.4,253.6 190.5,361.8 182.7,330.0 187.6,260.5 187.6,373.6 183.8,550.2 177.4,198.4 175.1,295.6 209.6,332.4 167.8,591.5 173.6,482.4 186.5,292.4 174.1,557.1 186.6,461.3 208.2,255.8 172.2,353.0 241.9,215.4 169.0,573.7 166.6,374.8 164.2,450.8 180.8,368.4 171.7,456.2 164.0,518.7 170.3,401.6 166.9,572.4 180.7,461.1 182.9,322.6 174.6,500.5 187.3,287.8 180.6,412.3 178.2,584.2 170.8,523.9 211.7,353.9 179.9,517.9 187.6,496.9 172.0,234.1 174.0,522.0 166.7,683.8 181.8,547.9 178.5,563.1 221.5,234.5 196.3,290.1 166.6,566.9 213.8,206.5 174.2,339.9 183.5,335.7 180.5,383.4 190.3,511.2 220.6,622.1 180.2,527.3 207.1,426.5 175.4,465.7 180.0,508.5 171.4,544.7 215.0,326.6 186.0,413.8 214.8,427.0 174.3,513.3 168.4,620.8 178.7,428.2 197.1,333.6 167.3,539.2 172.5,494.5 185.7,703.3 215.0,551.1 175.8,281.4 184.1,257.2 167.0,341.1 171.5,392.5 171.5,360.7 165.7,619.7 187.6,523.6 183.3,294.0 180.3,294.5 175.0,460.9 167.3,469.2 177.2,487.0 215.0,529.7 173.0,641.4 187.6,409.7 175.2,476.8 175.8,450.3 197.9,234.9 162.0,360.2 166.8,504.8 171.4,594.4 221.2,308.9 187.3,448.0 188.0,362.5 200.6,263.7 203.0,478.3 167.8,536.8 180.0,190.0 181.2,424.7 191.6,259.3 163.8,502.0 165.2,498.1 162.6,501.4 196.7,252.8 183.3,388.5 168.0,653.7 192.8,452.8 210.2,529.2 166.1,480.0 168.4,422.8 183.7,635.2 180.3,486.6 182.4,328.0 181.5,375.2 173.3,392.0 176.4,510.7 167.7,471.6 200.1,541.3 182.8,374.5 177.0,272.9 171.2,292.4 181.3,666.4 176.4,526.2 205.5,540.5 172.9,493.2 165.0,657.1 183.2,431.0 162.4,335.6 193.0,278.2 181.4,382.0 172.8,617.0 230.7,325.1 188.3,363.3 183.6,341.5 184.6,506.8 167.3,388.3 180.6,510.5 170.7,419.9 170.8,457.2 180.0,591.6 173.2,599.8 186.3,394.6 177.0,436.9 173.4,724.0 172.1,669.2 168.1,461.8 181.4,434.7 177.0,358.3 172.3,461.8 168.1,484.3 198.4,443.0 236.4,315.5 176.9,363.9 174.0,489.6 173.7,479.7 180.3,346.3 169.2,378.9 199.2,341.1 168.7,412.5 170.8,305.6 195.0,414.1 198.4,317.7 184.3,343.8 188.1,567.2 185.5,205.5 187.2,376.8 162.5,445.9 183.8,478.9 165.5,171.0 184.8,553.7 165.9,434.1 188.9,432.8 220.3,555.0 167.2,506.6 216.9,465.9 172.7,481.9 170.0,335.0 190.4,560.4 168.2,260.8 168.6,325.9 169.2,555.9 199.0,331.3 200.8,370.8 176.0,493.3 178.4,282.1 165.5,472.8 186.3,414.8 169.4,544.5 190.3,390.9 192.4,475.7 164.2,304.8 189.7,596.2 186.4,348.7 216.9,332.3 162.5,521.2 177.1,420.9 165.4,455.2 172.5,413.0 201.2,353.4 183.9,482.6 179.2,191.5 179.9,507.5 194.9,488.0 172.3,204.2 196.2,171.0 197.0,422.7 192.3,548.4 182.6,297.7 199.9,407.4 180.4,271.9 173.9,349.4 192.9,177.1 187.9,295.8 211.1,377.1 177.8,430.7 187.0,364.7 234.0,289.2 188.3,329.8 192.2,307.6 214.8,401.8 183.8,340.3 192.0,289.5 189.6,445.7 173.1,573.7 171.6,231.7 167.2,361.0 201.0,400.5 193.6,454.9 192.5,619.9 192.3,447.8 166.8,404.0 180.0,298.7 171.2,440.6 170.4,460.8 182.0,585.1 166.0,314.9 195.9,492.9 178.8,473.9 167.5,508.9 172.4,398.8 185.9,289.5 199.1,457.5 178.4,588.2 185.5,518.8 199.5,439.0 184.8,605.5 189.2,188.0 171.1,441.9 179.4,465.0 168.3,175.8 176.7,428.7 180.7,447.3 184.0,501.8 168.1,609.0 209.4,351.8 175.8,637.5 205.9,267.7 175.2,329.6 166.6,557.4 195.7,423.6 166.2,299.2 169.7,510.7 179.1,432.7 180.8,458.1 172.4,620.7 171.7,612.2 166.0,503.1 210.0,452.1 181.0,313.6 228.5,171.0 167.9,232.7 189.4,381.9 171.2,214.1 167.3,439.7 220.5,171.0 193.5,547.3 199.1,473.5 175.0,456.3 203.4,261.4 171.2,493.8 175.3,338.2 180.3,472.6 194.4,399.9 164.8,407.5 188.6,557.3 198.4,516.2 209.2,317.5 169.2,374.3 179.4,399.5 192.8,371.0 170.0,480.3 172.5,372.4 188.3,505.9 175.0,402.6 192.9,416.2 222.0,306.7 182.0,617.4 171.0,451.2 171.5,381.7 178.3,535.2 194.0,398.1 182.8,472.6 189.1,583.4 213.4,473.1 167.0,532.6 172.6,526.3 170.6,509.6 206.6,522.1 169.0,637.5 165.3,285.9 208.2,331.7 167.0,537.3 163.9,688.3 181.4,496.7 182.5,391.8 181.8,484.7 176.5,409.1 185.3,221.8 172.4,553.0 190.6,396.2 165.0,304.0 193.9,514.5 185.5,425.5 175.2,241.2 213.2,307.6 189.2,392.9 165.2,399.9 170.8,344.6 214.3,449.4 198.9,316.9 174.7,560.9 175.8,423.7 191.9,288.4 164.1,323.8 199.5,386.6 184.0,484.0 171.7,375.8 170.5,264.9 183.2,420.5 180.2,459.2 235.3,289.5 162.6,538.3 169.1,546.0 200.9,350.6 178.4,360.5 168.2,532.6 182.6,475.3 194.4,593.6 176.1,336.8 174.2,268.9 183.7,475.5 190.1,457.8 175.7,484.2 202.1,456.7 188.0,399.3 164.5,259.0 166.4,494.6 191.9,542.0 174.2,492.5 168.5,414.6 178.8,469.9 204.9,365.0 177.6,417.6 184.1,581.6 170.9,686.1 169.2,491.3 181.7,258.1 237.3,423.7 183.3,511.7 178.5,362.3 182.2,423.9 171.7,530.4 187.1,484.8 238.5,223.8 176.5,397.2 178.3,610.3 167.7,642.8 172.8,187.9 187.1,264.5 196.7,295.7 178.6,391.8 166.0,529.3 215.7,443.6 188.2,465.0 188.7,383.5 172.9,513.9 214.7,456.9 186.7,474.3 177.5,321.6 170.4,398.9 168.5,381.0 179.4,588.4 181.6,523.0 174.0,474.7 183.0,535.2 176.1,275.0 188.6,508.2 173.7,356.0 196.3,301.6 189.8,370.0 183.8,314.9 167.4,440.4 168.2,475.7 167.0,483.4 188.6,493.4 171.4,384.4 180.1,580.8 185.0,515.5 179.7,641.6 170.2,561.6 175.7,547.9 208.5,327.5 174.5,461.3 171.5,313.3 189.0,362.4 177.4,358.8 182.1,413.3 184.6,478.0 169.5,559.9 172.0,455.5 200.6,415.8 175.0,258.8 185.7,266.7 192.1,349.9 178.9,318.6 195.7,400.4 211.7,253.8 181.9,379.9 220.1,307.6 214.1,405.3 163.7,411.4 187.5,627.6 176.9,295.0 173.7,536.6 183.9,460.9 173.2,454.8 219.4,619.1 191.4,228.2 177.6,496.6 184.1,631.8 187.4,385.9 182.4,202.5 174.4,333.2 173.9,296.3 166.9,533.4 175.9,596.7 178.8,203.1 220.1,362.5 174.6,665.2 169.4,636.1 180.8,372.7 208.9,411.4 165.1,462.2 185.5,357.4 199.1,385.6 167.0,631.1 180.1,445.0 238.3,518.1 175.5,446.5 172.2,547.7 166.9,430.4 175.6,383.4 184.6,457.9 196.5,343.1 188.8,443.2 165.5,429.2 201.4,491.8 180.1,628.6 182.4,481.7 190.1,483.3 174.2,382.6 188.2,486.0 172.8,476.7 174.1,532.8 176.1,579.3 170.9,549.9 169.4,620.1 183.8,414.4 196.5,390.4 166.7,632.5 169.4,537.5 189.1,344.2 195.2,344.5 163.8,441.0 179.6,359.5 164.8,442.4 165.4,532.2 169.2,513.7 166.6,354.8 174.9,367.3 180.8,430.0 177.1,515.1 229.2,171.0 172.7,522.3 171.7,603.7 169.2,517.6 170.5,535.0 186.4,572.5 162.3,333.5 165.3,262.0 177.0,345.1 191.1,483.6 186.2,306.9 183.5,498.8 190.3,468.9 169.8,290.9 190.3,315.4 170.9,482.2 162.4,464.9 176.0,425.8 188.4,407.1 184.8,334.3 179.6,422.4 221.5,384.6 191.5,464.1 175.3,632.9 242.0,228.3 179.7,272.2 207.5,349.1 237.8,304.4 181.8,203.4 206.1,323.9 176.9,696.6 163.9,571.1 176.8,386.3 177.5,535.4 181.8,462.5 194.7,398.9 208.0,448.3 184.3,450.8 163.8,702.7 186.4,480.6 189.5,341.1 193.6,598.6 181.5,461.7 176.2,400.8 188.6,521.6 212.5,443.3 208.2,179.1 182.8,467.3 179.1,495.7 169.7,350.1 184.5,409.2 180.0,686.1 187.3,397.4 189.9,433.3 177.8,277.6 182.3,458.1 166.1,579.8 188.3,495.5 190.8,603.5 212.8,375.7 172.9,332.9 192.2,613.3 170.8,475.9 180.5,551.3 217.6,412.4 173.1,423.1 209.7,238.6 175.6,490.5 179.7,458.4 227.2,286.5 179.5,387.1 176.2,415.6 179.6,450.0 178.7,329.8 194.1,401.8 172.9,322.4 198.4,358.7 216.9,171.0 174.1,472.1 196.5,373.3 170.5,379.3 168.5,469.6 173.3,441.1 166.1,361.0 219.9,320.6 172.5,584.6 197.9,401.1 178.2,518.7 192.9,287.5 200.4,402.6 201.0,451.6 230.3,305.0 191.1,317.3 186.1,222.6 173.1,642.2 169.2,394.6 187.7,478.8 168.9,563.2 199.0,461.2 178.2,220.5 172.1,563.9 166.2,655.4 169.8,471.5 175.3,458.8 162.6,414.9 202.5,595.3 173.5,688.2 171.0,412.6 175.0,609.2 170.7,727.5 186.2,300.4 167.3,374.5 179.3,391.9 173.4,548.8 182.3,215.3 194.4,406.1 185.0,640.3 183.6,333.3 172.8,208.3 204.7,460.4 168.5,310.9 172.7,455.6 166.8,723.7 219.3,291.6 201.2,388.5 172.2,559.8 186.3,534.3 181.2,476.9 178.1,574.1 165.9,483.5 174.9,452.6 180.9,272.5 169.7,501.3 190.8,448.9 162.2,240.5 220.5,456.9 170.7,607.1 164.9,536.2 183.0,471.8 198.2,229.0 186.4,405.7 226.9,456.5 172.7,336.9 190.5,282.9 177.6,517.0 175.7,268.1 187.8,333.3 166.4,699.4 186.6,408.4 209.7,272.2 168.5,171.0 183.3,422.1 207.4,362.9 178.7,396.9 239.3,335.5 167.7,455.6 195.0,281.9 169.3,493.5 195.5,572.1 165.3,481.3 168.9,453.5 181.6,401.1 191.6,342.5 177.4,342.3 188.9,313.1 184.5,406.4 180.3,492.0 165.9,610.8 164.4,637.1 234.7,241.4 188.3,639.8 183.0,389.0 239.6,366.1 172.6,427.2 176.4,521.1 179.0,544.6 202.7,503.0 175.8,603.8 205.8,389.4 185.7,173.7 197.8,511.4 182.6,444.6 179.8,349.8 194.3,291.4 212.6,506.1 194.1,545.2 195.2,303.8 185.8,326.3 171.9,677.9 178.5,675.0 180.8,571.5 176.8,601.7 192.0,382.5 177.7,204.6 171.2,338.3 181.2,294.0 172.3,531.9 179.0,590.0 179.8,321.7 181.6,615.5 228.1,326.7 195.4,487.0 206.7,410.0 170.8,336.7 191.3,310.0 193.0,325.2 171.0,655.8 170.6,643.4 164.8,508.9 168.8,583.8 175.8,462.5 167.7,512.6 168.8,504.9 166.0,565.4 173.6,300.2 166.9,685.1 238.7,585.9 167.1,324.6 170.2,442.0 170.1,632.3 181.1,389.9 185.4,297.9 171.8,625.0 192.2,498.9 168.1,365.3 170.4,660.1 220.0,330.2 169.5,469.4 165.4,447.0 170.7,422.6 193.0,248.0 211.0,254.7 171.8,358.2 214.5,200.5 172.3,474.9 232.4,279.8 168.5,230.2 195.4,178.4 169.8,465.7 167.7,650.1 167.3,694.4 189.5,418.5 224.4,217.9 178.0,466.4 175.3,293.7 170.1,189.9 166.4,457.1 206.4,340.4 181.9,604.2 167.6,556.7 168.9,568.9 179.7,476.0 190.5,347.0 176.1,446.0 187.2,267.9 168.2,221.8 180.3,404.2 180.6,441.2 169.8,234.9 188.0,372.4 168.6,505.5 163.8,496.2 191.0,173.2 183.1,496.6 181.3,171.0 176.1,452.8 205.3,274.2 177.2,456.1 167.0,383.7 179.5,548.3 172.3,572.0 180.5,401.7 182.6,504.7 170.6,372.2 176.8,446.6 179.1,459.9 192.9,498.6 164.8,688.9 183.5,242.9 185.0,366.2 172.0,426.2 167.4,322.0 178.7,375.0 182.3,383.4 184.6,403.4 173.7,268.1 188.6,403.8 181.0,324.0 185.0,422.1 183.9,493.9 198.4,445.6 195.0,364.9 178.3,280.0 213.0,437.6 204.5,487.5 165.6,486.2 163.9,277.3 200.1,341.2 193.8,432.1 188.4,442.7 170.8,561.1 186.1,313.1 213.9,231.8 169.1,580.8 172.1,352.2 238.7,171.0 185.8,475.4 184.9,537.1 187.6,193.4 200.4,419.0 219.7,221.1 171.2,674.8 171.1,678.5 192.9,321.7 198.7,337.1 196.6,587.9 168.9,520.4 162.9,479.6 185.5,528.8 181.2,231.8 164.4,609.6 181.7,378.8 191.2,260.8 171.5,301.0 192.4,345.2 165.7,535.5 179.0,587.0 161.9,277.1 176.0,602.6 189.2,672.4 200.3,447.0 176.1,413.8 190.7,377.4 167.1,529.7 165.6,402.5 247.2,386.7 183.3,196.5 197.1,512.3 184.1,362.0 169.6,566.1 166.6,492.8 196.9,356.0 186.4,524.8 199.6,421.0 169.8,367.9 198.9,239.9 209.5,471.5 171.0,506.1 203.5,484.4 176.1,392.1 187.8,405.0 179.1,386.4 194.7,551.2 169.4,557.9 183.2,569.4 171.7,582.8 178.2,438.5 193.9,171.0 164.6,365.1 176.2,425.0 210.0,262.3 186.7,512.2 166.2,387.6 170.5,314.0 226.3,380.1 174.1,571.1 171.7,347.0 189.4,361.8 172.6,314.1 186.9,525.9 198.6,608.3 181.9,586.7 185.1,499.9 163.1,296.6 203.3,563.1 201.6,417.0 185.7,439.2 181.3,608.9 242.1,541.9 167.5,663.4 179.4,727.5 178.3,519.4 183.7,399.0 165.7,339.5 192.6,322.6 245.5,348.1 207.6,491.2 166.9,554.2 166.4,517.2 183.0,426.4 174.3,300.0 203.2,438.9 192.6,219.3 207.1,307.7 176.8,482.8 204.9,327.3 167.7,727.5 177.7,267.4 164.7,381.0 170.0,622.0 173.2,456.5 180.3,443.6 187.2,296.7 183.5,449.5 172.2,525.5 190.0,544.4 180.2,341.0 211.2,282.9 171.2,393.0 172.6,198.5 170.9,212.1 202.2,345.6 164.2,362.4 211.6,349.5 164.0,523.2 166.2,560.9 185.7,516.5 170.1,257.8 182.6,318.6 176.9,393.6 172.7,401.3 189.6,407.0 183.3,401.0 183.6,391.3 183.0,505.1 200.8,307.1 178.5,553.4 171.3,354.3 166.3,293.7 197.5,390.1 170.5,394.0 164.6,557.6 168.1,674.6 174.8,650.0 197.6,357.6 175.6,415.2 186.5,473.3 195.5,430.6 180.2,171.8 186.9,517.5 214.1,410.5 168.0,516.1 183.0,528.9 180.1,386.7 205.3,402.5 174.3,530.3 167.8,205.3 167.6,562.3 208.1,386.0 167.6,176.3 203.3,273.8 188.1,263.0 204.0,387.9 166.0,640.8 174.9,262.9 167.0,490.3 181.0,279.5 174.4,510.9 202.1,304.0 176.2,365.1 179.9,551.5 194.2,472.9 188.6,533.0 175.3,405.5 173.3,446.9 167.7,405.3 185.9,278.8 190.8,642.1 215.4,309.4 165.4,307.6 174.7,317.3 183.6,352.5 204.1,277.7 197.4,376.4 189.4,368.4 186.6,470.9 168.8,420.6 192.4,504.4 163.3,580.6 185.3,314.8 177.1,193.0 165.5,431.5 162.1,422.8 195.2,439.5 173.0,554.8 191.8,492.5 175.9,460.6 166.6,564.2 181.2,561.2 185.3,459.9 166.5,449.1 210.1,314.7 177.4,642.5 179.8,506.0 178.0,372.9 184.3,552.7 173.4,270.6 163.8,320.4 187.6,426.0 176.3,448.5 179.7,526.6 182.7,393.4 187.1,393.9 193.7,406.7 190.7,453.7 179.0,616.2 192.1,254.3 173.3,533.4 173.4,619.2 224.6,520.3 168.5,612.1 182.2,196.6 182.3,264.2 166.0,259.0 192.8,361.3 199.1,360.8 205.1,510.5 166.8,496.8 168.0,507.8 184.7,280.7 176.9,338.7 181.0,439.3 194.9,347.9 171.8,324.9 239.5,434.9 182.6,572.6 173.5,377.0 171.8,305.7 170.7,648.4 175.5,361.6 167.2,636.6 206.4,417.9 212.8,225.3 169.0,416.4 190.5,371.6 177.9,464.1 191.0,427.8 178.6,463.3 218.1,471.0 173.9,424.9 235.2,173.8 231.7,298.6 175.6,469.0 166.8,573.8 172.2,435.8 183.1,517.4 191.8,497.0 194.0,604.6 171.8,288.5 199.6,382.9 171.7,466.7 188.6,291.6 179.7,385.7 203.3,501.8 185.0,565.4 169.2,519.1 176.0,569.4 175.1,235.8 171.3,395.9 170.9,581.3 222.1,304.2 178.4,540.5 179.0,458.8 227.5,294.8 170.1,269.9 169.2,391.2 175.7,344.4 226.4,427.3 205.1,469.9 166.9,560.7 175.1,389.4 186.8,435.1 178.4,471.1 193.0,435.8 173.2,448.3 165.9,453.7 165.7,266.7 170.9,559.4 163.4,582.4 186.1,412.4 169.8,338.0 186.1,502.3 185.6,319.9 197.5,303.9 176.4,439.7 169.3,432.9 166.6,424.4 209.7,394.8 176.6,265.0 170.1,572.7 180.2,524.0 179.7,541.8 192.6,324.0 163.9,716.8 196.8,190.8 188.3,351.8 202.5,433.9 180.4,330.1 199.9,363.9 196.0,452.3 180.1,331.7 190.8,334.3 191.4,381.5 195.6,262.0 205.1,484.0 177.5,377.7 191.6,455.5 163.3,502.6 215.2,399.8 195.8,277.2 183.8,214.4 191.3,262.9 197.4,446.7 193.6,260.5 192.7,379.1 222.9,221.7 203.3,257.6 195.9,294.8 199.1,322.8 222.1,459.1 180.5,537.5 184.1,454.5 168.9,682.5 211.9,510.4 173.4,401.8 186.0,520.6 174.1,600.0 214.4,392.5 165.6,464.8 191.4,486.9 168.9,353.4 169.7,528.5 188.0,396.4 180.3,416.7 178.9,533.4 169.1,523.7 213.8,445.3 199.6,345.5 184.7,414.1 192.3,297.7 205.1,374.3 190.1,307.9 226.2,270.0 184.0,620.7 177.8,392.7 167.4,677.9 213.5,524.8 194.2,510.3 166.1,412.0 165.0,630.9 175.2,341.7 182.6,386.5 168.5,464.1 186.3,426.0 176.7,296.3 193.0,369.0 199.4,199.8 179.5,468.3 180.2,261.5 176.5,492.0 173.7,366.9 181.0,433.2 227.3,355.8 194.5,257.0 169.4,324.1 176.2,488.5 180.5,385.7 204.8,337.7 196.2,331.7 167.6,502.2 196.6,375.7 182.2,478.9 182.4,385.0 205.7,496.5 185.7,229.1 186.1,535.8 185.6,387.0 202.4,299.5 206.3,581.9 200.8,530.2 169.6,602.5 183.2,297.2 164.7,520.4 196.6,593.8 190.1,335.3 169.2,357.8 185.8,321.0 176.4,656.7 168.4,635.6 177.2,470.7 199.4,370.3 162.0,517.9 193.0,229.7 209.4,358.3 238.8,292.2 195.8,340.1 170.2,545.5 173.2,373.7 174.3,451.4 164.4,390.0 162.4,511.1 169.1,327.5 175.0,337.0 177.2,543.9 187.7,631.2 194.2,451.9 189.3,330.1 217.3,186.8 192.6,412.8 168.8,351.9 178.9,524.0 215.3,514.9 199.1,264.0 173.4,430.5 173.4,611.3 177.0,399.6 182.0,270.1 182.1,454.3 180.4,406.8 162.4,301.2 186.3,358.3 174.3,369.2 187.0,308.4 173.2,381.6 190.6,215.3 171.7,377.9 183.0,544.8 180.2,514.7 166.8,441.0 171.7,449.3 194.9,355.4 190.2,231.5 176.2,257.4 178.1,512.1 182.2,348.1 171.3,415.2 174.8,397.2 167.7,495.8 172.2,232.5 191.5,422.8 199.5,348.4 168.7,579.5 187.2,331.2 180.0,289.0 176.8,390.9 167.2,311.7 211.9,330.5 168.2,325.1 165.6,482.6 200.5,308.5 169.5,401.9 187.1,566.0 181.9,469.5 176.6,371.8 184.1,342.7 177.8,432.0 166.7,544.1 170.3,330.4 190.1,339.0 201.7,322.8 175.1,198.6 187.4,430.9 199.9,398.8 163.2,693.8 199.8,352.3 181.7,494.1 197.9,374.3 174.4,617.3 211.5,293.4 179.4,259.5 179.4,210.6 194.7,357.5 168.1,384.9 180.4,727.5 192.9,506.4 195.7,433.2 193.6,517.6 188.1,400.1 193.8,429.7 173.5,468.1 175.6,313.2 182.4,453.8 180.4,295.7 174.1,357.6 178.0,333.4 219.9,354.7 185.8,483.1 184.2,381.7 171.1,443.3 190.8,325.1 167.2,424.8 203.1,390.0 162.2,364.7 182.4,334.2 181.6,506.2 182.9,428.7 182.4,376.5 238.8,214.9 199.1,387.9 210.5,227.6 175.7,300.3 197.4,418.1 169.4,429.5 166.9,477.5 220.7,471.5 204.2,391.3 170.6,576.8 177.7,453.4 200.1,421.3 248.5,297.1 190.8,362.9 184.3,438.7 195.4,300.3 194.1,274.4 200.2,420.7 179.0,227.3 189.3,321.3 180.7,573.3 171.9,495.1 168.4,610.3 233.7,282.3 209.3,404.1 182.7,371.2 217.8,388.1 176.7,404.7 176.3,357.3 170.5,446.3 185.2,705.4 181.6,367.5 184.8,572.0 178.4,248.0 166.3,368.6 166.5,599.8 172.9,461.0 176.1,345.6 165.2,551.5 174.6,352.8 186.7,177.2 177.5,378.9 166.3,521.7 176.8,400.3 183.9,452.5 174.7,566.0 188.6,198.3 166.1,530.0 172.1,462.5 193.9,248.1 187.3,233.1 174.5,315.1 164.6,547.3 167.0,414.0 217.1,560.8 193.6,441.8 211.3,310.6 207.9,441.0 195.8,201.0 197.1,423.9 166.3,568.8 168.3,429.5 189.1,604.4 191.3,213.8 179.2,334.4 177.8,403.2 189.8,318.5 167.7,595.1 185.6,508.6 171.5,356.4 179.6,302.8 172.3,306.0 164.6,471.4 180.3,509.1 204.8,370.2 164.7,515.3 178.5,363.4 177.7,278.7 174.9,541.6 169.7,672.9 205.8,407.0 175.2,533.4 170.6,397.0 234.3,467.0 181.7,289.5 200.3,324.9 172.8,548.2 177.7,695.9 165.3,661.2 195.3,406.5 207.3,493.6 176.0,484.9 172.5,597.7 184.5,603.8 164.6,612.5 167.3,641.9 195.5,394.2 194.3,336.7 215.0,288.3 198.4,472.2 168.6,349.4 212.9,301.5 178.5,631.9 176.4,369.3 184.4,512.0 202.4,324.3 195.4,461.9 180.8,642.3 165.8,578.0 191.2,313.0 179.5,525.5 203.9,279.1 167.8,272.5 195.7,519.8 171.7,472.2 187.7,505.5 202.1,571.4 177.6,369.0 173.5,666.1 185.6,628.6 183.2,526.4 185.8,200.7 210.4,354.1 198.8,361.7 166.4,482.8 163.4,339.8 175.2,358.0 216.5,256.7 184.7,517.8 163.3,671.2 188.3,336.1 175.8,454.4 232.8,480.7 176.5,565.5 175.1,372.1 185.6,497.3 214.7,472.3 170.1,455.7 170.6,633.2 171.8,479.1 177.2,569.4 181.0,261.3 198.4,370.4 186.0,625.6 167.3,568.3 174.8,448.2 166.7,581.6 214.0,301.0 169.9,474.5 205.2,412.5 174.5,395.4 182.3,388.5 185.8,295.3 196.5,466.9 175.9,354.1 173.8,617.9 161.4,411.4 191.3,377.3 168.2,425.3 198.6,253.9 192.2,538.2 168.7,544.7 182.1,431.7 166.1,649.1 248.5,355.6 179.4,277.2 218.2,406.9 178.1,342.2 192.6,516.9 173.8,618.6 169.4,525.2 161.5,517.1 184.1,348.0 165.2,440.4 175.2,411.7 176.4,420.1 206.7,449.6 184.2,584.7 203.5,471.7 178.9,500.2 182.3,423.2 234.5,302.7 175.0,325.5 181.3,418.4 178.5,483.3 169.2,439.4 216.0,227.5 175.3,472.5 193.5,319.5 167.4,345.2 185.9,550.2 176.2,439.0 167.6,443.5 163.5,398.3 176.3,352.6 164.3,538.1 177.4,510.6 233.1,324.5 170.0,305.3 180.3,311.7 213.2,452.8 172.3,382.6 231.7,444.0 170.9,436.3 177.8,320.1 194.1,486.7 173.3,478.8 168.8,275.6 167.8,397.9 172.6,293.1 176.9,586.8 184.2,473.2 178.4,403.7 187.6,400.9 185.8,358.7 165.2,444.0 185.7,383.7 187.0,463.0 193.9,550.4 177.0,363.0 205.8,370.9 188.7,181.0 213.7,354.3 194.4,466.5 179.2,482.6 207.1,511.3 177.9,424.4 169.6,583.3 194.3,543.2 199.6,508.1 188.0,503.0 186.6,329.0 194.6,423.1 192.3,667.5 169.7,370.8 177.0,439.9 179.2,401.9 174.9,420.2 176.1,703.5 197.1,364.4 182.2,487.4 183.9,386.7 177.3,560.1 174.3,548.9 201.2,361.3 196.3,415.2 167.5,579.7 203.2,405.1 177.8,335.4 182.3,201.2 193.8,487.2 180.4,554.1 193.9,333.2 191.8,361.4 180.0,524.8 186.6,513.4 182.8,431.8 183.7,405.9 172.3,558.1 180.1,374.8 164.1,492.1 170.1,262.0 166.4,373.7 172.0,483.7 181.2,427.6 227.7,191.3 178.7,319.9 177.2,517.6 169.0,489.9 181.7,409.5 169.7,428.8 200.1,598.6 221.0,329.7 171.4,373.5 164.8,382.5 164.5,410.1 208.6,221.3 166.4,452.0 168.8,588.8 171.8,498.0 172.0,430.0 202.2,450.4 164.1,482.4 173.6,436.7 176.7,552.0 162.5,597.4 177.1,523.7 166.6,378.7 190.0,423.2 237.5,554.8 190.9,474.1 177.8,345.2 166.4,296.6 181.9,589.6 194.1,477.5 169.0,419.6 195.3,393.6 165.1,430.2 169.1,263.7 182.3,554.1 203.9,424.6 192.0,305.4 219.7,333.6 190.7,337.0 214.6,293.2 202.1,447.0 170.6,349.9 175.1,581.1 184.4,538.6 190.5,278.2 187.9,296.5 169.1,468.7 176.3,632.8 181.5,490.2 203.5,395.5 162.7,421.6 196.0,398.4 168.5,707.0 205.6,171.0 219.4,340.8 172.2,207.6 196.1,421.2 187.0,411.7 175.8,461.6 233.1,337.1 192.1,479.5 196.6,315.0 184.1,466.9 171.7,493.0 186.7,404.7 173.4,480.7 171.2,388.3 191.9,519.0 167.6,401.9 186.5,217.7 171.3,536.7 178.6,417.5 204.3,376.7 195.1,517.8 202.6,378.3 172.9,325.5 163.3,311.8 183.7,292.2 186.5,387.6 197.6,356.5 206.9,407.7 172.4,573.7 186.2,490.1 188.8,531.2 191.0,672.0 179.5,416.3 177.0,298.5 173.1,484.3 175.8,278.4 180.2,240.8 180.6,482.0 171.9,301.5 169.3,536.1 182.7,366.5 166.8,176.0 208.3,259.0 177.8,223.5 187.9,265.2 193.9,323.2 172.6,497.7 176.5,554.3 188.7,624.2 238.8,413.0 188.1,435.0 192.0,437.2 185.4,538.0 162.7,589.1 183.5,488.7 203.0,226.8 240.5,435.5 206.9,186.3 184.8,498.0 185.3,372.4 169.4,393.0 168.2,303.5 173.3,546.6 168.6,485.8 165.4,244.5 178.1,544.4 191.0,403.3 168.2,255.2 168.1,393.1 214.5,578.6 164.6,328.4 195.5,290.4 186.8,555.9 198.0,481.9 170.9,377.1 192.2,417.2 203.5,171.0 218.3,171.0 207.3,171.0 223.3,171.0 200.2,171.0 185.8,171.0 167.4,171.0 195.5,171.0 226.6,171.0 240.7,171.0 197.2,171.0 224.5,171.0 210.6,171.0 188.8,171.0 207.8,727.5 169.3,727.5 166.0,727.5 170.1,727.5 171.4,727.5 188.5,727.5 178.6,727.5 190.6,727.5 182.1,727.5 287.7,171.0 296.1,170.5 315.8,172.3 325.5,170.6 496.1,170.6 288.6,174.3 291.9,174.3 273.5,183.9 283.5,185.6 264.8,185.6 327.5,193.1 261.7,196.6 256.7,204.0 290.8,202.3 305.0,205.9 512.2,211.6 378.0,222.6 472.3,226.5 478.6,232.0 267.6,230.0 269.8,239.4 258.4,246.8 265.9,246.8 324.1,250.5 255.9,254.3 268.8,254.3 277.2,254.3 311.2,261.6 264.6,263.6 294.3,273.0 328.2,274.6 332.4,285.9 268.8,276.1 259.7,280.0 273.0,284.2 261.2,293.1 269.6,293.4 285.2,295.1 466.6,294.9 367.4,302.7 377.5,308.0 272.6,304.3 260.9,301.8 263.4,302.7 267.6,311.9 260.1,315.2 258.4,319.4 344.1,324.8 424.6,326.6 276.0,330.3 294.0,328.3 321.3,328.3 255.9,332.0 309.4,339.7 260.4,344.9 262.1,350.5 267.6,350.5 275.3,350.8 312.4,358.3 378.3,358.3 283.2,360.0 267.6,359.7 301.5,365.6 266.8,367.2 254.2,370.9 331.4,374.8 360.7,382.3 273.5,387.9 257.5,389.9 302.8,387.9 285.2,393.6 293.6,391.6 260.4,395.2 256.4,397.4 268.8,397.4 269.3,404.8 283.2,401.1 287.2,399.1 307.0,401.1 423.6,419.6 257.0,421.2 253.0,436.0 291.1,456.1 297.0,458.7 332.2,477.0 379.7,484.5 392.9,499.3 546.4,480.7 275.2,484.5 269.8,505.0 307.4,510.5 302.5,520.1 259.2,531.0 312.1,566.2 258.9,571.7 364.9,577.3 257.0,594.1 260.1,625.4 268.8,727.8 956.2,597.8" fill="none" stroke="none" marker-start="url(#mb)" marker-mid="url(#mb)" marker-end="url(#mb)"/>
<polyline points="1176.9,414.4 1177.6,412.9 1177.9,412.3 1178.2,411.6 1178.7,410.6 1179.0,410.0 1179.4,409.3 1179.6,408.7 1179.9,408.1 1180.2,407.6 1180.5,407.0 1180.8,406.4 1181.1,405.9 1181.4,405.3 1181.6,404.8 1181.9,404.2 1182.2,403.6 1182.5,403.1 1182.8,402.5 1183.1,402.0 1183.4,401.4 1183.7,400.9 1184.0,400.3 1184.3,399.8 1184.5,399.2 1184.8,398.7 1185.1,398.2 1185.4,397.6 1185.7,397.1 1186.0,396.5 1186.3,396.0 1186.6,395.5 1186.9,394.9 1187.1,394.4 1187.4,393.9 1187.7,393.3 1188.0,392.8 1188.3,392.3 1188.6,391.8 1188.9,391.2 1189.2,390.7 1189.5,390.2 1189.8,389.7 1190.1,389.1 1190.5,388.6 1190.8,388.1 1191.1,387.5 1191.4,387.0 1191.7,386.5 1192.0,385.9 1192.3,385.4 1192.6,384.9 1192.9,384.4 1193.2,383.8 1193.5,383.3 1193.8,382.8 1194.2,382.3 1194.5,381.8 1194.8,381.2 1195.1,380.7 1195.4,380.2 1195.7,379.6 1196.0,379.1 1196.3,378.5 1196.6,378.0 1196.9,377.5 1197.2,376.9 1197.5,376.4 1197.7,375.8 1198.0,375.3 1198.3,374.8 1198.6,374.2 1198.9,373.7 1199.2,373.1 1199.5,372.6 1199.7,372.0 1200.0,371.5 1200.3,370.9 1200.6,370.4 1200.8,369.9 1201.1,369.3 1201.4,368.8 1201.7,368.2 1202.0,367.6 1202.2,367.1 1202.5,366.6 1202.8,366.0 1203.0,365.5 1203.4,364.9 1203.6,364.3 1203.9,363.8 1204.2,363.2 1204.5,362.6 1204.7,362.1 1205.0,361.6 1205.3,361.0 1205.6,360.5 1205.9,359.9 1206.1,359.4 1206.4,358.8 1206.7,358.3 1207.0,357.7 1207.3,357.2 1207.6,356.6 1207.9,356.1 1208.2,355.5 1208.5,355.0 1208.8,354.4 1209.1,353.9 1209.4,353.4 1209.7,352.8 1210.0,352.3 1210.4,351.7 1210.7,351.1 1211.0,350.6 1211.3,350.1 1211.6,349.5 1211.9,349.0 1212.2,348.5 1212.6,348.0 1212.9,347.4 1213.2,346.9 1213.5,346.3 1213.8,345.8 1214.2,345.3 1214.5,344.8 1214.8,344.2 1215.1,343.7 1215.4,343.1 1215.8,342.6 1216.1,342.1 1216.4,341.5 1216.7,341.0 1217.0,340.5 1217.4,339.9 1217.7,339.4 1218.0,338.9 1218.4,338.3 1218.7,337.7 1219.0,337.2 1219.4,336.7 1219.7,336.2 1220.0,335.7 1220.3,335.2 1220.7,334.6 1221.0,334.1 1221.4,333.5 1221.8,332.9 1222.1,332.3 1222.5,331.8 1222.8,331.3 1223.2,330.8 1223.5,330.2 1223.9,329.7 1224.2,329.2 1224.6,328.7 1224.9,328.3 1225.3,327.8 1225.7,327.2 1226.0,326.8 1226.4,326.2 1226.8,325.8 1227.1,325.3 1227.6,324.7 1228.0,324.2 1228.5,323.6 1228.9,323.1 1229.3,322.6 1229.7,322.1 1230.2,321.7 1230.6,321.2 1231.0,320.7 1231.5,320.3 1231.9,319.8 1232.4,319.3 1232.8,318.9 1233.3,318.5 1233.7,318.1 1234.2,317.7 1234.6,317.3 1235.1,316.9 1235.7,316.4 1236.4,315.9 1236.8,315.5 1237.5,315.0 1238.0,314.6 1238.6,314.1 1239.3,313.6 1239.8,313.2 1240.3,312.8 1240.8,312.5 1241.3,312.1 1241.8,311.8 1242.3,311.4 1242.8,311.1 1243.3,310.7 1243.9,310.4 1244.5,310.0 1245.1,309.6 1245.6,309.3 1246.1,309.0 1246.7,308.6 1247.3,308.3 1247.8,308.0 1248.4,307.6 1249.0,307.3 1249.6,306.9 1250.2,306.6 1250.8,306.2 1251.6,305.8 1252.3,305.4 1252.9,305.1 1253.4,304.7 1254.0,304.4 1254.5,304.1 1255.1,303.7 1255.9,303.3 1256.4,302.9 1257.0,302.6 1257.6,302.2 1258.5,301.7 1259.4,301.1 1260.0,300.8 1260.7,300.4 1261.2,300.1 1262.0,299.6 1262.7,299.3 1263.3,298.9 1263.9,298.6 1264.5,298.3 1265.2,298.0 1266.5,297.4 1267.2,297.1 1268.3,296.8 1269.0,296.5 1269.7,296.4 1270.4,296.2 1271.1,296.1 1272.6,295.9 1273.4,295.9 1274.2,295.8 1275.3,295.8 1276.5,295.7 1277.3,295.7 1278.7,295.6 1279.6,295.6 1281.0,295.6 1281.7,295.6 1283.1,295.5 1284.4,295.5 1285.9,295.5 1286.8,295.6 1287.8,295.8 1288.9,296.0 1289.7,296.2 1290.4,296.5 1292.5,297.2 1294.5,298.0 1296.1,298.6 1299.4,299.6 1300.4,299.9 1301.6,300.2 1302.2,300.4 1303.1,300.6 1303.7,300.8 1305.1,301.1 1307.0,301.6 1307.6,301.7 1312.6,302.9 1315.4,303.6 1318.2,304.2 1321.0,304.9 1322.2,305.2 1324.0,305.7 1326.4,306.4 1327.9,306.8 1332.2,308.2 1333.0,308.4 1334.5,308.9 1335.3,309.1 1336.4,309.5 1338.2,310.1 1339.6,310.5 1342.5,311.4 1344.2,311.8 1345.5,312.2 1346.1,312.4 1348.8,313.0 1350.6,313.4 1361.3,315.5 1376.6,318.3 1381.7,318.3 1384.3,318.3 1395.1,317.4 1396.4,317.3 1410.4,315.3 1441.1,305.1 1441.7,304.8 1483.2,286.1 1489.6,283.9 1495.3,281.7 1513.2,275.5 1529.1,271.8 1563.6,268.2 1973.5,547.1" fill="none" stroke="none" marker-start="url(#mr)" marker-mid="url(#mr)" marker-end="url(#mr)"/>
<polyline points="1176.9,406.9 1177.6,405.9 1177.9,405.5 1178.2,405.1 1178.7,404.4 1179.1,403.9 1179.4,403.5 1179.6,403.1 1179.9,402.7 1180.2,402.3 1180.5,401.8 1180.8,401.4 1181.1,401.0 1181.4,400.6 1181.6,400.1 1181.9,399.7 1182.2,399.3 1182.5,398.8 1182.8,398.4 1183.1,398.0 1183.3,397.5 1183.6,397.1 1183.9,396.7 1184.2,396.2 1184.5,395.8 1184.7,395.4 1185.0,394.9 1185.3,394.5 1185.6,394.1 1185.8,393.6 1186.1,393.2 1186.4,392.8 1186.7,392.3 1186.9,391.9 1187.2,391.5 1187.5,391.0 1187.8,390.6 1188.0,390.2 1188.3,389.8 1188.6,389.3 1188.8,388.9 1189.1,388.5 1189.4,388.0 1189.7,387.6 1189.9,387.2 1190.2,386.8 1190.5,386.3 1190.7,385.9 1191.0,385.5 1191.3,385.0 1191.5,384.6 1191.8,384.1 1192.0,383.7 1192.3,383.3 1192.6,382.9 1192.8,382.4 1193.1,382.0 1193.3,381.6 1193.6,381.1 1193.9,380.7 1194.1,380.2 1194.4,379.8 1194.7,379.3 1194.9,378.9 1195.2,378.4 1195.4,378.0 1195.7,377.5 1196.0,377.1 1196.2,376.6 1196.5,376.2 1196.7,375.7 1197.0,375.3 1197.2,374.8 1197.5,374.4 1197.7,373.9 1198.0,373.5 1198.2,373.1 1198.5,372.6 1198.7,372.1 1199.0,371.7 1199.2,371.2 1199.5,370.8 1199.7,370.3 1200.0,369.9 1200.2,369.4 1200.5,368.9 1200.7,368.5 1201.0,368.1 1201.2,367.6 1201.4,367.1 1201.7,366.7 1201.9,366.2 1202.2,365.7 1202.5,365.2 1202.7,364.8 1202.9,364.3 1203.2,363.9 1203.4,363.4 1203.6,363.0 1203.9,362.5 1204.1,362.0 1204.4,361.5 1204.6,361.1 1204.9,360.6 1205.1,360.1 1205.3,359.7 1205.6,359.2 1205.8,358.8 1206.0,358.3 1206.3,357.8 1206.5,357.4 1206.8,356.8 1207.0,356.4 1207.3,355.9 1207.5,355.4 1207.7,355.0 1208.0,354.5 1208.2,354.0 1208.5,353.6 1208.7,353.1 1208.9,352.6 1209.2,352.2 1209.4,351.7 1209.6,351.2 1209.9,350.8 1210.1,350.3 1210.4,349.8 1210.6,349.3 1210.8,348.8 1211.1,348.4 1211.3,347.9 1211.5,347.4 1211.8,347.0 1212.0,346.5 1212.2,346.1 1212.4,345.6 1212.6,345.2 1212.9,344.7 1213.1,344.2 1213.3,343.7 1213.6,343.2 1213.8,342.7 1214.0,342.2 1214.2,341.8 1214.5,341.3 1214.7,340.7 1215.0,340.2 1215.2,339.8 1215.4,339.3 1215.6,338.8 1215.8,338.4 1216.0,337.9 1216.3,337.4 1216.5,336.9 1216.7,336.5 1217.0,336.0 1217.2,335.5 1217.4,335.0 1217.6,334.6 1217.9,334.0 1218.1,333.6 1218.3,333.1 1218.5,332.7 1218.8,332.2 1219.0,331.7 1219.2,331.3 1219.4,330.8 1219.7,330.3 1219.9,329.9 1220.1,329.4 1220.4,329.0 1220.6,328.5 1220.9,328.0 1221.1,327.6 1221.4,327.0 1221.7,326.5 1221.9,326.0 1222.2,325.5 1222.4,325.0 1222.7,324.6 1222.9,324.1 1223.2,323.7 1223.4,323.2 1223.7,322.7 1223.9,322.2 1224.2,321.7 1224.5,321.2 1224.7,320.8 1224.9,320.3 1225.2,319.8 1225.4,319.4 1225.7,318.9 1226.0,318.3 1226.3,317.9 1226.5,317.4 1226.8,316.8 1227.1,316.4 1227.4,315.9 1227.6,315.5 1227.9,315.0 1228.2,314.5 1228.5,313.9 1228.8,313.5 1229.1,313.1 1229.4,312.6 1229.7,312.1 1230.0,311.6 1230.3,311.1 1230.6,310.7 1230.9,310.3 1231.2,309.9 1231.6,309.4 1231.9,309.0 1232.3,308.6 1232.6,308.2 1233.0,307.8 1233.4,307.4 1233.7,307.0 1234.1,306.6 1234.6,306.2 1235.1,305.7 1235.5,305.4 1235.9,305.0 1236.4,304.6 1236.8,304.2 1237.2,303.9 1237.6,303.6 1238.1,303.2 1238.6,302.8 1239.3,302.3 1239.7,302.0 1240.3,301.5 1240.7,301.2 1241.3,300.9 1241.7,300.5 1242.1,300.3 1242.5,300.0 1243.0,299.6 1243.5,299.3 1244.0,299.0 1244.5,298.7 1245.0,298.4 1245.6,298.0 1246.1,297.7 1246.7,297.3 1247.2,297.1 1247.8,296.7 1248.2,296.5 1248.8,296.2 1249.3,295.9 1249.8,295.6 1250.2,295.3 1250.8,295.0 1251.3,294.7 1251.9,294.3 1252.9,293.7 1253.4,293.4 1253.9,293.1 1254.4,292.7 1254.9,292.4 1255.3,292.1 1255.9,291.7 1256.4,291.4 1257.0,290.9 1257.6,290.6 1258.5,290.0 1259.0,289.6 1259.4,289.3 1260.0,289.0 1260.7,288.6 1261.2,288.3 1262.0,287.8 1262.7,287.5 1263.3,287.2 1263.8,286.9 1264.5,286.5 1265.2,286.2 1266.5,285.5 1267.2,285.1 1267.8,284.8 1268.3,284.6 1269.0,284.3 1269.5,284.1 1270.1,283.8 1270.7,283.6 1271.1,283.4 1272.6,282.9 1273.1,282.7 1273.7,282.6 1274.2,282.4 1274.8,282.3 1275.3,282.2 1276.5,282.0 1277.3,281.9 1277.9,281.8 1278.7,281.7 1279.6,281.6 1281.0,281.4 1281.7,281.3 1283.1,281.1 1284.4,281.0 1284.9,280.9 1285.9,280.8 1286.8,280.7 1287.8,280.6 1288.9,280.5 1289.7,280.4 1290.4,280.4 1292.5,280.3 1294.5,280.2 1296.1,280.1 1299.4,280.1 1300.4,280.1 1301.6,280.1 1302.2,280.1 1303.1,280.1 1303.7,280.1 1305.1,280.1 1307.0,280.2 1307.6,280.2 1312.6,280.3 1315.4,280.4 1318.2,280.5 1321.0,280.6 1322.2,280.6 1324.0,280.7 1326.4,280.8 1327.9,280.8 1332.2,281.1 1333.0,281.1 1334.5,281.2 1335.3,281.3 1336.4,281.4 1338.2,281.5 1339.6,281.6 1342.5,281.8 1344.2,281.8 1345.5,281.9 1346.1,281.9 1348.8,282.1 1350.6,282.1 1361.3,282.4 1376.6,281.3 1381.7,280.2 1384.3,279.3 1395.1,276.3 1396.4,275.9 1410.4,271.4 1441.1,255.3 1441.7,254.9 1483.2,229.0 1489.6,224.8 1495.3,220.9 1513.2,209.0 1529.1,197.2 1563.6,170.8 1973.5,365.3" fill="none" stroke="none" marker-start="url(#mbl)" marker-mid="url(#mbl)" marker-end="url(#mbl)"/>
<polyline points="1176.9,423.7 1177.6,422.1 1177.9,421.4 1178.2,420.7 1178.7,419.4 1178.9,418.9 1179.2,418.1 1179.4,417.6 1179.6,417.1 1179.9,416.3 1180.1,415.7 1180.3,415.2 1180.5,414.7 1180.6,414.2 1180.8,413.7 1181.0,413.1 1181.2,412.6 1181.4,412.1 1181.5,411.6 1181.7,411.2 1181.9,410.6 1182.1,410.1 1182.2,409.6 1182.4,409.0 1182.6,408.6 1182.8,408.0 1183.0,407.5 1183.2,407.0 1183.3,406.6 1183.5,406.0 1183.7,405.5 1183.9,405.0 1184.1,404.6 1184.2,404.1 1184.4,403.5 1184.6,403.0 1184.8,402.5 1185.0,402.1 1185.2,401.6 1185.4,401.1 1185.6,400.6 1185.8,400.1 1186.0,399.7 1186.2,399.2 1186.4,398.7 1186.6,398.2 1186.9,397.8 1187.1,397.3 1187.3,396.9 1187.5,396.4 1187.8,395.9 1188.0,395.5 1188.2,395.0 1188.4,394.6 1188.7,394.1 1188.9,393.7 1189.2,393.2 1189.4,392.8 1189.6,392.3 1189.9,391.8 1190.1,391.4 1190.4,390.9 1190.7,390.5 1190.9,390.0 1191.2,389.6 1191.4,389.1 1191.7,388.7 1191.9,388.2 1192.2,387.8 1192.4,387.3 1192.7,386.9 1192.9,386.5 1193.2,386.0 1193.4,385.6 1193.7,385.1 1193.9,384.7 1194.2,384.3 1194.4,383.8 1194.7,383.4 1194.9,382.9 1195.2,382.5 1195.4,382.1 1195.7,381.6 1195.9,381.2 1196.2,380.7 1196.4,380.3 1196.6,379.9 1196.9,379.4 1197.1,378.9 1197.4,378.5 1197.6,378.0 1197.9,377.6 1198.1,377.1 1198.3,376.7 1198.5,376.2 1198.8,375.8 1199.0,375.3 1199.2,374.8 1199.5,374.4 1199.7,373.9 1199.9,373.5 1200.2,373.0 1200.4,372.5 1200.6,372.1 1200.8,371.6 1201.1,371.2 1201.3,370.7 1201.5,370.2 1201.8,369.8 1202.0,369.3 1202.2,368.9 1202.5,368.4 1202.7,367.9 1202.9,367.4 1203.1,367.0 1203.4,366.5 1203.6,366.1 1203.8,365.6 1204.1,365.2 1204.3,364.7 1204.5,364.2 1204.7,363.8 1205.0,363.3 1205.2,362.9 1205.4,362.4 1205.7,362.0 1205.9,361.5 1206.2,361.0 1206.4,360.5 1206.7,360.0 1206.9,359.6 1207.2,359.1 1207.4,358.6 1207.7,358.2 1207.9,357.7 1208.2,357.2 1208.5,356.8 1208.7,356.3 1209.0,355.9 1209.2,355.5 1209.5,355.0 1209.8,354.6 1210.0,354.1 1210.3,353.7 1210.6,353.3 1210.8,352.8 1211.1,352.4 1211.4,352.0 1211.7,351.6 1212.0,351.2 1212.2,350.7 1212.5,350.3 1212.8,349.9 1213.1,349.5 1213.4,349.0 1213.7,348.6 1214.0,348.2 1214.3,347.8 1214.6,347.4 1215.0,346.9 1215.3,346.5 1215.6,346.1 1215.9,345.7 1216.3,345.2 1216.6,344.8 1216.9,344.4 1217.3,344.0 1217.6,343.6 1217.9,343.2 1218.2,342.8 1218.5,342.4 1218.8,342.0 1219.2,341.5 1219.5,341.1 1219.9,340.7 1220.2,340.3 1220.5,339.9 1220.8,339.5 1221.2,339.0 1221.5,338.6 1221.9,338.2 1222.2,337.8 1222.5,337.4 1222.8,336.9 1223.1,336.5 1223.4,336.1 1223.8,335.7 1224.1,335.3 1224.4,334.9 1224.7,334.4 1225.0,334.0 1225.4,333.6 1225.7,333.2 1226.0,332.7 1226.4,332.3 1226.7,331.8 1227.1,331.4 1227.4,330.9 1227.9,330.4 1228.3,329.8 1228.7,329.4 1229.1,329.0 1229.4,328.5 1229.9,328.0 1230.2,327.6 1230.6,327.2 1231.0,326.9 1231.5,326.4 1231.8,326.0 1232.3,325.6 1232.7,325.2 1233.1,324.9 1233.5,324.5 1233.9,324.2 1234.3,323.8 1234.7,323.5 1235.2,323.2 1235.7,322.8 1236.4,322.3 1236.8,322.0 1237.2,321.6 1237.7,321.3 1238.4,320.9 1238.9,320.5 1239.4,320.2 1240.0,319.8 1240.5,319.6 1240.9,319.3 1241.4,319.0 1241.9,318.8 1242.3,318.5 1242.8,318.3 1243.3,318.1 1243.8,317.8 1244.2,317.6 1244.8,317.3 1245.3,317.1 1245.7,316.9 1246.3,316.6 1246.9,316.4 1247.5,316.1 1247.9,315.9 1248.5,315.7 1249.0,315.5 1249.6,315.3 1250.2,315.0 1250.8,314.8 1251.3,314.6 1251.9,314.4 1252.9,314.1 1253.4,313.9 1254.0,313.7 1254.5,313.5 1255.0,313.4 1255.5,313.2 1256.0,313.0 1256.5,312.8 1257.0,312.6 1257.6,312.4 1258.5,312.1 1259.0,312.0 1259.5,311.8 1260.0,311.7 1260.7,311.5 1261.2,311.3 1262.0,311.1 1262.7,311.0 1263.3,310.8 1263.9,310.7 1264.5,310.7 1265.2,310.6 1266.5,310.6 1267.2,310.6 1267.8,310.6 1268.4,310.6 1269.0,310.6 1269.5,310.6 1270.1,310.6 1270.7,310.6 1271.4,310.6 1272.6,310.6 1273.1,310.6 1273.7,310.6 1274.2,310.7 1274.8,310.7 1275.3,310.7 1276.5,310.7 1277.3,310.7 1277.9,310.7 1278.7,310.8 1279.6,310.8 1281.0,311.0 1281.7,311.1 1283.1,311.5 1284.4,311.9 1284.9,312.1 1285.9,312.5 1286.8,312.9 1287.8,313.3 1288.9,313.9 1289.7,314.3 1290.4,314.7 1292.5,315.8 1293.0,316.1 1294.5,316.9 1296.1,317.8 1299.4,319.4 1300.4,319.8 1301.6,320.4 1302.2,320.7 1303.1,321.1 1303.7,321.4 1305.1,322.0 1307.0,322.9 1307.6,323.3 1312.6,325.7 1315.4,327.1 1315.9,327.3 1318.2,328.5 1321.0,329.9 1322.2,330.5 1324.0,331.3 1326.4,332.5 1327.9,333.3 1332.2,335.6 1333.0,336.1 1334.5,336.9 1335.3,337.3 1336.4,337.8 1338.2,338.8 1339.6,339.5 1342.5,340.8 1344.2,341.5 1345.5,342.0 1346.1,342.3 1348.8,343.1 1350.6,343.6 1361.3,345.9 1376.6,353.9 1381.7,355.9 1384.3,356.6 1395.1,357.8 1396.4,357.9 1410.4,358.9 1441.1,354.1 1441.7,354.0 1483.2,344.6 1489.6,343.5 1495.3,342.7 1513.2,342.7 1529.1,346.2 1563.6,365.2 1973.5,727.8" fill="none" stroke="none" marker-start="url(#mbl)" marker-mid="url(#mbl)" marker-end="url(#mbl)"/>
<polyline points="159.8,1586.2 160.5,1583.3 160.8,1582.1 161.1,1580.9 161.6,1578.9 161.7,1578.2 161.9,1577.5 162.1,1576.8 162.3,1576.1 162.4,1575.4 162.7,1574.2 162.9,1573.4 163.1,1572.8 163.2,1572.2 163.4,1571.3 163.6,1570.6 163.8,1569.9 163.9,1569.3 164.1,1568.5 164.2,1567.9 164.4,1567.3 164.5,1566.6 164.7,1566.0 164.8,1565.4 165.0,1564.7 165.1,1564.0 165.3,1563.3 165.4,1562.7 165.6,1562.1 165.7,1561.5 165.8,1560.9 165.9,1560.3 166.1,1559.7 166.2,1559.1 166.3,1558.5 166.4,1557.9 166.6,1557.2 166.7,1556.6 166.8,1556.0 166.9,1555.4 167.1,1554.7 167.2,1554.1 167.3,1553.5 167.4,1552.8 167.6,1552.2 167.7,1551.6 167.8,1550.9 167.9,1550.3 168.0,1549.7 168.1,1549.1 168.2,1548.5 168.3,1547.9 168.5,1547.2 168.6,1546.5 168.7,1545.9 168.8,1545.3 168.9,1544.7 169.0,1544.0 169.1,1543.4 169.2,1542.8 169.4,1542.0 169.5,1541.3 169.6,1540.7 169.7,1540.2 169.8,1539.5 169.9,1538.9 170.0,1538.3 170.1,1537.7 170.2,1537.1 170.3,1536.4 170.5,1535.7 170.6,1535.1 170.7,1534.5 170.8,1533.9 170.9,1533.3 171.0,1532.7 171.1,1532.1 171.2,1531.4 171.3,1530.8 171.4,1530.1 171.5,1529.5 171.6,1528.9 171.7,1528.3 171.8,1527.6 171.9,1527.0 172.0,1526.4 172.1,1525.7 172.2,1525.1 172.4,1524.4 172.5,1523.8 172.6,1523.2 172.7,1522.6 172.8,1521.9 172.9,1521.3 173.0,1520.6 173.1,1520.0 173.2,1519.4 173.3,1518.8 173.4,1518.2 173.5,1517.6 173.6,1517.0 173.7,1516.3 173.8,1515.7 173.9,1515.1 174.0,1514.4 174.2,1513.8 174.3,1513.2 174.4,1512.6 174.5,1511.9 174.6,1511.3 174.7,1510.7 174.8,1509.9 174.9,1509.2 175.1,1508.6 175.2,1507.9 175.3,1507.3 175.4,1506.7 175.5,1506.1 175.6,1505.5 175.7,1504.8 175.9,1504.1 176.0,1503.5 176.1,1502.9 176.2,1502.3 176.3,1501.7 176.4,1501.0 176.5,1500.4 176.6,1499.8 176.7,1499.2 176.9,1498.6 177.0,1498.0 177.1,1497.3 177.2,1496.7 177.3,1496.1 177.4,1495.5 177.5,1494.9 177.6,1494.3 177.7,1493.6 177.8,1493.0 177.9,1492.4 178.0,1491.8 178.2,1491.2 178.3,1490.6 178.4,1490.0 178.5,1489.3 178.6,1488.7 178.7,1488.1 178.8,1487.5 178.9,1486.9 179.0,1486.3 179.1,1485.7 179.3,1485.1 179.4,1484.4 179.5,1483.8 179.6,1483.2 179.7,1482.6 179.8,1482.0 179.9,1481.3 180.0,1480.7 180.2,1480.0 180.3,1479.4 180.4,1478.8 180.5,1478.2 180.6,1477.6 180.7,1477.0 180.8,1476.4 180.9,1475.7 181.1,1475.1 181.2,1474.5 181.3,1473.9 181.4,1473.3 181.5,1472.7 181.6,1472.1 181.8,1471.4 181.9,1470.8 182.0,1470.2 182.1,1469.5 182.2,1468.9 182.3,1468.3 182.5,1467.7 182.6,1467.1 182.7,1466.4 182.8,1465.8 182.9,1465.2 183.0,1464.6 183.2,1463.9 183.3,1463.3 183.4,1462.7 183.5,1462.1 183.7,1461.4 183.8,1460.8 183.9,1460.2 184.0,1459.6 184.2,1458.9 184.3,1458.3 184.4,1457.7 184.5,1457.0 184.7,1456.4 184.8,1455.8 184.9,1455.2 185.0,1454.5 185.2,1453.9 185.3,1453.2 185.4,1452.6 185.6,1451.9 185.7,1451.3 185.8,1450.7 186.0,1450.0 186.1,1449.3 186.2,1448.7 186.3,1448.1 186.5,1447.5 186.6,1446.9 186.7,1446.2 186.9,1445.6 187.0,1444.9 187.1,1444.3 187.3,1443.7 187.4,1443.0 187.5,1442.4 187.7,1441.8 187.8,1441.2 187.9,1440.6 188.0,1440.0 188.2,1439.3 188.3,1438.7 188.5,1438.1 188.6,1437.5 188.7,1436.9 188.9,1436.2 189.0,1435.5 189.1,1434.9 189.3,1434.3 189.4,1433.7 189.6,1432.9 189.7,1432.1 189.9,1431.5 190.0,1430.9 190.1,1430.3 190.3,1429.5 190.4,1428.9 190.6,1428.4 190.7,1427.7 190.8,1427.1 191.0,1426.5 191.1,1425.9 191.2,1425.3 191.4,1424.7 191.5,1424.1 191.6,1423.5 191.8,1422.9 191.9,1422.3 192.0,1421.7 192.2,1421.0 192.3,1420.3 192.5,1419.7 192.6,1419.0 192.8,1418.4 192.9,1417.7 193.1,1417.0 193.2,1416.4 193.4,1415.8 193.5,1415.1 193.7,1414.5 193.8,1413.8 193.9,1413.2 194.1,1412.6 194.2,1412.0 194.4,1411.4 194.5,1410.7 194.6,1410.2 194.8,1409.6 194.9,1408.9 195.1,1408.2 195.2,1407.7 195.3,1407.1 195.5,1406.5 195.6,1405.8 195.8,1405.1 195.9,1404.5 196.1,1403.9 196.2,1403.3 196.4,1402.6 196.5,1402.0 196.7,1401.4 196.8,1400.8 196.9,1400.2 197.1,1399.6 197.2,1399.0 197.4,1398.3 197.5,1397.7 197.7,1397.0 197.8,1396.4 198.0,1395.7 198.1,1395.1 198.3,1394.4 198.4,1393.7 198.6,1393.1 198.8,1392.3 198.9,1391.7 199.1,1391.1 199.2,1390.5 199.4,1389.7 199.6,1389.1 199.7,1388.3 199.9,1387.7 200.0,1387.1 200.2,1386.5 200.4,1385.8 200.5,1385.1 200.7,1384.5 200.9,1383.8 201.0,1383.2 201.2,1382.6 201.3,1381.9 201.5,1381.2 201.7,1380.5 201.8,1379.9 202.0,1379.3 202.2,1378.6 202.3,1377.9 202.5,1377.1 202.7,1376.5 202.9,1375.9 203.0,1375.3 203.2,1374.7 203.3,1374.1 203.5,1373.5 203.6,1372.8 203.8,1372.2 204.0,1371.6 204.1,1371.0 204.3,1370.3 204.5,1369.7 204.7,1369.0 204.9,1368.2 205.0,1367.6 205.2,1366.9 205.5,1365.9 205.7,1365.2 205.9,1364.5 206.0,1363.8 206.2,1363.2 206.3,1362.6 206.5,1362.0 206.7,1361.4 206.8,1360.7 207.0,1360.1 207.2,1359.4 207.4,1358.8 207.5,1358.1 207.8,1357.3 207.9,1356.7 208.1,1356.0 208.3,1355.3 208.5,1354.7 208.6,1354.0 208.8,1353.3 209.1,1352.4 209.2,1351.7 209.5,1351.0 209.7,1350.1 209.9,1349.5 210.1,1348.7 210.3,1348.1 210.4,1347.4 210.7,1346.4 210.9,1345.8 211.2,1344.8 211.4,1344.1 211.5,1343.5 211.7,1342.8 211.9,1342.1 212.1,1341.5 212.4,1340.7 212.6,1340.0 212.8,1339.4 212.9,1338.8 213.2,1338.0 213.3,1337.4 213.6,1336.7 213.7,1336.1 213.9,1335.6 214.1,1334.9 214.3,1334.3 214.6,1333.3 215.0,1332.3 215.2,1331.7 215.4,1331.1 215.6,1330.5 215.8,1329.8 216.0,1329.2 216.3,1328.6 216.5,1327.9 216.7,1327.3 217.0,1326.7 217.2,1326.1 217.4,1325.4 217.7,1324.8 217.9,1324.2 218.2,1323.6 218.5,1322.6 218.8,1322.0 219.2,1321.0 219.5,1320.4 219.7,1319.8 219.9,1319.2 220.3,1318.3 220.6,1317.7 220.8,1317.1 221.3,1316.1 221.5,1315.5 221.8,1314.9 222.1,1314.1 222.4,1313.5 222.6,1312.9 223.1,1311.8 223.4,1311.2 223.7,1310.7 224.0,1310.0 224.2,1309.4 224.5,1308.8 224.9,1308.0 225.2,1307.4 225.5,1306.7 225.9,1306.0 226.2,1305.3 226.5,1304.8 226.8,1304.1 227.1,1303.5 227.4,1303.0 227.7,1302.4 228.0,1301.8 228.5,1300.8 228.8,1300.2 229.1,1299.6 229.6,1298.8 229.9,1298.2 230.2,1297.7 230.6,1296.9 231.0,1296.2 231.4,1295.6 231.7,1295.0 232.0,1294.5 232.5,1293.7 232.8,1293.1 233.2,1292.4 233.7,1291.7 234.1,1291.0 234.5,1290.4 235.2,1289.4 235.7,1288.6 236.3,1287.8 236.6,1287.2 237.1,1286.6 237.4,1286.1 237.8,1285.6 238.2,1284.9 238.7,1284.1 239.1,1283.6 239.5,1282.9 239.9,1282.4 240.4,1281.5 240.8,1281.0 241.3,1280.1 241.8,1279.3 242.3,1278.6 242.7,1278.1 243.1,1277.4 243.5,1276.8 243.9,1276.3 244.2,1275.8 244.8,1274.9 245.2,1274.4 245.6,1273.9 246.1,1273.2 246.6,1272.6 247.3,1271.7 248.0,1271.0 249.4,1269.6 250.1,1269.1 250.6,1268.6 251.2,1268.3 251.9,1267.9 252.4,1267.7 253.1,1267.5 254.0,1267.4 255.4,1267.5 256.3,1267.7 257.1,1268.0 257.6,1268.2 258.2,1268.5 259.3,1269.2 260.2,1269.8 260.7,1270.2 261.5,1270.8 262.5,1271.6 263.9,1272.9 264.5,1273.5 266.0,1274.8 267.2,1276.0 267.8,1276.4 268.8,1277.3 269.6,1278.0 270.6,1278.8 271.8,1279.8 272.5,1280.5 273.3,1281.2 275.3,1283.1 275.8,1283.6 277.4,1285.2 278.9,1286.7 282.2,1290.3 283.2,1291.4 284.5,1292.7 285.1,1293.5 285.9,1294.4 286.5,1295.1 287.9,1296.7 289.8,1299.0 290.5,1299.8 295.4,1306.5 298.3,1310.7 298.7,1311.4 301.0,1314.6 303.8,1318.4 305.1,1320.0 306.9,1322.2 309.2,1325.0 310.7,1326.8 315.0,1331.6 315.9,1332.6 317.4,1334.1 318.1,1334.9 319.3,1336.0 321.1,1337.9 322.5,1339.3 325.4,1342.2 327.1,1343.7 328.3,1344.9 329.0,1345.4 331.7,1347.6 333.5,1348.8 344.2,1354.3 359.5,1357.6 364.6,1357.1 367.1,1356.5 378.0,1352.3 379.3,1351.7 393.3,1342.6 423.9,1314.2 424.6,1313.6 466.0,1274.6 472.4,1269.8 478.2,1267.1 496.0,1259.0 512.0,1256.2 546.4,1258.8 956.3,1649.0" fill="none" stroke="none" marker-start="url(#mr)" marker-mid="url(#mr)" marker-end="url(#mr)"/>
<polyline points="159.8,1098.0 160.5,1655.1 160.8,1098.0 161.1,1655.1 161.7,1655.1 161.8,1098.0 162.4,1655.1 162.5,1098.0 163.0,1655.1 163.2,1098.0 163.6,1655.1 163.9,1098.0 164.2,1655.1 164.6,1098.0 164.9,1655.1 165.3,1098.0 165.5,1655.1 165.9,1098.0 166.1,1655.1 166.6,1098.0 166.7,1655.1 167.3,1098.0 167.3,1655.1 167.9,1098.0 167.9,1655.1 168.5,1098.0 168.5,1655.1 169.1,1098.0 169.1,1655.1 169.7,1098.0 169.7,1655.1 170.3,1098.0 170.3,1655.1 170.9,1098.0 170.9,1655.1 171.5,1098.0 171.6,1655.1 172.1,1098.0 172.2,1655.1 172.8,1098.0 172.8,1655.1 173.4,1098.0 173.4,1655.1 174.0,1098.0 174.0,1655.1 174.6,1098.0 174.6,1655.1 175.2,1655.1 175.2,1098.0 175.8,1655.1 175.8,1098.0 176.4,1655.1 176.4,1098.0 177.0,1655.1 177.1,1098.0 177.6,1655.1 177.7,1098.0 178.2,1655.1 178.3,1098.0 178.8,1655.1 178.9,1098.0 179.4,1655.1 179.6,1098.0 180.0,1655.1 180.2,1098.0 180.6,1655.1 180.8,1098.0 181.2,1655.1 181.5,1098.0 181.8,1655.1 182.1,1098.0 182.4,1655.1 182.8,1098.0 183.1,1655.1 183.4,1098.0 183.7,1655.1 184.0,1098.0 184.3,1655.1 184.7,1098.0 184.9,1655.1 185.3,1098.0 185.5,1655.1 185.9,1098.0 186.1,1655.1 186.5,1098.0 186.7,1655.1 187.2,1098.0 187.4,1655.1 187.8,1098.0 188.0,1655.1 188.4,1098.0 188.6,1655.1 189.0,1098.0 189.2,1655.1 189.6,1098.0 189.8,1655.1 190.2,1098.0 190.4,1655.1 190.9,1098.0 191.0,1655.1 191.5,1098.0 191.6,1655.1 192.2,1098.0 192.3,1655.1 192.8,1098.0 192.9,1655.1 193.5,1098.0 193.5,1655.1 194.1,1098.0 194.1,1655.1 194.7,1655.1 194.7,1098.0 195.3,1098.0 195.4,1655.1 196.0,1655.1 196.0,1098.0 196.6,1098.0 196.6,1655.1 197.2,1655.1 197.3,1098.0 197.8,1655.1 197.9,1098.0 198.4,1655.1 198.6,1098.0 199.1,1655.1 199.2,1098.0 199.8,1655.1 199.9,1098.0 200.4,1655.1 200.5,1098.0 201.0,1655.1 201.1,1098.0 201.6,1655.1 201.7,1098.0 202.2,1655.1 202.3,1098.0 202.9,1655.1 203.0,1098.0 203.5,1655.1 203.6,1098.0 204.1,1655.1 204.2,1098.0 204.7,1655.1 204.9,1098.0 205.5,1655.1 205.6,1098.0 206.1,1655.1 206.2,1098.0 206.8,1655.1 206.8,1098.0 207.4,1655.1 207.5,1098.0 208.1,1098.0 208.2,1655.1 208.7,1098.0 208.9,1655.1 209.3,1098.0 209.5,1655.1 210.1,1655.1 210.1,1098.0 210.7,1655.1 210.7,1098.0 211.4,1098.0 211.4,1655.1 212.0,1655.1 212.0,1098.0 212.7,1098.0 212.8,1655.1 213.3,1098.0 213.5,1655.1 214.0,1098.0 214.4,1655.1 214.6,1098.0 215.1,1655.1 215.3,1098.0 215.8,1655.1 215.9,1098.0 216.5,1098.0 216.6,1655.1 217.1,1098.0 217.2,1655.1 217.9,1098.0 218.0,1655.1 218.6,1098.0 218.6,1655.1 219.2,1098.0 219.3,1655.1 219.9,1655.1 219.9,1098.0 220.6,1098.0 220.6,1655.1 221.3,1098.0 221.5,1655.1 222.1,1098.0 222.3,1655.1 222.9,1098.0 223.1,1655.1 223.5,1098.0 223.8,1655.1 224.1,1098.0 224.6,1655.1 224.7,1098.0 225.3,1655.1 225.5,1098.0 225.9,1655.1 226.2,1098.0 226.9,1655.1 226.9,1098.0 227.5,1098.0 227.7,1655.1 228.2,1098.0 228.5,1655.1 228.8,1098.0 229.6,1655.1 229.6,1098.0 230.2,1098.0 230.6,1655.1 231.0,1098.0 231.6,1655.1 231.7,1098.0 232.5,1098.0 232.8,1655.1 233.2,1098.0 233.5,1655.1 234.1,1655.1 234.2,1098.0 234.8,1098.0 235.7,1098.0 235.8,1655.1 236.6,1098.0 237.1,1655.1 237.2,1098.0 237.9,1098.0 238.7,1098.0 239.2,1655.1 239.3,1098.0 239.9,1655.1 240.1,1098.0 240.7,1098.0 240.8,1655.1 241.5,1098.0 241.6,1655.1 242.3,1098.0 242.3,1655.1 242.9,1098.0 243.1,1655.1 243.5,1098.0 243.8,1655.1 244.2,1098.0 245.0,1098.0 245.7,1098.0 246.4,1098.0 247.3,1098.0 247.6,1655.1 248.0,1098.0 248.2,1655.1 249.4,1655.1 250.1,1098.0 250.3,1655.1 251.1,1655.1 251.2,1098.0 251.9,1098.0 252.0,1655.1 252.5,1098.0 253.2,1098.0 253.5,1655.1 254.2,1098.0 254.4,1655.1 255.4,1098.0 255.8,1655.1 256.3,1098.0 256.7,1655.1 257.6,1098.0 258.2,1655.1 258.3,1098.0 259.3,1098.0 260.2,1655.1 261.5,1098.0 261.7,1655.1 262.5,1655.1 263.9,1098.0 264.5,1655.1 264.7,1098.0 266.0,1655.1 266.0,1098.0 267.2,1098.0 267.8,1655.1 268.8,1098.0 269.6,1655.1 269.8,1098.0 270.6,1098.0 271.8,1655.1 272.1,1098.0 272.7,1098.0 272.8,1655.1 273.3,1098.0 275.3,1098.0 275.8,1655.1 277.4,1098.0 278.9,1098.0 279.0,1655.1 282.2,1098.0 283.2,1098.0 284.5,1098.0 285.1,1098.0 285.9,1098.0 286.5,1098.0 287.9,1098.0 289.8,1655.1 290.5,1098.0 295.4,1098.0 298.3,1098.0 298.7,1655.1 301.0,1655.1 301.4,1098.0 303.8,1655.1 305.1,1098.0 306.9,1098.0 309.2,1098.0 310.7,1655.1 315.0,1098.0 315.9,1098.0 317.4,1098.0 318.1,1098.0 319.3,1098.0 321.1,1098.0 322.5,1098.0 325.4,1098.0 327.1,1098.0 328.3,1098.0 329.0,1098.0 331.7,1098.0 333.5,1098.0 332.0,1655.1 344.2,1098.0 359.5,1655.1 364.6,1655.1 367.1,1098.0 378.0,1098.0 379.3,1655.1 393.3,1655.1 423.9,1655.1 424.6,1098.0 466.0,1098.0 472.4,1098.0 478.2,1098.0 496.0,1098.0 512.0,1098.0 546.4,1655.1 956.3,1655.1" fill="none" stroke="none" marker-start="url(#mb)" marker-mid="url(#mb)" marker-end="url(#mb)"/>
<polyline points="1176.9,1600.0 1177.6,1597.4 1177.9,1596.3 1178.2,1595.2 1178.7,1593.5 1178.9,1592.8 1179.1,1592.2 1179.2,1591.6 1179.4,1591.0 1179.6,1590.3 1179.9,1589.2 1180.1,1588.5 1180.3,1587.8 1180.4,1587.2 1180.6,1586.6 1180.8,1585.9 1181.0,1585.1 1181.2,1584.5 1181.3,1583.9 1181.5,1583.3 1181.7,1582.7 1181.8,1582.0 1182.0,1581.4 1182.1,1580.8 1182.3,1580.0 1182.5,1579.4 1182.6,1578.7 1182.8,1578.1 1182.9,1577.5 1183.1,1576.9 1183.2,1576.3 1183.4,1575.7 1183.5,1575.0 1183.7,1574.3 1183.8,1573.7 1183.9,1573.1 1184.1,1572.5 1184.2,1571.9 1184.3,1571.3 1184.5,1570.7 1184.6,1570.0 1184.7,1569.4 1184.9,1568.8 1185.0,1568.2 1185.1,1567.6 1185.3,1566.9 1185.4,1566.3 1185.5,1565.6 1185.6,1565.0 1185.8,1564.5 1185.9,1563.8 1186.0,1563.2 1186.1,1562.6 1186.3,1561.9 1186.4,1561.3 1186.5,1560.5 1186.7,1559.9 1186.8,1559.2 1186.9,1558.6 1187.0,1558.0 1187.1,1557.4 1187.3,1556.8 1187.4,1556.1 1187.5,1555.5 1187.6,1554.9 1187.7,1554.3 1187.9,1553.6 1188.0,1553.0 1188.1,1552.4 1188.2,1551.7 1188.3,1551.0 1188.5,1550.4 1188.6,1549.8 1188.7,1549.2 1188.8,1548.6 1188.9,1548.0 1189.0,1547.3 1189.2,1546.7 1189.3,1546.1 1189.4,1545.5 1189.5,1544.8 1189.6,1544.2 1189.7,1543.6 1189.9,1542.9 1190.0,1542.3 1190.1,1541.7 1190.2,1541.1 1190.3,1540.5 1190.4,1539.9 1190.6,1539.2 1190.7,1538.6 1190.8,1538.0 1190.9,1537.4 1191.0,1536.8 1191.1,1536.2 1191.3,1535.5 1191.4,1534.9 1191.5,1534.3 1191.6,1533.6 1191.8,1533.0 1191.9,1532.4 1192.0,1531.7 1192.1,1531.1 1192.2,1530.5 1192.4,1529.9 1192.5,1529.2 1192.6,1528.6 1192.7,1528.0 1192.9,1527.4 1193.0,1526.8 1193.1,1526.2 1193.2,1525.6 1193.4,1525.0 1193.5,1524.3 1193.6,1523.8 1193.7,1523.2 1193.8,1522.6 1194.0,1521.9 1194.1,1521.3 1194.2,1520.7 1194.3,1520.1 1194.4,1519.5 1194.6,1518.9 1194.7,1518.3 1194.8,1517.6 1194.9,1517.0 1195.1,1516.4 1195.2,1515.8 1195.3,1515.2 1195.4,1514.6 1195.6,1513.9 1195.7,1513.3 1195.8,1512.7 1195.9,1512.1 1196.0,1511.5 1196.2,1510.9 1196.3,1510.3 1196.4,1509.7 1196.5,1509.1 1196.6,1508.5 1196.8,1507.8 1196.9,1507.3 1197.0,1506.7 1197.1,1506.0 1197.3,1505.4 1197.4,1504.8 1197.5,1504.2 1197.6,1503.6 1197.8,1503.0 1197.9,1502.4 1198.0,1501.8 1198.1,1501.2 1198.3,1500.6 1198.4,1499.9 1198.5,1499.3 1198.6,1498.7 1198.8,1498.1 1198.9,1497.5 1199.0,1496.8 1199.2,1496.1 1199.3,1495.5 1199.5,1494.8 1199.6,1494.2 1199.7,1493.6 1199.8,1493.0 1200.0,1492.4 1200.1,1491.8 1200.2,1491.2 1200.4,1490.6 1200.5,1490.0 1200.6,1489.4 1200.8,1488.8 1200.9,1488.2 1201.0,1487.5 1201.2,1486.9 1201.3,1486.3 1201.4,1485.7 1201.6,1485.1 1201.7,1484.5 1201.9,1483.9 1202.0,1483.3 1202.2,1482.4 1202.3,1481.8 1202.5,1481.1 1202.6,1480.5 1202.8,1479.9 1202.9,1479.3 1203.0,1478.7 1203.2,1478.0 1203.4,1477.3 1203.5,1476.7 1203.6,1476.1 1203.8,1475.5 1203.9,1474.9 1204.1,1474.3 1204.2,1473.7 1204.3,1473.1 1204.5,1472.3 1204.7,1471.7 1204.8,1471.1 1204.9,1470.5 1205.1,1469.8 1205.2,1469.3 1205.4,1468.7 1205.5,1468.1 1205.7,1467.5 1205.9,1466.7 1206.0,1466.1 1206.1,1465.5 1206.3,1464.8 1206.4,1464.2 1206.6,1463.7 1206.7,1463.1 1206.9,1462.4 1207.0,1461.8 1207.2,1461.1 1207.4,1460.5 1207.5,1459.9 1207.6,1459.3 1207.8,1458.7 1207.9,1458.1 1208.1,1457.5 1208.2,1456.8 1208.4,1456.2 1208.6,1455.5 1208.7,1454.9 1208.9,1454.3 1209.0,1453.7 1209.2,1453.1 1209.3,1452.5 1209.5,1451.9 1209.6,1451.2 1209.8,1450.6 1210.0,1450.0 1210.1,1449.4 1210.3,1448.8 1210.4,1448.2 1210.6,1447.6 1210.7,1447.0 1210.9,1446.4 1211.0,1445.8 1211.2,1445.1 1211.3,1444.5 1211.5,1443.9 1211.7,1443.3 1211.8,1442.7 1212.0,1442.1 1212.1,1441.5 1212.3,1440.9 1212.4,1440.3 1212.6,1439.7 1212.8,1439.0 1212.9,1438.4 1213.1,1437.8 1213.2,1437.2 1213.4,1436.6 1213.5,1436.0 1213.7,1435.4 1213.9,1434.6 1214.1,1433.9 1214.2,1433.3 1214.4,1432.7 1214.6,1432.1 1214.7,1431.4 1214.9,1430.8 1215.1,1430.1 1215.2,1429.5 1215.4,1428.9 1215.6,1428.3 1215.7,1427.7 1215.9,1427.1 1216.0,1426.5 1216.2,1425.9 1216.4,1425.3 1216.6,1424.6 1216.7,1423.9 1216.9,1423.3 1217.1,1422.7 1217.2,1422.1 1217.4,1421.5 1217.6,1420.9 1217.7,1420.3 1217.9,1419.7 1218.1,1419.1 1218.2,1418.4 1218.4,1417.8 1218.6,1417.1 1218.8,1416.6 1218.9,1416.0 1219.1,1415.4 1219.3,1414.7 1219.4,1414.1 1219.6,1413.5 1219.8,1412.9 1220.0,1412.3 1220.1,1411.7 1220.3,1411.1 1220.5,1410.4 1220.7,1409.8 1220.9,1409.1 1221.1,1408.5 1221.3,1407.9 1221.5,1407.3 1221.6,1406.7 1221.8,1406.1 1222.0,1405.4 1222.2,1404.7 1222.4,1404.1 1222.6,1403.3 1222.8,1402.6 1223.0,1402.0 1223.2,1401.2 1223.4,1400.5 1223.6,1399.9 1223.8,1399.3 1224.0,1398.7 1224.2,1397.8 1224.4,1397.3 1224.6,1396.7 1224.8,1396.0 1225.0,1395.4 1225.1,1394.8 1225.3,1394.1 1225.5,1393.5 1225.7,1392.9 1226.0,1392.1 1226.2,1391.3 1226.4,1390.6 1226.6,1390.0 1226.8,1389.2 1227.1,1388.4 1227.3,1387.7 1227.6,1386.9 1227.9,1385.8 1228.2,1385.0 1228.5,1383.9 1228.7,1383.3 1228.9,1382.7 1229.1,1382.1 1229.3,1381.5 1229.5,1380.8 1229.7,1380.2 1230.0,1379.4 1230.2,1378.7 1230.4,1378.1 1230.7,1377.3 1230.9,1376.7 1231.2,1376.0 1231.5,1375.1 1231.8,1374.2 1232.1,1373.3 1232.3,1372.8 1232.6,1372.2 1232.8,1371.4 1233.1,1370.8 1233.4,1370.1 1233.6,1369.5 1233.9,1368.9 1234.1,1368.2 1234.4,1367.6 1234.6,1367.0 1235.1,1366.0 1235.4,1365.4 1235.7,1364.7 1235.9,1364.1 1236.4,1363.2 1236.6,1362.6 1236.9,1362.0 1237.2,1361.5 1237.5,1360.8 1237.8,1360.1 1238.1,1359.5 1238.4,1358.8 1238.7,1358.2 1239.0,1357.7 1239.3,1357.0 1239.6,1356.4 1240.0,1355.6 1240.3,1355.0 1240.6,1354.5 1240.9,1353.8 1241.3,1353.1 1241.6,1352.4 1242.1,1351.6 1242.4,1350.9 1242.8,1350.3 1243.1,1349.7 1243.4,1349.0 1243.8,1348.5 1244.1,1347.9 1244.4,1347.3 1244.8,1346.6 1245.3,1345.8 1245.6,1345.2 1246.0,1344.7 1246.3,1344.1 1246.7,1343.4 1247.2,1342.6 1247.5,1342.1 1247.9,1341.4 1248.3,1340.9 1248.6,1340.4 1249.0,1339.8 1249.6,1338.8 1250.2,1337.9 1250.7,1337.3 1251.3,1336.5 1251.7,1335.9 1252.3,1335.0 1252.9,1334.3 1253.4,1333.6 1253.8,1333.1 1254.2,1332.5 1254.7,1331.9 1255.1,1331.3 1255.5,1330.8 1255.9,1330.3 1256.4,1329.6 1256.7,1329.1 1257.2,1328.4 1257.6,1327.9 1258.5,1326.7 1259.0,1326.0 1259.4,1325.4 1259.8,1324.9 1260.3,1324.3 1260.7,1323.7 1261.2,1323.0 1262.0,1322.1 1262.7,1321.2 1263.3,1320.5 1263.8,1320.0 1264.5,1319.2 1265.2,1318.5 1266.5,1317.3 1267.2,1316.8 1267.8,1316.5 1268.4,1316.1 1269.0,1315.8 1269.6,1315.6 1270.2,1315.4 1271.1,1315.3 1272.6,1315.4 1273.4,1315.6 1274.2,1315.9 1274.8,1316.1 1275.3,1316.4 1276.5,1317.0 1277.3,1317.5 1277.9,1317.9 1278.7,1318.4 1279.6,1319.1 1281.0,1320.3 1281.7,1320.8 1283.1,1322.0 1284.4,1323.0 1284.9,1323.4 1285.9,1324.2 1286.8,1324.8 1287.8,1325.6 1288.9,1326.4 1289.7,1327.0 1290.4,1327.7 1292.5,1329.4 1293.0,1329.8 1294.5,1331.2 1296.1,1332.6 1299.4,1335.7 1300.4,1336.8 1301.6,1338.0 1302.2,1338.6 1303.1,1339.5 1303.7,1340.1 1305.1,1341.5 1307.0,1343.6 1307.6,1344.2 1312.6,1350.2 1315.4,1354.0 1315.9,1354.6 1318.2,1357.5 1321.0,1360.9 1322.2,1362.3 1324.0,1364.3 1326.4,1366.8 1327.9,1368.4 1332.2,1372.7 1333.0,1373.5 1334.5,1374.9 1335.3,1375.6 1336.4,1376.6 1338.2,1378.3 1339.6,1379.6 1342.5,1382.1 1344.2,1383.5 1345.5,1384.5 1346.1,1385.0 1348.8,1386.9 1350.6,1388.0 1361.3,1392.9 1376.6,1395.9 1381.7,1395.4 1384.3,1394.9 1395.1,1391.2 1396.4,1390.6 1410.4,1382.5 1441.1,1357.1 1441.7,1356.6 1483.2,1321.8 1489.6,1317.5 1495.3,1315.1 1513.2,1307.8 1529.1,1305.4 1563.6,1307.7 1973.5,1656.0" fill="none" stroke="none" marker-start="url(#mr)" marker-mid="url(#mr)" marker-end="url(#mr)"/>
<polyline points="1176.9,1580.6 1177.6,1579.1 1177.9,1578.4 1178.2,1577.8 1178.7,1576.8 1179.0,1576.2 1179.2,1575.6 1179.4,1575.1 1179.6,1574.6 1179.9,1573.9 1180.1,1573.4 1180.3,1572.8 1180.4,1572.3 1180.6,1571.8 1180.8,1571.3 1181.0,1570.6 1181.2,1570.1 1181.3,1569.6 1181.5,1569.1 1181.6,1568.6 1181.8,1568.1 1181.9,1567.6 1182.1,1567.1 1182.2,1566.6 1182.4,1566.2 1182.5,1565.6 1182.7,1565.0 1182.8,1564.5 1183.0,1563.9 1183.2,1563.4 1183.3,1562.9 1183.4,1562.4 1183.6,1561.9 1183.7,1561.4 1183.9,1560.9 1184.0,1560.4 1184.1,1559.9 1184.3,1559.4 1184.4,1558.9 1184.5,1558.4 1184.7,1557.8 1184.8,1557.4 1184.9,1556.8 1185.1,1556.3 1185.2,1555.8 1185.4,1555.3 1185.5,1554.7 1185.7,1554.2 1185.8,1553.6 1186.0,1553.1 1186.1,1552.6 1186.2,1552.1 1186.4,1551.6 1186.5,1551.1 1186.6,1550.6 1186.8,1550.2 1186.9,1549.6 1187.0,1549.1 1187.2,1548.6 1187.3,1548.1 1187.4,1547.6 1187.6,1547.1 1187.7,1546.6 1187.8,1546.2 1188.0,1545.7 1188.1,1545.2 1188.2,1544.7 1188.4,1544.2 1188.5,1543.7 1188.6,1543.2 1188.8,1542.7 1188.9,1542.2 1189.0,1541.6 1189.2,1541.1 1189.3,1540.6 1189.4,1540.1 1189.6,1539.6 1189.7,1539.1 1189.8,1538.6 1189.9,1538.1 1190.1,1537.6 1190.2,1537.1 1190.3,1536.6 1190.5,1536.1 1190.6,1535.6 1190.7,1535.1 1190.8,1534.6 1191.0,1534.1 1191.1,1533.6 1191.2,1533.1 1191.3,1532.6 1191.4,1532.1 1191.6,1531.5 1191.7,1531.0 1191.8,1530.5 1191.9,1530.0 1192.1,1529.5 1192.2,1529.0 1192.3,1528.5 1192.4,1528.0 1192.5,1527.5 1192.7,1527.0 1192.8,1526.5 1192.9,1525.9 1193.1,1525.4 1193.2,1524.9 1193.3,1524.3 1193.4,1523.8 1193.5,1523.3 1193.6,1522.8 1193.8,1522.3 1193.9,1521.7 1194.0,1521.2 1194.1,1520.8 1194.2,1520.2 1194.4,1519.7 1194.5,1519.2 1194.6,1518.7 1194.7,1518.2 1194.8,1517.7 1194.9,1517.2 1195.0,1516.7 1195.1,1516.2 1195.3,1515.7 1195.4,1515.2 1195.5,1514.7 1195.6,1514.2 1195.7,1513.7 1195.8,1513.2 1195.9,1512.7 1196.0,1512.2 1196.2,1511.7 1196.3,1511.1 1196.4,1510.6 1196.5,1510.1 1196.6,1509.6 1196.7,1509.1 1196.8,1508.6 1196.9,1508.1 1197.1,1507.5 1197.2,1507.0 1197.3,1506.5 1197.4,1506.0 1197.5,1505.5 1197.6,1505.0 1197.7,1504.5 1197.8,1504.0 1198.0,1503.4 1198.1,1502.9 1198.2,1502.4 1198.3,1501.9 1198.4,1501.4 1198.5,1500.9 1198.6,1500.4 1198.7,1499.8 1198.8,1499.3 1198.9,1498.8 1199.1,1498.3 1199.2,1497.8 1199.3,1497.3 1199.4,1496.8 1199.5,1496.3 1199.6,1495.8 1199.7,1495.3 1199.8,1494.8 1199.9,1494.3 1200.0,1493.8 1200.1,1493.2 1200.2,1492.7 1200.3,1492.2 1200.5,1491.6 1200.6,1491.0 1200.7,1490.5 1200.8,1489.9 1200.9,1489.4 1201.0,1488.9 1201.2,1488.3 1201.3,1487.8 1201.4,1487.3 1201.5,1486.7 1201.6,1486.2 1201.7,1485.7 1201.8,1485.2 1201.9,1484.7 1202.0,1484.1 1202.2,1483.4 1202.3,1482.8 1202.5,1482.2 1202.6,1481.7 1202.7,1481.2 1202.8,1480.6 1202.9,1480.1 1203.0,1479.6 1203.1,1479.1 1203.2,1478.5 1203.4,1477.9 1203.5,1477.3 1203.6,1476.7 1203.7,1476.2 1203.8,1475.7 1203.9,1475.1 1204.0,1474.6 1204.2,1474.1 1204.3,1473.6 1204.4,1473.1 1204.5,1472.6 1204.6,1472.1 1204.7,1471.5 1204.8,1471.0 1204.9,1470.5 1205.0,1469.9 1205.1,1469.5 1205.2,1468.9 1205.3,1468.4 1205.4,1467.9 1205.6,1467.4 1205.7,1466.9 1205.8,1466.4 1205.9,1465.9 1206.0,1465.2 1206.1,1464.7 1206.2,1464.2 1206.3,1463.7 1206.4,1463.2 1206.5,1462.7 1206.6,1462.2 1206.8,1461.4 1206.9,1460.8 1207.0,1460.3 1207.1,1459.8 1207.2,1459.2 1207.3,1458.7 1207.4,1458.2 1207.6,1457.6 1207.7,1457.1 1207.8,1456.6 1207.9,1456.0 1208.0,1455.5 1208.1,1455.0 1208.2,1454.5 1208.3,1453.9 1208.4,1453.5 1208.5,1453.0 1208.6,1452.5 1208.7,1451.9 1208.8,1451.4 1208.9,1450.9 1209.0,1450.4 1209.1,1449.9 1209.2,1449.4 1209.3,1448.8 1209.4,1448.3 1209.5,1447.8 1209.6,1447.2 1209.7,1446.7 1209.8,1446.1 1210.0,1445.5 1210.1,1444.9 1210.2,1444.4 1210.3,1443.8 1210.4,1443.3 1210.5,1442.7 1210.6,1442.2 1210.7,1441.6 1210.8,1441.1 1210.9,1440.5 1211.1,1440.0 1211.2,1439.4 1211.3,1438.9 1211.4,1438.4 1211.5,1437.8 1211.6,1437.4 1211.7,1436.9 1211.8,1436.3 1211.9,1435.8 1212.0,1435.3 1212.1,1434.7 1212.2,1434.1 1212.3,1433.5 1212.4,1433.0 1212.5,1432.5 1212.6,1432.0 1212.7,1431.5 1212.8,1431.0 1212.9,1430.5 1213.1,1430.0 1213.2,1429.4 1213.3,1428.8 1213.4,1428.3 1213.5,1427.8 1213.6,1427.1 1213.8,1426.4 1213.9,1425.8 1214.0,1425.2 1214.2,1424.5 1214.3,1424.0 1214.4,1423.5 1214.5,1423.0 1214.6,1422.4 1214.7,1421.7 1214.8,1421.2 1215.0,1420.6 1215.1,1420.1 1215.2,1419.6 1215.3,1419.1 1215.4,1418.6 1215.5,1418.1 1215.6,1417.6 1215.7,1417.0 1215.9,1416.4 1216.0,1415.9 1216.1,1415.4 1216.2,1414.9 1216.3,1414.4 1216.5,1413.7 1216.6,1413.2 1216.7,1412.7 1216.8,1412.0 1217.0,1411.4 1217.1,1410.9 1217.2,1410.3 1217.3,1409.8 1217.5,1409.2 1217.6,1408.7 1217.7,1408.1 1217.8,1407.5 1217.9,1407.1 1218.1,1406.6 1218.2,1406.1 1218.3,1405.5 1218.4,1405.0 1218.6,1404.4 1218.7,1403.8 1218.8,1403.3 1219.0,1402.6 1219.1,1402.1 1219.2,1401.6 1219.4,1401.0 1219.5,1400.5 1219.6,1399.9 1219.8,1399.4 1219.9,1398.8 1220.0,1398.3 1220.1,1397.8 1220.3,1397.2 1220.4,1396.7 1220.5,1396.1 1220.7,1395.5 1220.8,1395.0 1220.9,1394.5 1221.1,1393.9 1221.2,1393.3 1221.4,1392.5 1221.5,1392.0 1221.7,1391.3 1221.8,1390.8 1221.9,1390.3 1222.1,1389.7 1222.2,1389.2 1222.4,1388.5 1222.5,1388.1 1222.6,1387.5 1222.8,1386.9 1222.9,1386.4 1223.0,1385.9 1223.2,1385.3 1223.3,1384.8 1223.4,1384.3 1223.6,1383.7 1223.7,1383.2 1223.9,1382.5 1224.0,1381.9 1224.2,1381.4 1224.3,1380.9 1224.4,1380.3 1224.6,1379.8 1224.7,1379.3 1224.8,1378.8 1225.0,1378.3 1225.1,1377.7 1225.2,1377.2 1225.4,1376.5 1225.6,1375.8 1225.8,1375.3 1225.9,1374.8 1226.0,1374.3 1226.2,1373.6 1226.4,1373.0 1226.5,1372.4 1226.7,1371.9 1226.8,1371.2 1227.0,1370.7 1227.1,1370.1 1227.3,1369.7 1227.4,1369.1 1227.6,1368.6 1227.7,1368.1 1227.9,1367.4 1228.0,1366.9 1228.2,1366.4 1228.3,1365.8 1228.5,1365.1 1228.7,1364.5 1228.9,1363.8 1229.1,1363.2 1229.2,1362.7 1229.4,1362.1 1229.5,1361.6 1229.7,1361.1 1229.9,1360.3 1230.1,1359.6 1230.3,1358.8 1230.5,1358.3 1230.6,1357.8 1230.8,1357.3 1230.9,1356.8 1231.1,1356.3 1231.2,1355.7 1231.5,1354.9 1231.6,1354.4 1231.8,1353.8 1231.9,1353.3 1232.1,1352.8 1232.3,1352.2 1232.5,1351.6 1232.6,1351.0 1232.8,1350.4 1233.0,1349.9 1233.1,1349.3 1233.4,1348.6 1233.5,1348.1 1233.7,1347.5 1233.9,1347.0 1234.1,1346.2 1234.3,1345.6 1234.6,1344.8 1234.7,1344.2 1235.1,1343.1 1235.3,1342.5 1235.5,1341.8 1235.7,1341.1 1235.9,1340.6 1236.0,1340.0 1236.4,1339.1 1236.6,1338.5 1236.7,1337.9 1236.9,1337.4 1237.1,1336.9 1237.2,1336.4 1237.5,1335.6 1237.7,1334.9 1237.9,1334.4 1238.1,1333.9 1238.4,1332.9 1238.6,1332.2 1238.9,1331.4 1239.3,1330.4 1239.5,1329.9 1239.7,1329.2 1240.0,1328.4 1240.3,1327.6 1240.5,1327.0 1240.7,1326.3 1240.9,1325.8 1241.3,1325.0 1241.5,1324.4 1241.7,1323.8 1241.9,1323.3 1242.1,1322.8 1242.3,1322.2 1242.5,1321.7 1242.8,1321.1 1243.0,1320.5 1243.3,1319.9 1243.4,1319.5 1243.8,1318.7 1244.0,1318.1 1244.2,1317.6 1244.5,1316.9 1244.8,1316.2 1245.1,1315.6 1245.3,1315.1 1245.6,1314.3 1245.8,1313.8 1246.1,1313.1 1246.5,1312.2 1246.8,1311.7 1247.0,1311.2 1247.2,1310.7 1247.5,1310.1 1247.8,1309.5 1248.1,1308.6 1248.4,1308.1 1248.6,1307.6 1248.9,1307.1 1249.1,1306.6 1249.6,1305.5 1249.9,1305.0 1250.2,1304.3 1250.5,1303.8 1250.8,1303.2 1251.3,1302.3 1251.6,1301.8 1251.9,1301.1 1252.3,1300.4 1252.9,1299.5 1253.2,1299.0 1253.7,1298.2 1254.1,1297.7 1254.4,1297.2 1254.9,1296.5 1255.3,1295.8 1255.9,1295.1 1256.2,1294.7 1256.7,1294.1 1257.0,1293.6 1257.6,1292.8 1257.9,1292.4 1258.5,1291.7 1259.0,1291.1 1259.4,1290.5 1259.8,1290.0 1260.3,1289.5 1260.7,1289.0 1261.0,1288.6 1261.4,1288.2 1262.0,1287.5 1262.3,1287.1 1262.7,1286.7 1263.3,1286.1 1263.8,1285.7 1264.5,1285.0 1264.9,1284.6 1265.4,1284.1 1266.5,1283.2 1267.2,1282.6 1267.8,1282.2 1268.3,1281.9 1269.0,1281.4 1269.5,1281.1 1270.1,1280.8 1270.7,1280.5 1271.1,1280.2 1272.6,1279.5 1273.1,1279.2 1273.7,1278.9 1274.2,1278.6 1274.8,1278.3 1275.3,1278.1 1276.5,1277.5 1277.3,1277.2 1277.9,1277.0 1278.7,1276.7 1279.6,1276.3 1281.0,1276.0 1281.7,1275.8 1283.1,1275.6 1284.4,1275.5 1284.9,1275.5 1285.9,1275.5 1286.8,1275.6 1287.8,1275.7 1288.9,1275.8 1289.7,1275.9 1290.4,1276.0 1292.5,1276.3 1294.5,1276.8 1296.1,1277.1 1299.4,1278.0 1300.4,1278.3 1301.6,1278.7 1302.2,1278.9 1303.1,1279.1 1303.7,1279.3 1305.1,1279.7 1307.0,1280.3 1307.6,1280.6 1312.6,1282.0 1315.4,1282.9 1318.2,1283.7 1321.0,1284.6 1322.2,1285.1 1324.0,1285.7 1326.4,1286.5 1327.9,1287.0 1332.2,1288.2 1333.0,1288.4 1334.5,1288.8 1335.3,1288.9 1336.4,1289.2 1338.2,1289.7 1339.6,1290.0 1342.5,1290.6 1344.2,1290.8 1345.5,1290.9 1346.1,1290.9 1348.8,1290.9 1350.6,1290.7 1361.3,1288.6 1376.6,1278.3 1381.7,1275.3 1384.3,1273.9 1395.1,1264.2 1396.4,1263.1 1410.4,1251.7 1441.1,1226.7 1441.7,1226.2 1483.2,1201.8 1489.6,1199.0 1495.3,1196.9 1513.2,1191.1 1529.1,1185.7 1563.6,1174.3 1973.5,1164.1" fill="none" stroke="none" marker-start="url(#mbl)" marker-mid="url(#mbl)" marker-end="url(#mbl)"/>
<polyline points="1176.9,1614.5 1177.6,1613.7 1178.0,1613.3 1178.7,1612.2 1179.0,1611.7 1179.2,1611.2 1179.4,1610.7 1179.6,1610.2 1179.9,1609.6 1180.1,1609.1 1180.3,1608.5 1180.5,1608.0 1180.6,1607.5 1180.8,1607.0 1181.0,1606.3 1181.2,1605.8 1181.3,1605.3 1181.5,1604.8 1181.6,1604.3 1181.8,1603.7 1181.9,1603.2 1182.1,1602.7 1182.2,1602.2 1182.4,1601.6 1182.5,1601.1 1182.6,1600.6 1182.8,1600.0 1182.9,1599.5 1183.1,1599.0 1183.2,1598.4 1183.3,1597.9 1183.5,1597.3 1183.6,1596.8 1183.7,1596.3 1183.9,1595.7 1184.0,1595.2 1184.1,1594.7 1184.2,1594.1 1184.3,1593.6 1184.5,1593.1 1184.6,1592.5 1184.7,1592.0 1184.8,1591.5 1184.9,1591.0 1185.0,1590.5 1185.2,1590.0 1185.3,1589.5 1185.4,1589.0 1185.5,1588.4 1185.6,1587.9 1185.7,1587.3 1185.8,1586.8 1186.0,1586.3 1186.1,1585.8 1186.2,1585.2 1186.3,1584.7 1186.4,1584.2 1186.5,1583.6 1186.6,1583.0 1186.8,1582.5 1186.9,1582.0 1187.0,1581.5 1187.1,1581.0 1187.2,1580.5 1187.3,1580.0 1187.4,1579.4 1187.5,1578.9 1187.6,1578.4 1187.7,1577.9 1187.8,1577.4 1187.9,1576.9 1188.0,1576.3 1188.2,1575.8 1188.3,1575.3 1188.4,1574.7 1188.5,1574.2 1188.6,1573.8 1188.7,1573.2 1188.8,1572.7 1188.9,1572.3 1189.0,1571.8 1189.1,1571.2 1189.2,1570.7 1189.3,1570.2 1189.4,1569.7 1189.6,1569.1 1189.7,1568.6 1189.8,1568.1 1189.9,1567.6 1190.0,1567.0 1190.1,1566.5 1190.2,1566.0 1190.3,1565.5 1190.4,1565.0 1190.6,1564.5 1190.7,1564.0 1190.8,1563.4 1190.9,1562.9 1191.0,1562.4 1191.1,1561.9 1191.3,1561.4 1191.4,1560.9 1191.5,1560.3 1191.6,1559.8 1191.7,1559.3 1191.8,1558.8 1191.9,1558.3 1192.0,1557.7 1192.2,1557.2 1192.3,1556.7 1192.4,1556.2 1192.5,1555.6 1192.6,1555.2 1192.7,1554.7 1192.8,1554.2 1192.9,1553.7 1193.0,1553.1 1193.1,1552.6 1193.2,1552.1 1193.3,1551.6 1193.4,1551.0 1193.5,1550.5 1193.6,1550.0 1193.7,1549.5 1193.8,1549.0 1193.9,1548.5 1194.0,1548.0 1194.2,1547.5 1194.2,1547.0 1194.3,1546.5 1194.5,1545.9 1194.6,1545.4 1194.7,1544.9 1194.8,1544.4 1194.9,1543.9 1195.0,1543.4 1195.1,1542.8 1195.2,1542.3 1195.3,1541.8 1195.4,1541.3 1195.5,1540.7 1195.6,1540.2 1195.7,1539.7 1195.8,1539.1 1195.9,1538.6 1196.0,1538.1 1196.1,1537.7 1196.2,1537.2 1196.3,1536.6 1196.4,1536.1 1196.4,1535.6 1196.5,1535.1 1196.6,1534.6 1196.7,1534.1 1196.8,1533.6 1196.9,1533.1 1197.0,1532.6 1197.1,1532.1 1197.2,1531.5 1197.3,1531.0 1197.4,1530.5 1197.5,1530.0 1197.6,1529.5 1197.7,1529.0 1197.8,1528.5 1197.9,1528.0 1198.0,1527.4 1198.1,1526.9 1198.2,1526.4 1198.3,1525.9 1198.4,1525.4 1198.5,1524.8 1198.6,1524.3 1198.7,1523.8 1198.8,1523.3 1198.9,1522.8 1199.0,1522.3 1199.1,1521.8 1199.2,1521.2 1199.3,1520.7 1199.4,1520.2 1199.5,1519.7 1199.6,1519.2 1199.7,1518.6 1199.8,1518.1 1199.9,1517.5 1200.0,1517.0 1200.1,1516.5 1200.2,1516.0 1200.3,1515.4 1200.4,1514.9 1200.5,1514.3 1200.6,1513.8 1200.7,1513.2 1200.8,1512.7 1200.9,1512.2 1201.0,1511.7 1201.1,1511.1 1201.2,1510.6 1201.3,1510.1 1201.4,1509.5 1201.5,1509.0 1201.6,1508.5 1201.7,1508.0 1201.9,1507.4 1202.0,1506.9 1202.1,1506.4 1202.2,1505.7 1202.3,1505.1 1202.4,1504.6 1202.5,1504.1 1202.6,1503.6 1202.7,1503.1 1202.8,1502.5 1202.9,1502.0 1203.0,1501.5 1203.2,1501.0 1203.3,1500.5 1203.4,1500.0 1203.5,1499.5 1203.6,1498.9 1203.7,1498.4 1203.8,1497.9 1203.9,1497.3 1204.1,1496.8 1204.2,1496.2 1204.3,1495.7 1204.4,1495.2 1204.5,1494.6 1204.6,1494.1 1204.7,1493.6 1204.8,1493.1 1204.9,1492.6 1205.1,1492.1 1205.2,1491.6 1205.3,1491.0 1205.4,1490.4 1205.5,1490.0 1205.6,1489.5 1205.7,1489.0 1205.9,1488.4 1206.0,1487.9 1206.1,1487.4 1206.2,1486.8 1206.3,1486.3 1206.4,1485.8 1206.5,1485.3 1206.6,1484.8 1206.7,1484.3 1206.9,1483.6 1207.0,1483.0 1207.1,1482.5 1207.2,1482.0 1207.3,1481.5 1207.4,1480.9 1207.6,1480.4 1207.7,1479.9 1207.8,1479.3 1207.9,1478.8 1208.0,1478.3 1208.1,1477.8 1208.2,1477.3 1208.3,1476.8 1208.5,1476.2 1208.6,1475.7 1208.7,1475.2 1208.8,1474.7 1208.9,1474.2 1209.0,1473.6 1209.1,1473.1 1209.2,1472.6 1209.4,1472.0 1209.5,1471.5 1209.6,1470.8 1209.8,1470.3 1209.9,1469.8 1210.0,1469.2 1210.1,1468.6 1210.2,1468.1 1210.4,1467.6 1210.5,1466.9 1210.6,1466.4 1210.8,1465.8 1210.9,1465.3 1211.0,1464.8 1211.1,1464.3 1211.2,1463.7 1211.3,1463.3 1211.5,1462.7 1211.6,1462.2 1211.7,1461.6 1211.9,1461.0 1212.0,1460.5 1212.1,1460.0 1212.2,1459.5 1212.3,1459.0 1212.5,1458.4 1212.6,1457.9 1212.7,1457.3 1212.9,1456.8 1213.0,1456.3 1213.1,1455.8 1213.2,1455.3 1213.4,1454.8 1213.5,1454.3 1213.6,1453.7 1213.8,1453.2 1213.9,1452.6 1214.0,1452.1 1214.2,1451.6 1214.3,1451.1 1214.4,1450.6 1214.6,1450.1 1214.7,1449.4 1214.9,1448.9 1215.1,1448.1 1215.2,1447.5 1215.4,1447.0 1215.5,1446.5 1215.6,1446.1 1215.8,1445.4 1216.0,1444.9 1216.1,1444.4 1216.3,1443.8 1216.5,1443.2 1216.6,1442.7 1216.8,1442.2 1216.9,1441.7 1217.1,1441.2 1217.2,1440.7 1217.3,1440.2 1217.5,1439.7 1217.7,1439.2 1217.8,1438.7 1218.0,1438.1 1218.2,1437.6 1218.3,1437.1 1218.5,1436.6 1218.7,1436.1 1218.8,1435.5 1219.0,1435.1 1219.1,1434.6 1219.3,1434.1 1219.5,1433.5 1219.7,1432.9 1219.9,1432.4 1220.0,1431.9 1220.2,1431.4 1220.4,1430.9 1220.5,1430.4 1220.7,1429.9 1220.9,1429.4 1221.1,1428.9 1221.2,1428.4 1221.4,1427.9 1221.6,1427.4 1221.8,1426.8 1222.0,1426.2 1222.2,1425.7 1222.4,1425.2 1222.6,1424.5 1222.8,1424.0 1223.0,1423.5 1223.2,1422.9 1223.4,1422.3 1223.6,1421.8 1223.8,1421.4 1224.0,1420.9 1224.2,1420.2 1224.4,1419.8 1224.6,1419.3 1224.8,1418.8 1225.0,1418.3 1225.2,1417.8 1225.4,1417.1 1225.7,1416.6 1225.9,1416.0 1226.1,1415.5 1226.3,1415.1 1226.5,1414.4 1226.7,1414.0 1227.0,1413.3 1227.2,1412.7 1227.4,1412.2 1227.7,1411.7 1227.9,1411.1 1228.2,1410.4 1228.5,1409.6 1228.7,1409.1 1229.1,1408.3 1229.3,1407.8 1229.5,1407.2 1229.7,1406.7 1230.0,1406.1 1230.2,1405.5 1230.5,1405.0 1230.7,1404.4 1230.9,1404.0 1231.2,1403.4 1231.5,1402.7 1231.8,1402.0 1232.1,1401.2 1232.3,1400.8 1232.6,1400.3 1232.8,1399.7 1233.1,1399.2 1233.3,1398.7 1233.5,1398.1 1233.8,1397.6 1234.0,1397.1 1234.3,1396.6 1234.6,1395.9 1234.8,1395.4 1235.1,1394.8 1235.3,1394.3 1235.5,1393.9 1235.8,1393.3 1236.0,1392.8 1236.4,1392.2 1236.6,1391.7 1236.8,1391.2 1237.1,1390.8 1237.3,1390.3 1237.6,1389.7 1237.8,1389.2 1238.1,1388.7 1238.4,1388.1 1238.6,1387.6 1238.9,1387.0 1239.3,1386.3 1239.5,1385.9 1239.8,1385.4 1240.0,1384.9 1240.3,1384.4 1240.6,1383.9 1240.8,1383.4 1241.1,1382.9 1241.4,1382.3 1241.7,1381.8 1242.1,1381.1 1242.3,1380.6 1242.7,1380.0 1243.0,1379.3 1243.3,1378.7 1243.6,1378.3 1243.9,1377.6 1244.2,1377.1 1244.5,1376.5 1244.8,1375.9 1245.1,1375.5 1245.3,1374.9 1245.6,1374.4 1246.0,1373.8 1246.3,1373.2 1246.5,1372.7 1246.9,1372.1 1247.2,1371.5 1247.5,1371.0 1247.8,1370.5 1248.1,1369.8 1248.5,1369.2 1248.9,1368.6 1249.2,1368.0 1249.6,1367.3 1250.0,1366.7 1250.4,1366.1 1250.8,1365.4 1251.3,1364.8 1251.6,1364.4 1251.9,1363.9 1252.3,1363.4 1252.9,1362.7 1253.4,1362.2 1253.8,1361.8 1254.2,1361.3 1254.7,1360.8 1255.1,1360.4 1255.5,1360.0 1255.9,1359.6 1256.4,1359.1 1256.7,1358.7 1257.2,1358.2 1257.6,1357.9 1258.5,1357.0 1259.0,1356.5 1259.4,1356.1 1259.8,1355.8 1260.3,1355.5 1260.7,1355.1 1261.2,1354.7 1262.0,1354.3 1262.7,1353.9 1263.3,1353.6 1263.9,1353.4 1264.5,1353.2 1265.2,1353.1 1266.5,1353.2 1267.2,1353.3 1267.8,1353.4 1268.3,1353.6 1269.0,1353.9 1269.5,1354.1 1270.1,1354.4 1270.7,1354.8 1271.1,1355.1 1271.6,1355.4 1272.6,1356.2 1273.0,1356.5 1273.4,1356.9 1273.8,1357.3 1274.2,1357.7 1274.8,1358.3 1275.3,1358.9 1275.8,1359.3 1276.5,1360.1 1277.3,1361.1 1277.9,1361.8 1278.7,1362.8 1279.6,1364.1 1281.0,1366.1 1281.4,1366.6 1281.7,1367.0 1283.1,1369.1 1284.4,1371.0 1284.9,1371.9 1285.9,1373.5 1286.8,1374.8 1287.2,1375.4 1287.8,1376.4 1288.1,1377.0 1288.9,1378.2 1289.2,1378.6 1289.7,1379.3 1289.9,1379.8 1290.4,1380.5 1292.5,1383.7 1292.8,1384.2 1294.5,1386.8 1296.1,1389.3 1299.4,1395.4 1300.4,1397.4 1301.6,1399.8 1302.2,1401.1 1303.1,1402.8 1303.7,1404.1 1305.1,1407.1 1305.4,1407.9 1307.0,1411.5 1307.6,1413.0 1312.6,1424.2 1315.4,1429.7 1315.9,1430.5 1318.2,1434.5 1318.5,1435.1 1321.0,1439.7 1322.2,1442.2 1324.0,1446.5 1326.4,1452.7 1327.9,1456.7 1332.2,1465.9 1333.0,1467.3 1334.5,1469.7 1335.3,1470.8 1336.4,1472.5 1338.2,1475.1 1339.6,1477.1 1342.5,1481.1 1344.2,1483.2 1345.5,1484.8 1346.1,1485.7 1348.8,1489.0 1349.2,1489.4 1350.6,1491.1 1361.3,1503.1 1376.6,1518.6 1381.7,1523.0 1384.3,1524.8 1395.1,1529.9 1396.4,1530.2 1410.4,1532.2 1441.1,1528.8 1441.7,1528.8 1483.2,1524.2 1489.6,1524.4 1495.3,1525.1 1513.2,1530.2 1529.1,1547.3 1563.6,1601.6 1973.5,1661.5" fill="none" stroke="none" marker-start="url(#mbl)" marker-mid="url(#mbl)" marker-end="url(#mbl)"/>
<rect x="126.8" y="59.5" width="860.20" height="751.80" fill="none" stroke="#000" stroke-width="2.3"/>
<line x1="156.60" y1="811.30" x2="156.60" y2="830.60" stroke="#000" stroke-width="2.1"/>
<text x="156.60" y="876.30" class="t" text-anchor="middle">0</text>
<line x1="284.36" y1="811.30" x2="284.36" y2="830.60" stroke="#000" stroke-width="2.1"/>
<text x="284.36" y="876.30" class="t" text-anchor="middle">2</text>
<line x1="412.12" y1="811.30" x2="412.12" y2="830.60" stroke="#000" stroke-width="2.1"/>
<text x="412.12" y="876.30" class="t" text-anchor="middle">4</text>
<line x1="539.88" y1="811.30" x2="539.88" y2="830.60" stroke="#000" stroke-width="2.1"/>
<text x="539.88" y="876.30" class="t" text-anchor="middle">6</text>
<line x1="667.64" y1="811.30" x2="667.64" y2="830.60" stroke="#000" stroke-width="2.1"/>
<text x="667.64" y="876.30" class="t" text-anchor="middle">8</text>
<line x1="795.40" y1="811.30" x2="795.40" y2="830.60" stroke="#000" stroke-width="2.1"/>
<text x="795.40" y="876.30" class="t" text-anchor="middle">10</text>
<line x1="923.16" y1="811.30" x2="923.16" y2="830.60" stroke="#000" stroke-width="2.1"/>
<text x="923.16" y="876.30" class="t" text-anchor="middle">12</text>
<line x1="108.00" y1="727.50" x2="126.80" y2="727.50" stroke="#000" stroke-width="2.1"/>
<text transform="translate(83.80,727.50) rotate(-90)" class="t" text-anchor="middle">100</text>
<line x1="108.00" y1="542.00" x2="126.80" y2="542.00" stroke="#000" stroke-width="2.1"/>
<text transform="translate(83.80,542.00) rotate(-90)" class="t" text-anchor="middle">200</text>
<line x1="108.00" y1="356.50" x2="126.80" y2="356.50" stroke="#000" stroke-width="2.1"/>
<text transform="translate(83.80,356.50) rotate(-90)" class="t" text-anchor="middle">300</text>
<line x1="108.00" y1="171.00" x2="126.80" y2="171.00" stroke="#000" stroke-width="2.1"/>
<text transform="translate(83.80,171.00) rotate(-90)" class="t" text-anchor="middle">400</text>
<rect x="1144.0" y="59.5" width="860.00" height="751.80" fill="none" stroke="#000" stroke-width="2.3"/>
<line x1="1173.75" y1="811.30" x2="1173.75" y2="830.60" stroke="#000" stroke-width="2.1"/>
<text x="1173.75" y="876.30" class="t" text-anchor="middle">0</text>
<line x1="1301.51" y1="811.30" x2="1301.51" y2="830.60" stroke="#000" stroke-width="2.1"/>
<text x="1301.51" y="876.30" class="t" text-anchor="middle">2</text>
<line x1="1429.27" y1="811.30" x2="1429.27" y2="830.60" stroke="#000" stroke-width="2.1"/>
<text x="1429.27" y="876.30" class="t" text-anchor="middle">4</text>
<line x1="1557.03" y1="811.30" x2="1557.03" y2="830.60" stroke="#000" stroke-width="2.1"/>
<text x="1557.03" y="876.30" class="t" text-anchor="middle">6</text>
<line x1="1684.79" y1="811.30" x2="1684.79" y2="830.60" stroke="#000" stroke-width="2.1"/>
<text x="1684.79" y="876.30" class="t" text-anchor="middle">8</text>
<line x1="1812.55" y1="811.30" x2="1812.55" y2="830.60" stroke="#000" stroke-width="2.1"/>
<text x="1812.55" y="876.30" class="t" text-anchor="middle">10</text>
<line x1="1940.31" y1="811.30" x2="1940.31" y2="830.60" stroke="#000" stroke-width="2.1"/>
<text x="1940.31" y="876.30" class="t" text-anchor="middle">12</text>
<line x1="1125.20" y1="779.90" x2="1144.00" y2="779.90" stroke="#000" stroke-width="2.1"/>
<text transform="translate(1101.00,779.90) rotate(-90)" class="t" text-anchor="middle">50</text>
<line x1="1125.20" y1="680.85" x2="1144.00" y2="680.85" stroke="#000" stroke-width="2.1"/>
<text transform="translate(1101.00,680.85) rotate(-90)" class="t" text-anchor="middle">100</text>
<line x1="1125.20" y1="581.79" x2="1144.00" y2="581.79" stroke="#000" stroke-width="2.1"/>
<text transform="translate(1101.00,581.79) rotate(-90)" class="t" text-anchor="middle">150</text>
<line x1="1125.20" y1="482.73" x2="1144.00" y2="482.73" stroke="#000" stroke-width="2.1"/>
<text transform="translate(1101.00,482.73) rotate(-90)" class="t" text-anchor="middle">200</text>
<line x1="1125.20" y1="383.68" x2="1144.00" y2="383.68" stroke="#000" stroke-width="2.1"/>
<text transform="translate(1101.00,383.68) rotate(-90)" class="t" text-anchor="middle">250</text>
<line x1="1125.20" y1="284.62" x2="1144.00" y2="284.62" stroke="#000" stroke-width="2.1"/>
<text transform="translate(1101.00,284.62) rotate(-90)" class="t" text-anchor="middle">300</text>
<line x1="1125.20" y1="185.57" x2="1144.00" y2="185.57" stroke="#000" stroke-width="2.1"/>
<text transform="translate(1101.00,185.57) rotate(-90)" class="t" text-anchor="middle">350</text>
<line x1="1125.20" y1="86.51" x2="1144.00" y2="86.51" stroke="#000" stroke-width="2.1"/>
<text transform="translate(1101.00,86.51) rotate(-90)" class="t" text-anchor="middle">400</text>
<rect x="126.8" y="986.9" width="860.20" height="751.85" fill="none" stroke="#000" stroke-width="2.3"/>
<line x1="156.60" y1="1738.75" x2="156.60" y2="1758.05" stroke="#000" stroke-width="2.1"/>
<text x="156.60" y="1803.75" class="t" text-anchor="middle">0</text>
<line x1="284.36" y1="1738.75" x2="284.36" y2="1758.05" stroke="#000" stroke-width="2.1"/>
<text x="284.36" y="1803.75" class="t" text-anchor="middle">2</text>
<line x1="412.12" y1="1738.75" x2="412.12" y2="1758.05" stroke="#000" stroke-width="2.1"/>
<text x="412.12" y="1803.75" class="t" text-anchor="middle">4</text>
<line x1="539.88" y1="1738.75" x2="539.88" y2="1758.05" stroke="#000" stroke-width="2.1"/>
<text x="539.88" y="1803.75" class="t" text-anchor="middle">6</text>
<line x1="667.64" y1="1738.75" x2="667.64" y2="1758.05" stroke="#000" stroke-width="2.1"/>
<text x="667.64" y="1803.75" class="t" text-anchor="middle">8</text>
<line x1="795.40" y1="1738.75" x2="795.40" y2="1758.05" stroke="#000" stroke-width="2.1"/>
<text x="795.40" y="1803.75" class="t" text-anchor="middle">10</text>
<line x1="923.16" y1="1738.75" x2="923.16" y2="1758.05" stroke="#000" stroke-width="2.1"/>
<text x="923.16" y="1803.75" class="t" text-anchor="middle">12</text>
<line x1="108.00" y1="1655.10" x2="126.80" y2="1655.10" stroke="#000" stroke-width="2.1"/>
<text transform="translate(83.80,1655.10) rotate(-90)" class="t" text-anchor="middle">0.0</text>
<line x1="108.00" y1="1543.68" x2="126.80" y2="1543.68" stroke="#000" stroke-width="2.1"/>
<text transform="translate(83.80,1543.68) rotate(-90)" class="t" text-anchor="middle">0.2</text>
<line x1="108.00" y1="1432.26" x2="126.80" y2="1432.26" stroke="#000" stroke-width="2.1"/>
<text transform="translate(83.80,1432.26) rotate(-90)" class="t" text-anchor="middle">0.4</text>
<line x1="108.00" y1="1320.84" x2="126.80" y2="1320.84" stroke="#000" stroke-width="2.1"/>
<text transform="translate(83.80,1320.84) rotate(-90)" class="t" text-anchor="middle">0.6</text>
<line x1="108.00" y1="1209.42" x2="126.80" y2="1209.42" stroke="#000" stroke-width="2.1"/>
<text transform="translate(83.80,1209.42) rotate(-90)" class="t" text-anchor="middle">0.8</text>
<line x1="108.00" y1="1098.00" x2="126.80" y2="1098.00" stroke="#000" stroke-width="2.1"/>
<text transform="translate(83.80,1098.00) rotate(-90)" class="t" text-anchor="middle">1.0</text>
<line x1="108.00" y1="986.58" x2="126.80" y2="986.58" stroke="#000" stroke-width="2.1"/>
<text transform="translate(83.80,986.58) rotate(-90)" class="t" text-anchor="middle">1.2</text>
<rect x="1144.0" y="986.9" width="860.00" height="751.85" fill="none" stroke="#000" stroke-width="2.3"/>
<line x1="1173.75" y1="1738.75" x2="1173.75" y2="1758.05" stroke="#000" stroke-width="2.1"/>
<text x="1173.75" y="1803.75" class="t" text-anchor="middle">0</text>
<line x1="1301.51" y1="1738.75" x2="1301.51" y2="1758.05" stroke="#000" stroke-width="2.1"/>
<text x="1301.51" y="1803.75" class="t" text-anchor="middle">2</text>
<line x1="1429.27" y1="1738.75" x2="1429.27" y2="1758.05" stroke="#000" stroke-width="2.1"/>
<text x="1429.27" y="1803.75" class="t" text-anchor="middle">4</text>
<line x1="1557.03" y1="1738.75" x2="1557.03" y2="1758.05" stroke="#000" stroke-width="2.1"/>
<text x="1557.03" y="1803.75" class="t" text-anchor="middle">6</text>
<line x1="1684.79" y1="1738.75" x2="1684.79" y2="1758.05" stroke="#000" stroke-width="2.1"/>
<text x="1684.79" y="1803.75" class="t" text-anchor="middle">8</text>
<line x1="1812.55" y1="1738.75" x2="1812.55" y2="1758.05" stroke="#000" stroke-width="2.1"/>
<text x="1812.55" y="1803.75" class="t" text-anchor="middle">10</text>
<line x1="1940.31" y1="1738.75" x2="1940.31" y2="1758.05" stroke="#000" stroke-width="2.1"/>
<text x="1940.31" y="1803.75" class="t" text-anchor="middle">12</text>
<line x1="1125.20" y1="1661.50" x2="1144.00" y2="1661.50" stroke="#000" stroke-width="2.1"/>
<text transform="translate(1101.00,1661.50) rotate(-90)" class="t" text-anchor="middle">0.0</text>
<line x1="1125.20" y1="1562.02" x2="1144.00" y2="1562.02" stroke="#000" stroke-width="2.1"/>
<text transform="translate(1101.00,1562.02) rotate(-90)" class="t" text-anchor="middle">0.2</text>
<line x1="1125.20" y1="1462.54" x2="1144.00" y2="1462.54" stroke="#000" stroke-width="2.1"/>
<text transform="translate(1101.00,1462.54) rotate(-90)" class="t" text-anchor="middle">0.4</text>
<line x1="1125.20" y1="1363.06" x2="1144.00" y2="1363.06" stroke="#000" stroke-width="2.1"/>
<text transform="translate(1101.00,1363.06) rotate(-90)" class="t" text-anchor="middle">0.6</text>
<line x1="1125.20" y1="1263.58" x2="1144.00" y2="1263.58" stroke="#000" stroke-width="2.1"/>
<text transform="translate(1101.00,1263.58) rotate(-90)" class="t" text-anchor="middle">0.8</text>
<line x1="1125.20" y1="1164.10" x2="1144.00" y2="1164.10" stroke="#000" stroke-width="2.1"/>
<text transform="translate(1101.00,1164.10) rotate(-90)" class="t" text-anchor="middle">1.0</text>
<line x1="1125.20" y1="1064.62" x2="1144.00" y2="1064.62" stroke="#000" stroke-width="2.1"/>
<text transform="translate(1101.00,1064.62) rotate(-90)" class="t" text-anchor="middle">1.2</text>
<text x="561.70" y="919.40" class="t" text-anchor="middle">ALT/HDL-C ratio</text>
<text x="1571.00" y="920.00" class="t" text-anchor="middle">ALT/HDL-C ratio</text>
<text x="566.20" y="1848.50" class="t" text-anchor="middle">ALT/HDL-C ratio</text>
<text x="1571.00" y="1848.80" class="t" text-anchor="middle">ALT/HDL-C ratio</text>
<text transform="translate(29.00,438.50) rotate(-90)" class="t" text-anchor="middle" style="font-size:30.2px">CAP values<tspan class="cj">（</tspan>dB/m<tspan class="cj">）</tspan></text>
<text transform="translate(1047.50,418.50) rotate(-90)" class="t" text-anchor="middle" style="font-size:30.2px">CAP values<tspan class="cj">（</tspan>dB/m<tspan class="cj">）</tspan></text>
<text transform="translate(25.10,1352.00) rotate(-90)" class="t" text-anchor="middle">Prevalence of NAFLD</text>
<text transform="translate(1045.10,1363.30) rotate(-90)" class="t" text-anchor="middle">Prevalence of NAFLD</text>
<text x="62.2" y="42.4" class="L">A</text>
<text x="1083" y="43.1" class="L">B</text>
<text x="59.7" y="965" class="L">C</text>
<text x="1081.2" y="964.25" class="L">D</text>
</svg>
</body></html>
